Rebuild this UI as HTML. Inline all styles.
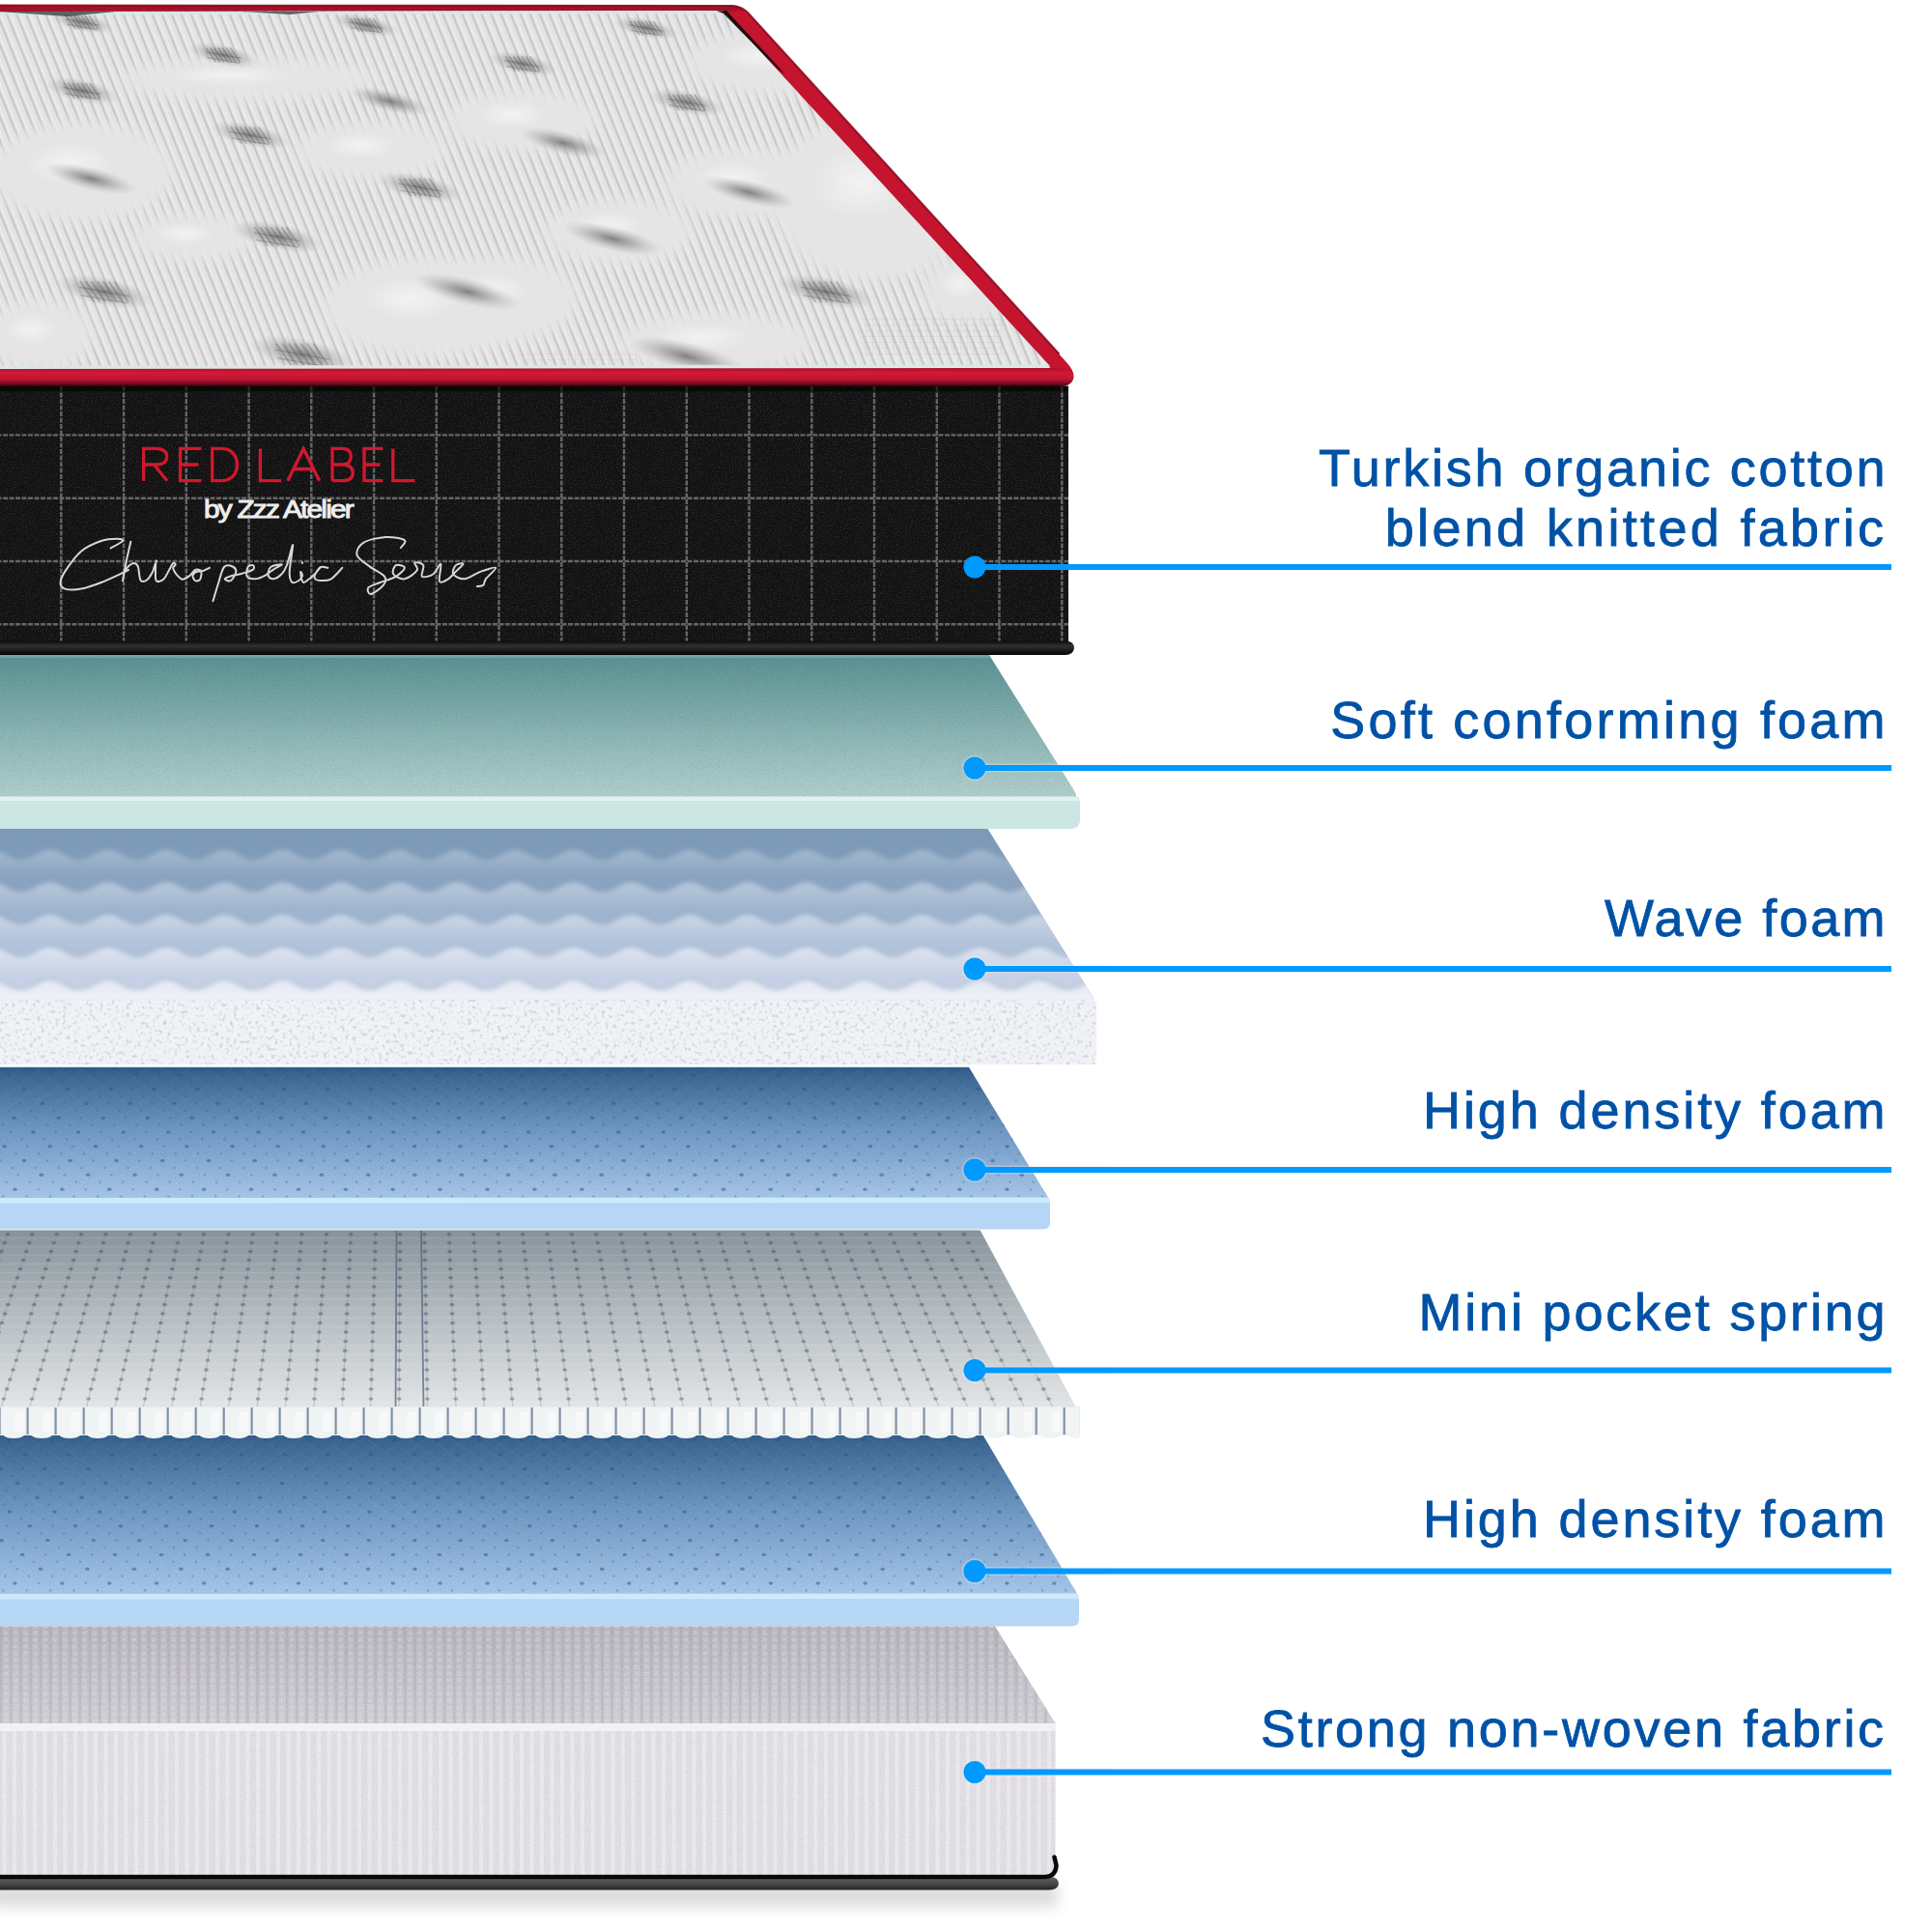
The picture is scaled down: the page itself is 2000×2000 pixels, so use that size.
<!DOCTYPE html>
<html>
<head>
<meta charset="utf-8">
<style>
html,body{margin:0;padding:0;background:#fff;}
body{width:2000px;height:2000px;position:relative;overflow:hidden;font-family:"Liberation Sans",sans-serif;}
svg{position:absolute;left:0;top:0;}
.lbl{position:absolute;right:46px;color:#0152a6;font-size:54px;line-height:1;letter-spacing:2.9px;white-space:nowrap;text-align:right;-webkit-text-stroke:0.8px #0152a6;}
</style>
</head>
<body>
<svg width="2000" height="2000" viewBox="0 0 2000 2000">
<defs>
  <linearGradient id="gRedBand" x1="0" y1="0" x2="0" y2="1">
    <stop offset="0" stop-color="#a80e28"/>
    <stop offset="0.25" stop-color="#d41a36"/>
    <stop offset="0.6" stop-color="#c01632"/>
    <stop offset="0.85" stop-color="#7a0a20"/>
    <stop offset="1" stop-color="#2a0508"/>
  </linearGradient>
  <linearGradient id="gTeal" x1="0" y1="0" x2="0" y2="1">
    <stop offset="0" stop-color="#5a9192"/>
    <stop offset="0.55" stop-color="#8db6b6"/>
    <stop offset="1" stop-color="#b2d2d1"/>
  </linearGradient>
  <linearGradient id="gWave" x1="0" y1="0" x2="0" y2="1">
    <stop offset="0" stop-color="#7b99b7"/>
    <stop offset="1" stop-color="#90aac5"/>
  </linearGradient>
  <linearGradient id="gHD" x1="0" y1="0" x2="0" y2="1">
    <stop offset="0" stop-color="#2f5a87"/>
    <stop offset="0.06" stop-color="#3c6793"/>
    <stop offset="0.45" stop-color="#6c96c2"/>
    <stop offset="1" stop-color="#a9c9ec"/>
  </linearGradient>
  <linearGradient id="gSpring" x1="0" y1="0" x2="0" y2="1">
    <stop offset="0" stop-color="#87929a"/>
    <stop offset="0.5" stop-color="#b7bec3"/>
    <stop offset="1" stop-color="#e4e6e8"/>
  </linearGradient>
  <linearGradient id="gNW" x1="0" y1="0" x2="0" y2="1">
    <stop offset="0" stop-color="#b5b2ba"/>
    <stop offset="1" stop-color="#cdcad2"/>
  </linearGradient>
  <pattern id="pHatch" width="21.75" height="15.5" patternUnits="userSpaceOnUse" x="18.6" y="8">
    <path d="M 0 0 L 21.75 15.5 M 21.75 0 L 0 15.5" stroke="#d6e8fa" stroke-width="1" opacity="0.35" fill="none"/>
  </pattern>
  <pattern id="pKnit" width="10.2" height="7" patternUnits="userSpaceOnUse">
    <rect x="0" y="0" width="2.5" height="7" fill="#9d99a3" opacity="0.8"/>
    <ellipse cx="6" cy="3.5" rx="2.6" ry="2.4" fill="#e2e0e6" opacity="0.8"/>
  </pattern>
  <pattern id="pGrid" width="7" height="6" patternUnits="userSpaceOnUse">
    <path d="M 0 0 H 7 M 0 0 V 6" stroke="#7a7a7a" stroke-width="1.2" fill="none"/>
  </pattern>
  <linearGradient id="gPipe3" x1="0" y1="0" x2="0" y2="1">
    <stop offset="0" stop-color="#606060"/>
    <stop offset="0.5" stop-color="#4a4a4a"/>
    <stop offset="1" stop-color="#252525"/>
  </linearGradient>
  <linearGradient id="gShadow" x1="0" y1="0" x2="0" y2="1">
    <stop offset="0" stop-color="#c4c4c4"/>
    <stop offset="0.4" stop-color="#e6e6e6"/>
    <stop offset="1" stop-color="#ffffff"/>
  </linearGradient>
  <linearGradient id="gPipe" x1="0" y1="0" x2="0" y2="1">
    <stop offset="0" stop-color="#0c0c0c"/>
    <stop offset="0.35" stop-color="#303030"/>
    <stop offset="0.7" stop-color="#1a1a1a"/>
    <stop offset="1" stop-color="#050505"/>
  </linearGradient>
  <linearGradient id="gPipe2" x1="0" y1="0" x2="0" y2="1">
    <stop offset="0" stop-color="#101010"/>
    <stop offset="0.3" stop-color="#2a2a2a"/>
    <stop offset="0.7" stop-color="#4a4a4a"/>
    <stop offset="1" stop-color="#3a3a3a"/>
  </linearGradient>
  <radialGradient id="gTuft">
    <stop offset="0" stop-color="#707070" stop-opacity="0.9"/>
    <stop offset="0.4" stop-color="#8c8c8c" stop-opacity="0.6"/>
    <stop offset="1" stop-color="#b0b0b0" stop-opacity="0"/>
  </radialGradient>
  <radialGradient id="gHi">
    <stop offset="0" stop-color="#ffffff" stop-opacity="0.75"/>
    <stop offset="1" stop-color="#ffffff" stop-opacity="0"/>
  </radialGradient>
  <pattern id="pStripe" width="9.3" height="9" patternUnits="userSpaceOnUse" patternTransform="rotate(-22)">
    <rect x="0" y="0" width="2.4" height="9" fill="#8a8a8a" opacity="0.6"/>
    <rect x="2.6" y="0" width="3" height="9" fill="#f6f6f6" opacity="0.75"/>
  </pattern>
  <filter id="fNoise" x="0" y="0" width="100%" height="100%">
    <feTurbulence type="fractalNoise" baseFrequency="0.9" numOctaves="2" seed="3"/>
    <feColorMatrix type="matrix" values="0 0 0 0 0  0 0 0 0 0  0 0 0 0 0  0 0 0 -2.2 1.25"/>
  </filter>
  <filter id="fNoise2" x="0" y="0" width="100%" height="100%">
    <feTurbulence type="fractalNoise" baseFrequency="0.26" numOctaves="2" seed="11"/>
    <feColorMatrix type="matrix" values="0 0 0 0 0.35  0 0 0 0 0.42  0 0 0 0 0.5  0 0 0 -4 1.85"/>
  </filter>
  <filter id="fNoiseW" x="0" y="0" width="100%" height="100%">
    <feTurbulence type="fractalNoise" baseFrequency="0.7" numOctaves="2" seed="7"/>
    <feColorMatrix type="matrix" values="0 0 0 0 1  0 0 0 0 1  0 0 0 0 1  0 0 0 -2.5 1.3"/>
  </filter>
  <filter id="fBlurW" x="-5%" y="-5%" width="110%" height="110%"><feGaussianBlur stdDeviation="2.6"/></filter>
  <filter id="fBlurS" x="0" y="0" width="100%" height="100%"><feGaussianBlur stdDeviation="0.7"/></filter>
  <filter id="fBlur05"><feGaussianBlur stdDeviation="0.6"/></filter>
  <filter id="fBlurSh" x="-10%" y="-100%" width="120%" height="300%"><feGaussianBlur stdDeviation="7"/></filter>
  <filter id="fBlurG" x="-1%" y="-1%" width="102%" height="102%"><feGaussianBlur stdDeviation="0.5"/></filter>
  <filter id="fBlur1"><feGaussianBlur stdDeviation="1"/></filter>
  <filter id="fBlur2"><feGaussianBlur stdDeviation="2.5"/></filter>
  <filter id="fBlur6" x="-30%" y="-50%" width="160%" height="200%"><feGaussianBlur stdDeviation="7"/></filter>
  <filter id="fBlur4"><feGaussianBlur stdDeviation="5"/></filter>
  <clipPath id="cFabric"><path d="M -10 12 L 748 11 L 1087 379 L -10 381 Z"/></clipPath>
  <clipPath id="cBlack"><rect x="-10" y="400" width="1116" height="264"/></clipPath>
  <clipPath id="cTeal"><path d="M -10 678 L 1024 678 L 1110 815 Q 1117 826 1112 828 L -10 828 Z"/></clipPath>
  <clipPath id="cWave"><path d="M -10 858 L 1022.5 858 L 1130 1030 Q 1134 1036 1130 1036 L -10 1036 Z"/></clipPath>
  <clipPath id="cHD1"><path d="M -10 1105 L 1003 1105 L 1080 1230 Q 1087 1241 1084 1243 L -10 1243 Z"/></clipPath>
  <clipPath id="cSpring"><path d="M -10 1273.5 L 1014.6 1273.5 L 1114 1457 L -10 1460 Z"/></clipPath>
  <clipPath id="cHD2"><path d="M -10 1483 L 1013.8 1483 L 1110 1640 Q 1117 1651 1114 1653 L -10 1653 Z"/></clipPath>
  <clipPath id="cCyl"><rect x="-10" y="1440" width="1127" height="60"/></clipPath>
  <clipPath id="cNW"><path d="M -10 1683.5 L 1030 1683.5 L 1092.5 1784 L -10 1784 Z"/></clipPath>
</defs>

<path d="M -10 5.5 L 758 6 Q 768 6.5 774 13 L 1104 375 Q 1115 387 1110 395 Q 1106 400 1098 400 L -10 400 Z" fill="#c4142e"/>
<path d="M -10 5.5 L 758 6 Q 768 6.5 774 13 L 1096 366" fill="none" stroke="#8c0a20" stroke-width="2" stroke-linecap="round" opacity="0.9"/>
<path d="M -10 5.5 L 758 6 Q 766 6.5 770 11 L 748 11.5 L -10 12.5 Z" fill="#6a0818" opacity="0.35"/>
<path d="M -10 12 L 748 11 L 1087 379 L -10 381 Z" fill="#e3e3e3"/>
<g clip-path="url(#cFabric)">
<rect x="-10" y="0" width="1120" height="400" fill="url(#pStripe)" opacity="0.5" filter="url(#fBlurS)"/>
<ellipse cx="540" cy="125" rx="77" ry="32" fill="#e5e5e5" opacity="1" filter="url(#fBlur6)"/>
<ellipse cx="770" cy="190" rx="82" ry="37" fill="#e5e5e5" opacity="1" filter="url(#fBlur6)"/>
<ellipse cx="640" cy="240" rx="77" ry="34" fill="#e5e5e5" opacity="1" filter="url(#fBlur6)"/>
<ellipse cx="520" cy="310" rx="77" ry="44" fill="#e5e5e5" opacity="1" filter="url(#fBlur6)"/>
<ellipse cx="740" cy="355" rx="99" ry="32" fill="#e5e5e5" opacity="1" filter="url(#fBlur6)"/>
<ellipse cx="800" cy="64" rx="88" ry="34" fill="#e5e5e5" opacity="1" filter="url(#fBlur6)"/>
<ellipse cx="905" cy="205" rx="105" ry="86" fill="#e5e5e5" opacity="1" filter="url(#fBlur6)"/>
<ellipse cx="256" cy="82" rx="132" ry="23" fill="#e5e5e5" opacity="1" filter="url(#fBlur6)"/>
<ellipse cx="85" cy="178" rx="94" ry="52" fill="#e5e5e5" opacity="1" filter="url(#fBlur6)"/>
<ellipse cx="384" cy="156" rx="77" ry="30" fill="#e5e5e5" opacity="1" filter="url(#fBlur6)"/>
<ellipse cx="200" cy="246" rx="63" ry="25" fill="#e5e5e5" opacity="1" filter="url(#fBlur6)"/>
<ellipse cx="440" cy="318" rx="105" ry="52" fill="#e5e5e5" opacity="1" filter="url(#fBlur6)"/>
<ellipse cx="40" cy="347" rx="55" ry="37" fill="#e5e5e5" opacity="1" filter="url(#fBlur6)"/>
<ellipse cx="960" cy="110" rx="44" ry="46" fill="#e5e5e5" opacity="1" filter="url(#fBlur6)"/>
<ellipse cx="1000" cy="300" rx="44" ry="34" fill="#e5e5e5" opacity="1" filter="url(#fBlur6)"/>
<ellipse cx="530" cy="119" rx="38" ry="14" fill="url(#gHi)" opacity="0.7"/>
<ellipse cx="759" cy="184" rx="41" ry="16" fill="url(#gHi)" opacity="0.7"/>
<ellipse cx="630" cy="234" rx="38" ry="15" fill="url(#gHi)" opacity="0.7"/>
<ellipse cx="510" cy="302" rx="38" ry="19" fill="url(#gHi)" opacity="0.7"/>
<ellipse cx="726" cy="349" rx="50" ry="14" fill="url(#gHi)" opacity="0.7"/>
<ellipse cx="788" cy="58" rx="44" ry="15" fill="url(#gHi)" opacity="0.7"/>
<ellipse cx="891" cy="190" rx="52" ry="38" fill="url(#gHi)" opacity="0.7"/>
<ellipse cx="238" cy="78" rx="66" ry="10" fill="url(#gHi)" opacity="0.7"/>
<ellipse cx="72" cy="169" rx="47" ry="22" fill="url(#gHi)" opacity="0.7"/>
<ellipse cx="374" cy="151" rx="38" ry="13" fill="url(#gHi)" opacity="0.7"/>
<ellipse cx="191" cy="242" rx="31" ry="11" fill="url(#gHi)" opacity="0.7"/>
<ellipse cx="426" cy="309" rx="52" ry="22" fill="url(#gHi)" opacity="0.7"/>
<ellipse cx="32" cy="341" rx="28" ry="16" fill="url(#gHi)" opacity="0.7"/>
<ellipse cx="954" cy="102" rx="22" ry="20" fill="url(#gHi)" opacity="0.7"/>
<ellipse cx="994" cy="294" rx="22" ry="15" fill="url(#gHi)" opacity="0.7"/>
<rect x="540.0" y="363.0" width="120" height="18" fill="url(#pGrid)" opacity="0.14" filter="url(#fBlur05)"/>
<rect x="890.0" y="328.0" width="150" height="40" fill="url(#pGrid)" opacity="0.14" filter="url(#fBlur05)"/>
<ellipse cx="404" cy="105" rx="43" ry="11" fill="url(#gTuft)" transform="rotate(14 404 105)" opacity="0.95"/>
<ellipse cx="583" cy="148" rx="46" ry="12" fill="url(#gTuft)" transform="rotate(14 583 148)" opacity="0.95"/>
<ellipse cx="94" cy="185" rx="49" ry="12" fill="url(#gTuft)" transform="rotate(14 94 185)" opacity="0.95"/>
<ellipse cx="775" cy="199" rx="50" ry="12" fill="url(#gTuft)" transform="rotate(14 775 199)" opacity="0.95"/>
<ellipse cx="634" cy="247" rx="53" ry="13" fill="url(#gTuft)" transform="rotate(14 634 247)" opacity="0.95"/>
<ellipse cx="484" cy="302" rx="57" ry="14" fill="url(#gTuft)" transform="rotate(14 484 302)" opacity="0.95"/>
<ellipse cx="711" cy="369" rx="62" ry="15" fill="url(#gTuft)" transform="rotate(14 711 369)" opacity="0.95"/>
<ellipse cx="85" cy="23" rx="34" ry="10" fill="url(#gTuft)" transform="rotate(12 85 23)" opacity="0.95"/>
<path d="M 68.6 16.0 L 78.0 30.0 M 72.5 16.0 L 81.9 30.0 M 76.4 16.0 L 85.8 30.0 M 80.3 16.0 L 89.7 30.0 M 84.2 16.0 L 93.6 30.0 M 88.1 16.0 L 97.5 30.0 M 92.0 16.0 L 101.4 30.0" stroke="#555" stroke-width="1.6" opacity="0.35" fill="none" filter="url(#fBlur05)"/>
<path d="M 67.8 19.9 L 102.2 26.1 M 69.3 25.3 L 100.7 30.8" stroke="#555" stroke-width="1.4" opacity="0.3" fill="none" filter="url(#fBlur05)"/>
<ellipse cx="379" cy="26" rx="35" ry="10" fill="url(#gTuft)" transform="rotate(12 379 26)" opacity="0.95"/>
<path d="M 362.5 18.9 L 371.9 33.1 M 366.4 18.9 L 375.8 33.1 M 370.3 18.9 L 379.8 33.1 M 374.3 18.9 L 383.7 33.1 M 378.2 18.9 L 387.7 33.1 M 382.2 18.9 L 391.6 33.1 M 386.1 18.9 L 395.5 33.1" stroke="#555" stroke-width="1.6" opacity="0.35" fill="none" filter="url(#fBlur05)"/>
<path d="M 361.7 22.8 L 396.3 29.2 M 363.2 28.4 L 394.8 33.9" stroke="#555" stroke-width="1.4" opacity="0.3" fill="none" filter="url(#fBlur05)"/>
<ellipse cx="669" cy="29" rx="35" ry="10" fill="url(#gTuft)" transform="rotate(12 669 29)" opacity="0.95"/>
<path d="M 652.4 21.9 L 661.9 36.1 M 656.3 21.9 L 665.8 36.1 M 660.3 21.9 L 669.8 36.1 M 664.2 21.9 L 673.8 36.1 M 668.2 21.9 L 677.7 36.1 M 672.2 21.9 L 681.7 36.1 M 676.1 21.9 L 685.6 36.1" stroke="#555" stroke-width="1.6" opacity="0.35" fill="none" filter="url(#fBlur05)"/>
<path d="M 651.6 25.8 L 686.4 32.2 M 653.2 31.4 L 684.8 36.9" stroke="#555" stroke-width="1.4" opacity="0.3" fill="none" filter="url(#fBlur05)"/>
<ellipse cx="231" cy="57" rx="37" ry="11" fill="url(#gTuft)" transform="rotate(12 231 57)" opacity="0.95"/>
<path d="M 213.5 49.5 L 223.5 64.5 M 217.7 49.5 L 227.7 64.5 M 221.8 49.5 L 231.8 64.5 M 226.0 49.5 L 236.0 64.5 M 230.2 49.5 L 240.2 64.5 M 234.3 49.5 L 244.3 64.5 M 238.5 49.5 L 248.5 64.5" stroke="#555" stroke-width="1.6" opacity="0.35" fill="none" filter="url(#fBlur05)"/>
<path d="M 212.7 53.7 L 249.3 60.3 M 214.3 59.5 L 247.7 65.3" stroke="#555" stroke-width="1.4" opacity="0.3" fill="none" filter="url(#fBlur05)"/>
<ellipse cx="541" cy="66" rx="37" ry="11" fill="url(#gTuft)" transform="rotate(12 541 66)" opacity="0.95"/>
<path d="M 523.2 58.4 L 533.4 73.6 M 527.5 58.4 L 537.6 73.6 M 531.7 58.4 L 541.8 73.6 M 535.9 58.4 L 546.1 73.6 M 540.2 58.4 L 550.3 73.6 M 544.4 58.4 L 554.5 73.6 M 548.6 58.4 L 558.8 73.6" stroke="#555" stroke-width="1.6" opacity="0.35" fill="none" filter="url(#fBlur05)"/>
<path d="M 522.4 62.6 L 559.6 69.4 M 524.1 68.5 L 557.9 74.5" stroke="#555" stroke-width="1.4" opacity="0.3" fill="none" filter="url(#fBlur05)"/>
<ellipse cx="85" cy="94" rx="39" ry="12" fill="url(#gTuft)" transform="rotate(12 85 94)" opacity="0.95"/>
<path d="M 66.4 86.0 L 77.0 102.0 M 70.8 86.0 L 81.5 102.0 M 75.3 86.0 L 85.9 102.0 M 79.7 86.0 L 90.3 102.0 M 84.1 86.0 L 94.7 102.0 M 88.5 86.0 L 99.2 102.0 M 93.0 86.0 L 103.6 102.0" stroke="#555" stroke-width="1.6" opacity="0.35" fill="none" filter="url(#fBlur05)"/>
<path d="M 65.5 90.5 L 104.5 97.5 M 67.3 96.7 L 102.7 102.9" stroke="#555" stroke-width="1.4" opacity="0.3" fill="none" filter="url(#fBlur05)"/>
<ellipse cx="711" cy="106" rx="40" ry="12" fill="url(#gTuft)" transform="rotate(12 711 106)" opacity="0.95"/>
<path d="M 692.0 97.9 L 702.9 114.1 M 696.5 97.9 L 707.4 114.1 M 701.1 97.9 L 711.9 114.1 M 705.6 97.9 L 716.4 114.1 M 710.1 97.9 L 720.9 114.1 M 714.6 97.9 L 725.5 114.1 M 719.1 97.9 L 730.0 114.1" stroke="#555" stroke-width="1.6" opacity="0.35" fill="none" filter="url(#fBlur05)"/>
<path d="M 691.1 102.4 L 730.9 109.6 M 692.9 108.7 L 729.1 115.0" stroke="#555" stroke-width="1.4" opacity="0.3" fill="none" filter="url(#fBlur05)"/>
<ellipse cx="259" cy="140" rx="42" ry="12" fill="url(#gTuft)" transform="rotate(12 259 140)" opacity="0.95"/>
<path d="M 239.0 131.4 L 250.4 148.6 M 243.8 131.4 L 255.2 148.6 M 248.5 131.4 L 260.0 148.6 M 253.3 131.4 L 264.7 148.6 M 258.0 131.4 L 269.5 148.6 M 262.8 131.4 L 274.2 148.6 M 267.6 131.4 L 279.0 148.6" stroke="#555" stroke-width="1.6" opacity="0.35" fill="none" filter="url(#fBlur05)"/>
<path d="M 238.0 136.2 L 280.0 143.8 M 239.9 142.9 L 278.1 149.5" stroke="#555" stroke-width="1.4" opacity="0.3" fill="none" filter="url(#fBlur05)"/>
<ellipse cx="435" cy="194" rx="45" ry="13" fill="url(#gTuft)" transform="rotate(12 435 194)" opacity="0.95"/>
<path d="M 413.4 184.7 L 425.7 203.3 M 418.5 184.7 L 430.9 203.3 M 423.7 184.7 L 436.0 203.3 M 428.8 184.7 L 441.2 203.3 M 434.0 184.7 L 446.3 203.3 M 439.1 184.7 L 451.5 203.3 M 444.3 184.7 L 456.6 203.3" stroke="#555" stroke-width="1.6" opacity="0.35" fill="none" filter="url(#fBlur05)"/>
<path d="M 412.3 189.9 L 457.7 198.1 M 414.4 197.1 L 455.6 204.3" stroke="#555" stroke-width="1.4" opacity="0.3" fill="none" filter="url(#fBlur05)"/>
<ellipse cx="287" cy="245" rx="49" ry="14" fill="url(#gTuft)" transform="rotate(12 287 245)" opacity="0.95"/>
<path d="M 263.8 235.1 L 277.1 254.9 M 269.3 235.1 L 282.6 254.9 M 274.8 235.1 L 288.1 254.9 M 280.4 235.1 L 293.6 254.9 M 285.9 235.1 L 299.2 254.9 M 291.4 235.1 L 304.7 254.9 M 296.9 235.1 L 310.2 254.9" stroke="#555" stroke-width="1.6" opacity="0.35" fill="none" filter="url(#fBlur05)"/>
<path d="M 262.7 240.6 L 311.3 249.4 M 264.9 248.3 L 309.1 256.0" stroke="#555" stroke-width="1.4" opacity="0.3" fill="none" filter="url(#fBlur05)"/>
<ellipse cx="108" cy="302" rx="52" ry="15" fill="url(#gTuft)" transform="rotate(12 108 302)" opacity="0.95"/>
<path d="M 83.1 291.3 L 97.3 312.7 M 89.0 291.3 L 103.3 312.7 M 94.9 291.3 L 109.2 312.7 M 100.9 291.3 L 115.1 312.7 M 106.8 291.3 L 121.1 312.7 M 112.7 291.3 L 127.0 312.7 M 118.7 291.3 L 132.9 312.7" stroke="#555" stroke-width="1.6" opacity="0.35" fill="none" filter="url(#fBlur05)"/>
<path d="M 81.9 297.3 L 134.1 306.7 M 84.3 305.6 L 131.7 313.9" stroke="#555" stroke-width="1.4" opacity="0.3" fill="none" filter="url(#fBlur05)"/>
<ellipse cx="855" cy="302" rx="52" ry="15" fill="url(#gTuft)" transform="rotate(12 855 302)" opacity="0.95"/>
<path d="M 830.1 291.3 L 844.3 312.7 M 836.0 291.3 L 850.3 312.7 M 841.9 291.3 L 856.2 312.7 M 847.9 291.3 L 862.1 312.7 M 853.8 291.3 L 868.1 312.7 M 859.7 291.3 L 874.0 312.7 M 865.7 291.3 L 879.9 312.7" stroke="#555" stroke-width="1.6" opacity="0.35" fill="none" filter="url(#fBlur05)"/>
<path d="M 828.9 297.3 L 881.1 306.7 M 831.3 305.6 L 878.7 313.9" stroke="#555" stroke-width="1.4" opacity="0.3" fill="none" filter="url(#fBlur05)"/>
<ellipse cx="313" cy="367" rx="56" ry="17" fill="url(#gTuft)" transform="rotate(12 313 367)" opacity="0.95"/>
<path d="M 286.1 355.5 L 301.5 378.5 M 292.5 355.5 L 307.9 378.5 M 298.9 355.5 L 314.3 378.5 M 305.3 355.5 L 320.7 378.5 M 311.7 355.5 L 327.1 378.5 M 318.1 355.5 L 333.5 378.5 M 324.5 355.5 L 339.9 378.5" stroke="#555" stroke-width="1.6" opacity="0.35" fill="none" filter="url(#fBlur05)"/>
<path d="M 284.8 361.9 L 341.2 372.1 M 287.4 370.8 L 338.6 379.8" stroke="#555" stroke-width="1.4" opacity="0.3" fill="none" filter="url(#fBlur05)"/>
<path d="M -10 12 L 748 11 L 751 14.5 L -10 15.5 Z" fill="#d9e6e6" opacity="0.9"/>
<path d="M -10 11.5 L 120 12 L 70 17 Z M 250 12 L 330 12 L 300 15 Z" fill="#111" opacity="0.6" filter="url(#fBlur05)"/>
</g>
<path d="M 742 11.5 L 752 11 L 812 76 L 806 72 L 749 14 Z" fill="#0a0a0a" opacity="0.9" filter="url(#fBlur05)"/>
<path d="M -10 378.5 L 1085 377.5 L 1088 382 L -10 382.5 Z" fill="#dbe7e7"/>
<path d="M -10 382 L 1092 381 Q 1112 383 1111 392 Q 1108 400 1096 400 L -10 400 Z" fill="url(#gRedBand)"/>
<rect x="-10" y="399.5" width="1116" height="265" fill="#121212"/>
<g clip-path="url(#cBlack)">
<rect x="-10" y="399" width="1120" height="266" fill="#000" filter="url(#fNoiseW)" opacity="0.12"/>
<g stroke="#7a7a7a" stroke-width="2.4" stroke-dasharray="5 1.5" opacity="0.8" filter="url(#fBlurG)">
<line x1="63.3" y1="400" x2="63.3" y2="664"/>
<line x1="128.1" y1="400" x2="128.1" y2="664"/>
<line x1="192.8" y1="400" x2="192.8" y2="664"/>
<line x1="257.6" y1="400" x2="257.6" y2="664"/>
<line x1="322.3" y1="400" x2="322.3" y2="664"/>
<line x1="387.1" y1="400" x2="387.1" y2="664"/>
<line x1="451.8" y1="400" x2="451.8" y2="664"/>
<line x1="516.5" y1="400" x2="516.5" y2="664"/>
<line x1="581.3" y1="400" x2="581.3" y2="664"/>
<line x1="646.0" y1="400" x2="646.0" y2="664"/>
<line x1="710.8" y1="400" x2="710.8" y2="664"/>
<line x1="775.5" y1="400" x2="775.5" y2="664"/>
<line x1="840.3" y1="400" x2="840.3" y2="664"/>
<line x1="905.0" y1="400" x2="905.0" y2="664"/>
<line x1="969.8" y1="400" x2="969.8" y2="664"/>
<line x1="1034.5" y1="400" x2="1034.5" y2="664"/>
<line x1="1099.3" y1="400" x2="1099.3" y2="664"/>
<line x1="-10" y1="450.4" x2="1106" y2="450.4"/>
<line x1="-10" y1="515.7" x2="1106" y2="515.7"/>
<line x1="-10" y1="581.0" x2="1106" y2="581.0"/>
<line x1="-10" y1="646.3" x2="1106" y2="646.3"/>
</g>
<rect x="-10" y="399" width="1120" height="6" fill="#000" opacity="0.6"/>
</g>
<path d="M148.6 497.7 V464.4 H161 C169.5 464.4 172.7 468 172.7 472.7 C172.7 477.5 169.5 481 161 481 H148.6 M159.5 481 L173 497.7 M208.5 464.4 H186.6 V497.7 H208.5 M186.6 481 H205.5 M219.7 464.4 V497.7 H229 C240 497.7 245.5 490 245.5 481 C245.5 472 240 464.4 229 464.4 Z M269.4 464.4 V497.7 H291 M297.8 497.7 L314.2 464.4 L330.6 497.7 M303.8 485.5 H324.6 M344 497.7 V464.4 H354.5 C361 464.4 363.3 468 363.3 472.6 C363.3 477 361 481 354.5 481 H344 M354.5 481 C362.3 481 365.3 485 365.3 489.3 C365.3 494 362.3 497.7 354.5 497.7 H344 M396.4 464.4 H377 V497.7 H396.4 M377 481 H393.5 M406.8 464.4 V497.7 H429.5" fill="none" stroke="#d3172e" stroke-width="3.3" stroke-linejoin="miter"/>
<text x="211" y="535.5" font-family="Liberation Sans" font-size="25" fill="#eeeeee" stroke="#eeeeee" stroke-width="0.9" textLength="154" lengthAdjust="spacingAndGlyphs" letter-spacing="-1.5">by Zzz Atelier</text>
<path d="M 114.6 567.4 C 116.7 566.2 125.9 561.6 127.0 560.0 C 128.1 558.4 125.0 557.8 121.3 557.8 C 117.6 557.8 110.9 557.9 104.7 560.0 C 98.5 562.1 90.2 565.5 84.0 570.7 C 77.8 575.9 71.0 585.9 67.4 591.4 C 63.8 596.9 62.5 600.8 62.5 603.8 C 62.5 606.8 63.8 608.6 67.4 609.6 C 71.0 610.6 77.8 610.7 84.0 609.6 C 90.2 608.5 97.5 605.8 104.7 603.0 C 111.9 600.2 122.3 595.2 127.0 593.0 C 131.7 590.8 132.0 590.5 133.0 590.0  M 135.3 560.8 C 134.6 564.0 132.4 573.2 131.0 580.0 C 129.6 586.8 127.7 597.8 127.0 601.3  M 127.9 593.0 C 128.9 591.8 131.9 587.2 133.7 585.6 C 135.5 584.0 137.1 583.0 138.6 583.1 C 140.1 583.2 141.8 584.2 142.8 586.4 C 143.8 588.6 143.9 593.9 144.4 596.4 C 144.9 598.9 144.8 600.6 146.1 601.3 C 147.3 602.0 149.9 602.0 151.9 600.5 C 153.9 599.0 156.5 594.9 158.0 592.0 C 159.5 589.1 160.5 583.1 161.0 583.0 C 161.5 582.9 160.9 588.4 161.0 591.4 C 161.1 594.4 160.4 599.9 161.8 601.3 C 163.2 602.7 167.2 601.4 169.3 599.7 C 171.4 598.1 172.7 594.2 174.3 591.4 C 176.0 588.6 178.0 584.2 179.2 583.1 C 180.4 582.0 181.7 584.0 181.7 584.8 C 181.7 585.6 178.8 586.2 179.2 588.1 C 179.6 590.0 182.5 594.5 184.2 596.4 C 185.9 598.3 187.3 599.7 189.2 599.7 C 191.1 599.7 193.6 598.0 195.8 596.4 C 198.0 594.8 200.3 590.6 202.4 589.8 C 204.5 589.0 207.4 589.7 208.2 591.4 C 209.0 593.1 208.0 598.4 207.0 600.0 C 206.0 601.6 203.2 601.7 202.0 601.0 C 200.8 600.3 199.3 597.5 199.5 596.0 C 199.7 594.5 201.2 592.8 203.0 592.0 C 204.8 591.2 207.7 591.7 210.0 591.0 C 212.3 590.3 215.8 588.3 217.0 587.8  M 220.5 622.2 C 221.4 619.2 224.1 609.9 226.0 604.0 C 227.9 598.1 229.5 589.9 232.0 587.0 C 234.5 584.1 238.8 585.6 240.8 586.5 C 242.9 587.4 244.6 589.8 244.3 592.2 C 244.0 594.6 240.9 599.8 239.0 601.0 C 237.1 602.2 232.5 600.2 232.8 599.3 C 233.1 598.4 238.0 596.7 240.8 595.8 C 243.6 594.9 246.1 595.0 249.6 594.0 C 253.1 593.0 259.8 591.1 261.9 589.6 C 263.9 588.1 262.8 585.6 261.9 585.2 C 261.0 584.8 257.6 585.1 256.6 587.0 C 255.6 588.9 254.5 594.6 255.7 596.6 C 256.9 598.6 260.5 599.4 263.6 599.3 C 266.7 599.2 271.0 597.4 274.2 595.8 C 277.4 594.2 280.1 591.5 283.0 589.6 C 285.9 587.7 292.2 584.7 291.8 584.3 C 291.4 583.9 282.7 585.1 280.3 587.0 C 277.9 588.9 277.2 593.8 277.7 595.8 C 278.1 597.8 280.6 599.6 283.0 599.3 C 285.4 599.0 289.5 596.4 291.8 594.0 C 294.1 591.6 295.1 590.0 297.0 585.0 C 298.9 580.0 302.8 562.8 303.2 564.0 C 303.6 565.2 299.8 585.7 299.7 592.2 C 299.6 598.7 300.7 601.3 302.3 602.8 C 303.9 604.3 307.6 602.1 309.4 601.0 C 311.2 599.9 312.7 597.5 313.0 596.0 C 313.3 594.5 311.0 591.1 311.1 592.2 C 311.2 593.3 312.3 601.6 313.8 602.8 C 315.3 604.0 317.8 600.9 320.0 599.3 C 322.2 597.7 324.9 595.1 327.0 593.1 C 329.1 591.1 330.2 587.9 332.3 587.0 C 334.4 586.1 338.1 587.7 339.3 587.8  M 339.3 587.8 C 338.1 587.7 334.4 586.1 332.3 587.0 C 330.2 587.9 328.1 591.1 327.0 593.1 C 325.9 595.1 325.1 597.7 326.0 599.0 C 326.9 600.3 329.5 601.0 332.3 601.0 C 335.1 601.0 339.1 601.5 342.8 599.3 C 346.5 597.1 352.4 589.7 354.3 587.8  M 414.9 567.0 C 415.5 565.7 421.4 561.0 418.8 559.2 C 416.2 557.4 406.5 555.6 399.4 556.0 C 392.3 556.4 381.1 558.7 376.1 561.8 C 371.1 564.9 368.5 570.7 369.6 574.8 C 370.7 578.9 377.9 582.7 382.6 586.4 C 387.4 590.1 395.7 593.6 398.1 596.8 C 400.5 600.0 399.2 602.8 396.8 605.8 C 394.4 608.8 386.5 614.5 383.9 614.9 C 381.3 615.3 379.8 610.3 381.3 608.4 C 382.8 606.5 388.1 605.1 392.9 603.2 C 397.6 601.3 405.5 599.4 409.8 596.8 C 414.1 594.2 418.8 589.7 418.8 587.7 C 418.8 585.8 411.7 584.0 409.8 585.1 C 407.9 586.2 405.7 591.8 407.2 594.2 C 408.7 596.6 414.7 599.9 418.8 599.3 C 422.9 598.6 430.1 593.1 431.8 590.3 C 433.5 587.5 428.1 583.4 429.2 582.5 C 430.3 581.6 436.9 582.7 438.2 585.1 C 439.5 587.5 435.2 595.3 436.9 596.8 C 438.6 598.3 445.4 596.4 448.6 594.2 C 451.8 592.0 455.2 582.5 456.3 583.8 C 457.4 585.1 453.7 599.3 455.0 601.9 C 456.3 604.5 461.3 601.0 464.1 599.3 C 466.9 597.6 469.3 594.2 471.9 591.6 C 474.5 589.0 479.6 584.9 479.6 583.8 C 479.6 582.7 473.6 583.4 471.9 585.1 C 470.2 586.8 467.8 591.8 469.3 594.2 C 470.8 596.6 476.1 599.7 480.9 599.3 C 485.6 598.9 492.4 593.5 497.8 591.6 C 503.2 589.7 512.4 586.4 513.3 587.7 C 514.1 589.0 505.1 596.3 502.9 599.3 C 500.7 602.3 501.8 604.5 500.3 605.8 C 498.8 607.1 495.0 606.9 493.9 607.1  M 161.8 580.5 L 162 581.5 M 312.9 582.2 L 313 583" fill="none" stroke="#d6d6d6" stroke-width="2" stroke-linecap="round" stroke-linejoin="round"/>
<path d="M -10 663.5 L 1104 663.5 Q 1112 664 1112 671 Q 1111 678 1103 678 L -10 678 Z" fill="url(#gPipe)"/>
<path d="M -10 678 L 1024 678 L 1110 815 Q 1117 826 1112 828 L -10 828 Z" fill="url(#gTeal)"/>
<g clip-path="url(#cTeal)"><rect x="-10" y="678" width="1130" height="152" fill="#000" filter="url(#fNoise)" opacity="0.10"/>
<rect x="-10" y="678" width="1130" height="3" fill="#72aaa9" opacity="0.8"/></g>
<path d="M -10 825 L 1116 825 Q 1118 827 1118 832 L 1118 850 Q 1117 858 1109 858 L -10 858 Z" fill="#cce6e4"/>
<path d="M -10 824.5 L 1112 824.5 Q 1117 826 1117 829 L -10 829 Z" fill="#e2f2f0"/>
<path d="M -10 858 L 1022.5 858 L 1130 1030 Q 1134 1036 1130 1036 L -10 1036 Z" fill="url(#gWave)"/>
<g clip-path="url(#cWave)"><g filter="url(#fBlurW)">
<linearGradient id="gW0" x1="0" y1="0" x2="0" y2="1" gradientUnits="objectBoundingBox"><stop offset="0" stop-color="#a3b9cf"/><stop offset="0.6" stop-color="#8aa4c0"/><stop offset="1" stop-color="#8aa4c0"/></linearGradient>
<path d="M -68.6 878.8 C -57.8 878.8 -49.3 888.8 -38.5 888.8 C -27.7 888.8 -19.2 878.8 -8.4 878.8 C 2.4 878.8 10.9 888.8 21.7 888.8 C 32.5 888.8 41.0 878.8 51.8 878.8 C 62.6 878.8 71.1 888.8 81.9 888.8 C 92.7 888.8 101.2 878.8 112.0 878.8 C 122.8 878.8 131.3 888.8 142.1 888.8 C 152.9 888.8 161.4 878.8 172.2 878.8 C 183.0 878.8 191.5 888.8 202.3 888.8 C 213.1 888.8 221.6 878.8 232.4 878.8 C 243.2 878.8 251.7 888.8 262.5 888.8 C 273.3 888.8 281.8 878.8 292.6 878.8 C 303.4 878.8 311.9 888.8 322.7 888.8 C 333.5 888.8 342.0 878.8 352.8 878.8 C 363.6 878.8 372.1 888.8 382.9 888.8 C 393.7 888.8 402.2 878.8 413.0 878.8 C 423.8 878.8 432.3 888.8 443.1 888.8 C 453.9 888.8 462.4 878.8 473.2 878.8 C 484.0 878.8 492.5 888.8 503.3 888.8 C 514.1 888.8 522.6 878.8 533.4 878.8 C 544.2 878.8 552.7 888.8 563.5 888.8 C 574.3 888.8 582.8 878.8 593.6 878.8 C 604.4 878.8 612.9 888.8 623.7 888.8 C 634.5 888.8 643.0 878.8 653.8 878.8 C 664.6 878.8 673.1 888.8 683.9 888.8 C 694.7 888.8 703.2 878.8 714.0 878.8 C 724.8 878.8 733.3 888.8 744.1 888.8 C 754.9 888.8 763.4 878.8 774.2 878.8 C 785.0 878.8 793.5 888.8 804.3 888.8 C 815.1 888.8 823.6 878.8 834.4 878.8 C 845.2 878.8 853.7 888.8 864.5 888.8 C 875.3 888.8 883.8 878.8 894.6 878.8 C 905.4 878.8 913.9 888.8 924.7 888.8 C 935.5 888.8 944.0 878.8 954.8 878.8 C 965.6 878.8 974.1 888.8 984.9 888.8 C 995.7 888.8 1004.2 878.8 1015.0 878.8 C 1025.8 878.8 1034.3 888.8 1045.1 888.8 C 1055.9 888.8 1064.4 878.8 1075.2 878.8 C 1086.0 878.8 1094.5 888.8 1105.3 888.8 C 1116.1 888.8 1124.6 878.8 1135.4 878.8 C 1146.2 878.8 1154.7 888.8 1165.5 888.8 C 1176.3 888.8 1184.8 878.8 1195.6 878.8 C 1206.4 878.8 1214.9 888.8 1225.7 888.8 C 1236.5 888.8 1245.0 878.8 1255.8 878.8 L 1255.8 925.4 L -68.6 925.4 Z" fill="#6f87a8" opacity="0.35" filter="url(#fBlur2)"/>
<path d="M -68.6 879.8 C -57.8 879.8 -49.3 889.8 -38.5 889.8 C -27.7 889.8 -19.2 879.8 -8.4 879.8 C 2.4 879.8 10.9 889.8 21.7 889.8 C 32.5 889.8 41.0 879.8 51.8 879.8 C 62.6 879.8 71.1 889.8 81.9 889.8 C 92.7 889.8 101.2 879.8 112.0 879.8 C 122.8 879.8 131.3 889.8 142.1 889.8 C 152.9 889.8 161.4 879.8 172.2 879.8 C 183.0 879.8 191.5 889.8 202.3 889.8 C 213.1 889.8 221.6 879.8 232.4 879.8 C 243.2 879.8 251.7 889.8 262.5 889.8 C 273.3 889.8 281.8 879.8 292.6 879.8 C 303.4 879.8 311.9 889.8 322.7 889.8 C 333.5 889.8 342.0 879.8 352.8 879.8 C 363.6 879.8 372.1 889.8 382.9 889.8 C 393.7 889.8 402.2 879.8 413.0 879.8 C 423.8 879.8 432.3 889.8 443.1 889.8 C 453.9 889.8 462.4 879.8 473.2 879.8 C 484.0 879.8 492.5 889.8 503.3 889.8 C 514.1 889.8 522.6 879.8 533.4 879.8 C 544.2 879.8 552.7 889.8 563.5 889.8 C 574.3 889.8 582.8 879.8 593.6 879.8 C 604.4 879.8 612.9 889.8 623.7 889.8 C 634.5 889.8 643.0 879.8 653.8 879.8 C 664.6 879.8 673.1 889.8 683.9 889.8 C 694.7 889.8 703.2 879.8 714.0 879.8 C 724.8 879.8 733.3 889.8 744.1 889.8 C 754.9 889.8 763.4 879.8 774.2 879.8 C 785.0 879.8 793.5 889.8 804.3 889.8 C 815.1 889.8 823.6 879.8 834.4 879.8 C 845.2 879.8 853.7 889.8 864.5 889.8 C 875.3 889.8 883.8 879.8 894.6 879.8 C 905.4 879.8 913.9 889.8 924.7 889.8 C 935.5 889.8 944.0 879.8 954.8 879.8 C 965.6 879.8 974.1 889.8 984.9 889.8 C 995.7 889.8 1004.2 879.8 1015.0 879.8 C 1025.8 879.8 1034.3 889.8 1045.1 889.8 C 1055.9 889.8 1064.4 879.8 1075.2 879.8 C 1086.0 879.8 1094.5 889.8 1105.3 889.8 C 1116.1 889.8 1124.6 879.8 1135.4 879.8 C 1146.2 879.8 1154.7 889.8 1165.5 889.8 C 1176.3 889.8 1184.8 879.8 1195.6 879.8 C 1206.4 879.8 1214.9 889.8 1225.7 889.8 C 1236.5 889.8 1245.0 879.8 1255.8 879.8 L 1255.8 925.4 L -68.6 925.4 Z" fill="url(#gW0)"/>
<linearGradient id="gW1" x1="0" y1="0" x2="0" y2="1" gradientUnits="objectBoundingBox"><stop offset="0" stop-color="#b8c9dc"/><stop offset="0.6" stop-color="#9fb4cd"/><stop offset="1" stop-color="#9fb4cd"/></linearGradient>
<path d="M -68.6 912.4 C -57.8 912.4 -49.3 922.4 -38.5 922.4 C -27.7 922.4 -19.2 912.4 -8.4 912.4 C 2.4 912.4 10.9 922.4 21.7 922.4 C 32.5 922.4 41.0 912.4 51.8 912.4 C 62.6 912.4 71.1 922.4 81.9 922.4 C 92.7 922.4 101.2 912.4 112.0 912.4 C 122.8 912.4 131.3 922.4 142.1 922.4 C 152.9 922.4 161.4 912.4 172.2 912.4 C 183.0 912.4 191.5 922.4 202.3 922.4 C 213.1 922.4 221.6 912.4 232.4 912.4 C 243.2 912.4 251.7 922.4 262.5 922.4 C 273.3 922.4 281.8 912.4 292.6 912.4 C 303.4 912.4 311.9 922.4 322.7 922.4 C 333.5 922.4 342.0 912.4 352.8 912.4 C 363.6 912.4 372.1 922.4 382.9 922.4 C 393.7 922.4 402.2 912.4 413.0 912.4 C 423.8 912.4 432.3 922.4 443.1 922.4 C 453.9 922.4 462.4 912.4 473.2 912.4 C 484.0 912.4 492.5 922.4 503.3 922.4 C 514.1 922.4 522.6 912.4 533.4 912.4 C 544.2 912.4 552.7 922.4 563.5 922.4 C 574.3 922.4 582.8 912.4 593.6 912.4 C 604.4 912.4 612.9 922.4 623.7 922.4 C 634.5 922.4 643.0 912.4 653.8 912.4 C 664.6 912.4 673.1 922.4 683.9 922.4 C 694.7 922.4 703.2 912.4 714.0 912.4 C 724.8 912.4 733.3 922.4 744.1 922.4 C 754.9 922.4 763.4 912.4 774.2 912.4 C 785.0 912.4 793.5 922.4 804.3 922.4 C 815.1 922.4 823.6 912.4 834.4 912.4 C 845.2 912.4 853.7 922.4 864.5 922.4 C 875.3 922.4 883.8 912.4 894.6 912.4 C 905.4 912.4 913.9 922.4 924.7 922.4 C 935.5 922.4 944.0 912.4 954.8 912.4 C 965.6 912.4 974.1 922.4 984.9 922.4 C 995.7 922.4 1004.2 912.4 1015.0 912.4 C 1025.8 912.4 1034.3 922.4 1045.1 922.4 C 1055.9 922.4 1064.4 912.4 1075.2 912.4 C 1086.0 912.4 1094.5 922.4 1105.3 922.4 C 1116.1 922.4 1124.6 912.4 1135.4 912.4 C 1146.2 912.4 1154.7 922.4 1165.5 922.4 C 1176.3 922.4 1184.8 912.4 1195.6 912.4 C 1206.4 912.4 1214.9 922.4 1225.7 922.4 C 1236.5 922.4 1245.0 912.4 1255.8 912.4 L 1255.8 959.0 L -68.6 959.0 Z" fill="#6f87a8" opacity="0.35" filter="url(#fBlur2)"/>
<path d="M -68.6 913.4 C -57.8 913.4 -49.3 923.4 -38.5 923.4 C -27.7 923.4 -19.2 913.4 -8.4 913.4 C 2.4 913.4 10.9 923.4 21.7 923.4 C 32.5 923.4 41.0 913.4 51.8 913.4 C 62.6 913.4 71.1 923.4 81.9 923.4 C 92.7 923.4 101.2 913.4 112.0 913.4 C 122.8 913.4 131.3 923.4 142.1 923.4 C 152.9 923.4 161.4 913.4 172.2 913.4 C 183.0 913.4 191.5 923.4 202.3 923.4 C 213.1 923.4 221.6 913.4 232.4 913.4 C 243.2 913.4 251.7 923.4 262.5 923.4 C 273.3 923.4 281.8 913.4 292.6 913.4 C 303.4 913.4 311.9 923.4 322.7 923.4 C 333.5 923.4 342.0 913.4 352.8 913.4 C 363.6 913.4 372.1 923.4 382.9 923.4 C 393.7 923.4 402.2 913.4 413.0 913.4 C 423.8 913.4 432.3 923.4 443.1 923.4 C 453.9 923.4 462.4 913.4 473.2 913.4 C 484.0 913.4 492.5 923.4 503.3 923.4 C 514.1 923.4 522.6 913.4 533.4 913.4 C 544.2 913.4 552.7 923.4 563.5 923.4 C 574.3 923.4 582.8 913.4 593.6 913.4 C 604.4 913.4 612.9 923.4 623.7 923.4 C 634.5 923.4 643.0 913.4 653.8 913.4 C 664.6 913.4 673.1 923.4 683.9 923.4 C 694.7 923.4 703.2 913.4 714.0 913.4 C 724.8 913.4 733.3 923.4 744.1 923.4 C 754.9 923.4 763.4 913.4 774.2 913.4 C 785.0 913.4 793.5 923.4 804.3 923.4 C 815.1 923.4 823.6 913.4 834.4 913.4 C 845.2 913.4 853.7 923.4 864.5 923.4 C 875.3 923.4 883.8 913.4 894.6 913.4 C 905.4 913.4 913.9 923.4 924.7 923.4 C 935.5 923.4 944.0 913.4 954.8 913.4 C 965.6 913.4 974.1 923.4 984.9 923.4 C 995.7 923.4 1004.2 913.4 1015.0 913.4 C 1025.8 913.4 1034.3 923.4 1045.1 923.4 C 1055.9 923.4 1064.4 913.4 1075.2 913.4 C 1086.0 913.4 1094.5 923.4 1105.3 923.4 C 1116.1 923.4 1124.6 913.4 1135.4 913.4 C 1146.2 913.4 1154.7 923.4 1165.5 923.4 C 1176.3 923.4 1184.8 913.4 1195.6 913.4 C 1206.4 913.4 1214.9 923.4 1225.7 923.4 C 1236.5 923.4 1245.0 913.4 1255.8 913.4 L 1255.8 959.0 L -68.6 959.0 Z" fill="url(#gW1)"/>
<linearGradient id="gW2" x1="0" y1="0" x2="0" y2="1" gradientUnits="objectBoundingBox"><stop offset="0" stop-color="#cbd7e6"/><stop offset="0.6" stop-color="#b2c3da"/><stop offset="1" stop-color="#b2c3da"/></linearGradient>
<path d="M -68.6 946.0 C -57.8 946.0 -49.3 956.0 -38.5 956.0 C -27.7 956.0 -19.2 946.0 -8.4 946.0 C 2.4 946.0 10.9 956.0 21.7 956.0 C 32.5 956.0 41.0 946.0 51.8 946.0 C 62.6 946.0 71.1 956.0 81.9 956.0 C 92.7 956.0 101.2 946.0 112.0 946.0 C 122.8 946.0 131.3 956.0 142.1 956.0 C 152.9 956.0 161.4 946.0 172.2 946.0 C 183.0 946.0 191.5 956.0 202.3 956.0 C 213.1 956.0 221.6 946.0 232.4 946.0 C 243.2 946.0 251.7 956.0 262.5 956.0 C 273.3 956.0 281.8 946.0 292.6 946.0 C 303.4 946.0 311.9 956.0 322.7 956.0 C 333.5 956.0 342.0 946.0 352.8 946.0 C 363.6 946.0 372.1 956.0 382.9 956.0 C 393.7 956.0 402.2 946.0 413.0 946.0 C 423.8 946.0 432.3 956.0 443.1 956.0 C 453.9 956.0 462.4 946.0 473.2 946.0 C 484.0 946.0 492.5 956.0 503.3 956.0 C 514.1 956.0 522.6 946.0 533.4 946.0 C 544.2 946.0 552.7 956.0 563.5 956.0 C 574.3 956.0 582.8 946.0 593.6 946.0 C 604.4 946.0 612.9 956.0 623.7 956.0 C 634.5 956.0 643.0 946.0 653.8 946.0 C 664.6 946.0 673.1 956.0 683.9 956.0 C 694.7 956.0 703.2 946.0 714.0 946.0 C 724.8 946.0 733.3 956.0 744.1 956.0 C 754.9 956.0 763.4 946.0 774.2 946.0 C 785.0 946.0 793.5 956.0 804.3 956.0 C 815.1 956.0 823.6 946.0 834.4 946.0 C 845.2 946.0 853.7 956.0 864.5 956.0 C 875.3 956.0 883.8 946.0 894.6 946.0 C 905.4 946.0 913.9 956.0 924.7 956.0 C 935.5 956.0 944.0 946.0 954.8 946.0 C 965.6 946.0 974.1 956.0 984.9 956.0 C 995.7 956.0 1004.2 946.0 1015.0 946.0 C 1025.8 946.0 1034.3 956.0 1045.1 956.0 C 1055.9 956.0 1064.4 946.0 1075.2 946.0 C 1086.0 946.0 1094.5 956.0 1105.3 956.0 C 1116.1 956.0 1124.6 946.0 1135.4 946.0 C 1146.2 946.0 1154.7 956.0 1165.5 956.0 C 1176.3 956.0 1184.8 946.0 1195.6 946.0 C 1206.4 946.0 1214.9 956.0 1225.7 956.0 C 1236.5 956.0 1245.0 946.0 1255.8 946.0 L 1255.8 992.7 L -68.6 992.7 Z" fill="#6f87a8" opacity="0.35" filter="url(#fBlur2)"/>
<path d="M -68.6 947.0 C -57.8 947.0 -49.3 957.0 -38.5 957.0 C -27.7 957.0 -19.2 947.0 -8.4 947.0 C 2.4 947.0 10.9 957.0 21.7 957.0 C 32.5 957.0 41.0 947.0 51.8 947.0 C 62.6 947.0 71.1 957.0 81.9 957.0 C 92.7 957.0 101.2 947.0 112.0 947.0 C 122.8 947.0 131.3 957.0 142.1 957.0 C 152.9 957.0 161.4 947.0 172.2 947.0 C 183.0 947.0 191.5 957.0 202.3 957.0 C 213.1 957.0 221.6 947.0 232.4 947.0 C 243.2 947.0 251.7 957.0 262.5 957.0 C 273.3 957.0 281.8 947.0 292.6 947.0 C 303.4 947.0 311.9 957.0 322.7 957.0 C 333.5 957.0 342.0 947.0 352.8 947.0 C 363.6 947.0 372.1 957.0 382.9 957.0 C 393.7 957.0 402.2 947.0 413.0 947.0 C 423.8 947.0 432.3 957.0 443.1 957.0 C 453.9 957.0 462.4 947.0 473.2 947.0 C 484.0 947.0 492.5 957.0 503.3 957.0 C 514.1 957.0 522.6 947.0 533.4 947.0 C 544.2 947.0 552.7 957.0 563.5 957.0 C 574.3 957.0 582.8 947.0 593.6 947.0 C 604.4 947.0 612.9 957.0 623.7 957.0 C 634.5 957.0 643.0 947.0 653.8 947.0 C 664.6 947.0 673.1 957.0 683.9 957.0 C 694.7 957.0 703.2 947.0 714.0 947.0 C 724.8 947.0 733.3 957.0 744.1 957.0 C 754.9 957.0 763.4 947.0 774.2 947.0 C 785.0 947.0 793.5 957.0 804.3 957.0 C 815.1 957.0 823.6 947.0 834.4 947.0 C 845.2 947.0 853.7 957.0 864.5 957.0 C 875.3 957.0 883.8 947.0 894.6 947.0 C 905.4 947.0 913.9 957.0 924.7 957.0 C 935.5 957.0 944.0 947.0 954.8 947.0 C 965.6 947.0 974.1 957.0 984.9 957.0 C 995.7 957.0 1004.2 947.0 1015.0 947.0 C 1025.8 947.0 1034.3 957.0 1045.1 957.0 C 1055.9 957.0 1064.4 947.0 1075.2 947.0 C 1086.0 947.0 1094.5 957.0 1105.3 957.0 C 1116.1 957.0 1124.6 947.0 1135.4 947.0 C 1146.2 947.0 1154.7 957.0 1165.5 957.0 C 1176.3 957.0 1184.8 947.0 1195.6 947.0 C 1206.4 947.0 1214.9 957.0 1225.7 957.0 C 1236.5 957.0 1245.0 947.0 1255.8 947.0 L 1255.8 992.7 L -68.6 992.7 Z" fill="url(#gW2)"/>
<linearGradient id="gW3" x1="0" y1="0" x2="0" y2="1" gradientUnits="objectBoundingBox"><stop offset="0" stop-color="#dde5f0"/><stop offset="0.6" stop-color="#c6d1e5"/><stop offset="1" stop-color="#c6d1e5"/></linearGradient>
<path d="M -68.6 979.7 C -57.8 979.7 -49.3 989.7 -38.5 989.7 C -27.7 989.7 -19.2 979.7 -8.4 979.7 C 2.4 979.7 10.9 989.7 21.7 989.7 C 32.5 989.7 41.0 979.7 51.8 979.7 C 62.6 979.7 71.1 989.7 81.9 989.7 C 92.7 989.7 101.2 979.7 112.0 979.7 C 122.8 979.7 131.3 989.7 142.1 989.7 C 152.9 989.7 161.4 979.7 172.2 979.7 C 183.0 979.7 191.5 989.7 202.3 989.7 C 213.1 989.7 221.6 979.7 232.4 979.7 C 243.2 979.7 251.7 989.7 262.5 989.7 C 273.3 989.7 281.8 979.7 292.6 979.7 C 303.4 979.7 311.9 989.7 322.7 989.7 C 333.5 989.7 342.0 979.7 352.8 979.7 C 363.6 979.7 372.1 989.7 382.9 989.7 C 393.7 989.7 402.2 979.7 413.0 979.7 C 423.8 979.7 432.3 989.7 443.1 989.7 C 453.9 989.7 462.4 979.7 473.2 979.7 C 484.0 979.7 492.5 989.7 503.3 989.7 C 514.1 989.7 522.6 979.7 533.4 979.7 C 544.2 979.7 552.7 989.7 563.5 989.7 C 574.3 989.7 582.8 979.7 593.6 979.7 C 604.4 979.7 612.9 989.7 623.7 989.7 C 634.5 989.7 643.0 979.7 653.8 979.7 C 664.6 979.7 673.1 989.7 683.9 989.7 C 694.7 989.7 703.2 979.7 714.0 979.7 C 724.8 979.7 733.3 989.7 744.1 989.7 C 754.9 989.7 763.4 979.7 774.2 979.7 C 785.0 979.7 793.5 989.7 804.3 989.7 C 815.1 989.7 823.6 979.7 834.4 979.7 C 845.2 979.7 853.7 989.7 864.5 989.7 C 875.3 989.7 883.8 979.7 894.6 979.7 C 905.4 979.7 913.9 989.7 924.7 989.7 C 935.5 989.7 944.0 979.7 954.8 979.7 C 965.6 979.7 974.1 989.7 984.9 989.7 C 995.7 989.7 1004.2 979.7 1015.0 979.7 C 1025.8 979.7 1034.3 989.7 1045.1 989.7 C 1055.9 989.7 1064.4 979.7 1075.2 979.7 C 1086.0 979.7 1094.5 989.7 1105.3 989.7 C 1116.1 989.7 1124.6 979.7 1135.4 979.7 C 1146.2 979.7 1154.7 989.7 1165.5 989.7 C 1176.3 989.7 1184.8 979.7 1195.6 979.7 C 1206.4 979.7 1214.9 989.7 1225.7 989.7 C 1236.5 989.7 1245.0 979.7 1255.8 979.7 L 1255.8 1027.6 L -68.6 1027.6 Z" fill="#6f87a8" opacity="0.35" filter="url(#fBlur2)"/>
<path d="M -68.6 980.7 C -57.8 980.7 -49.3 990.7 -38.5 990.7 C -27.7 990.7 -19.2 980.7 -8.4 980.7 C 2.4 980.7 10.9 990.7 21.7 990.7 C 32.5 990.7 41.0 980.7 51.8 980.7 C 62.6 980.7 71.1 990.7 81.9 990.7 C 92.7 990.7 101.2 980.7 112.0 980.7 C 122.8 980.7 131.3 990.7 142.1 990.7 C 152.9 990.7 161.4 980.7 172.2 980.7 C 183.0 980.7 191.5 990.7 202.3 990.7 C 213.1 990.7 221.6 980.7 232.4 980.7 C 243.2 980.7 251.7 990.7 262.5 990.7 C 273.3 990.7 281.8 980.7 292.6 980.7 C 303.4 980.7 311.9 990.7 322.7 990.7 C 333.5 990.7 342.0 980.7 352.8 980.7 C 363.6 980.7 372.1 990.7 382.9 990.7 C 393.7 990.7 402.2 980.7 413.0 980.7 C 423.8 980.7 432.3 990.7 443.1 990.7 C 453.9 990.7 462.4 980.7 473.2 980.7 C 484.0 980.7 492.5 990.7 503.3 990.7 C 514.1 990.7 522.6 980.7 533.4 980.7 C 544.2 980.7 552.7 990.7 563.5 990.7 C 574.3 990.7 582.8 980.7 593.6 980.7 C 604.4 980.7 612.9 990.7 623.7 990.7 C 634.5 990.7 643.0 980.7 653.8 980.7 C 664.6 980.7 673.1 990.7 683.9 990.7 C 694.7 990.7 703.2 980.7 714.0 980.7 C 724.8 980.7 733.3 990.7 744.1 990.7 C 754.9 990.7 763.4 980.7 774.2 980.7 C 785.0 980.7 793.5 990.7 804.3 990.7 C 815.1 990.7 823.6 980.7 834.4 980.7 C 845.2 980.7 853.7 990.7 864.5 990.7 C 875.3 990.7 883.8 980.7 894.6 980.7 C 905.4 980.7 913.9 990.7 924.7 990.7 C 935.5 990.7 944.0 980.7 954.8 980.7 C 965.6 980.7 974.1 990.7 984.9 990.7 C 995.7 990.7 1004.2 980.7 1015.0 980.7 C 1025.8 980.7 1034.3 990.7 1045.1 990.7 C 1055.9 990.7 1064.4 980.7 1075.2 980.7 C 1086.0 980.7 1094.5 990.7 1105.3 990.7 C 1116.1 990.7 1124.6 980.7 1135.4 980.7 C 1146.2 980.7 1154.7 990.7 1165.5 990.7 C 1176.3 990.7 1184.8 980.7 1195.6 980.7 C 1206.4 980.7 1214.9 990.7 1225.7 990.7 C 1236.5 990.7 1245.0 980.7 1255.8 980.7 L 1255.8 1027.6 L -68.6 1027.6 Z" fill="url(#gW3)"/>
<linearGradient id="gW4" x1="0" y1="0" x2="0" y2="1" gradientUnits="objectBoundingBox"><stop offset="0" stop-color="#eef2f7"/><stop offset="0.6" stop-color="#dce3ee"/><stop offset="1" stop-color="#dce3ee"/></linearGradient>
<path d="M -68.6 1014.6 C -57.8 1014.6 -49.3 1024.6 -38.5 1024.6 C -27.7 1024.6 -19.2 1014.6 -8.4 1014.6 C 2.4 1014.6 10.9 1024.6 21.7 1024.6 C 32.5 1024.6 41.0 1014.6 51.8 1014.6 C 62.6 1014.6 71.1 1024.6 81.9 1024.6 C 92.7 1024.6 101.2 1014.6 112.0 1014.6 C 122.8 1014.6 131.3 1024.6 142.1 1024.6 C 152.9 1024.6 161.4 1014.6 172.2 1014.6 C 183.0 1014.6 191.5 1024.6 202.3 1024.6 C 213.1 1024.6 221.6 1014.6 232.4 1014.6 C 243.2 1014.6 251.7 1024.6 262.5 1024.6 C 273.3 1024.6 281.8 1014.6 292.6 1014.6 C 303.4 1014.6 311.9 1024.6 322.7 1024.6 C 333.5 1024.6 342.0 1014.6 352.8 1014.6 C 363.6 1014.6 372.1 1024.6 382.9 1024.6 C 393.7 1024.6 402.2 1014.6 413.0 1014.6 C 423.8 1014.6 432.3 1024.6 443.1 1024.6 C 453.9 1024.6 462.4 1014.6 473.2 1014.6 C 484.0 1014.6 492.5 1024.6 503.3 1024.6 C 514.1 1024.6 522.6 1014.6 533.4 1014.6 C 544.2 1014.6 552.7 1024.6 563.5 1024.6 C 574.3 1024.6 582.8 1014.6 593.6 1014.6 C 604.4 1014.6 612.9 1024.6 623.7 1024.6 C 634.5 1024.6 643.0 1014.6 653.8 1014.6 C 664.6 1014.6 673.1 1024.6 683.9 1024.6 C 694.7 1024.6 703.2 1014.6 714.0 1014.6 C 724.8 1014.6 733.3 1024.6 744.1 1024.6 C 754.9 1024.6 763.4 1014.6 774.2 1014.6 C 785.0 1014.6 793.5 1024.6 804.3 1024.6 C 815.1 1024.6 823.6 1014.6 834.4 1014.6 C 845.2 1014.6 853.7 1024.6 864.5 1024.6 C 875.3 1024.6 883.8 1014.6 894.6 1014.6 C 905.4 1014.6 913.9 1024.6 924.7 1024.6 C 935.5 1024.6 944.0 1014.6 954.8 1014.6 C 965.6 1014.6 974.1 1024.6 984.9 1024.6 C 995.7 1024.6 1004.2 1014.6 1015.0 1014.6 C 1025.8 1014.6 1034.3 1024.6 1045.1 1024.6 C 1055.9 1024.6 1064.4 1014.6 1075.2 1014.6 C 1086.0 1014.6 1094.5 1024.6 1105.3 1024.6 C 1116.1 1024.6 1124.6 1014.6 1135.4 1014.6 C 1146.2 1014.6 1154.7 1024.6 1165.5 1024.6 C 1176.3 1024.6 1184.8 1014.6 1195.6 1014.6 C 1206.4 1014.6 1214.9 1024.6 1225.7 1024.6 C 1236.5 1024.6 1245.0 1014.6 1255.8 1014.6 L 1255.8 1040 L -68.6 1040 Z" fill="#6f87a8" opacity="0.35" filter="url(#fBlur2)"/>
<path d="M -68.6 1015.6 C -57.8 1015.6 -49.3 1025.6 -38.5 1025.6 C -27.7 1025.6 -19.2 1015.6 -8.4 1015.6 C 2.4 1015.6 10.9 1025.6 21.7 1025.6 C 32.5 1025.6 41.0 1015.6 51.8 1015.6 C 62.6 1015.6 71.1 1025.6 81.9 1025.6 C 92.7 1025.6 101.2 1015.6 112.0 1015.6 C 122.8 1015.6 131.3 1025.6 142.1 1025.6 C 152.9 1025.6 161.4 1015.6 172.2 1015.6 C 183.0 1015.6 191.5 1025.6 202.3 1025.6 C 213.1 1025.6 221.6 1015.6 232.4 1015.6 C 243.2 1015.6 251.7 1025.6 262.5 1025.6 C 273.3 1025.6 281.8 1015.6 292.6 1015.6 C 303.4 1015.6 311.9 1025.6 322.7 1025.6 C 333.5 1025.6 342.0 1015.6 352.8 1015.6 C 363.6 1015.6 372.1 1025.6 382.9 1025.6 C 393.7 1025.6 402.2 1015.6 413.0 1015.6 C 423.8 1015.6 432.3 1025.6 443.1 1025.6 C 453.9 1025.6 462.4 1015.6 473.2 1015.6 C 484.0 1015.6 492.5 1025.6 503.3 1025.6 C 514.1 1025.6 522.6 1015.6 533.4 1015.6 C 544.2 1015.6 552.7 1025.6 563.5 1025.6 C 574.3 1025.6 582.8 1015.6 593.6 1015.6 C 604.4 1015.6 612.9 1025.6 623.7 1025.6 C 634.5 1025.6 643.0 1015.6 653.8 1015.6 C 664.6 1015.6 673.1 1025.6 683.9 1025.6 C 694.7 1025.6 703.2 1015.6 714.0 1015.6 C 724.8 1015.6 733.3 1025.6 744.1 1025.6 C 754.9 1025.6 763.4 1015.6 774.2 1015.6 C 785.0 1015.6 793.5 1025.6 804.3 1025.6 C 815.1 1025.6 823.6 1015.6 834.4 1015.6 C 845.2 1015.6 853.7 1025.6 864.5 1025.6 C 875.3 1025.6 883.8 1015.6 894.6 1015.6 C 905.4 1015.6 913.9 1025.6 924.7 1025.6 C 935.5 1025.6 944.0 1015.6 954.8 1015.6 C 965.6 1015.6 974.1 1025.6 984.9 1025.6 C 995.7 1025.6 1004.2 1015.6 1015.0 1015.6 C 1025.8 1015.6 1034.3 1025.6 1045.1 1025.6 C 1055.9 1025.6 1064.4 1015.6 1075.2 1015.6 C 1086.0 1015.6 1094.5 1025.6 1105.3 1025.6 C 1116.1 1025.6 1124.6 1015.6 1135.4 1015.6 C 1146.2 1015.6 1154.7 1025.6 1165.5 1025.6 C 1176.3 1025.6 1184.8 1015.6 1195.6 1015.6 C 1206.4 1015.6 1214.9 1025.6 1225.7 1025.6 C 1236.5 1025.6 1245.0 1015.6 1255.8 1015.6 L 1255.8 1040 L -68.6 1040 Z" fill="url(#gW4)"/>
<rect x="-10" y="1026" width="1150" height="12" fill="#f3f5f9" opacity="0.8" filter="url(#fBlur2)"/>
</g></g>
<path d="M -10 1035.5 L 1133 1035.5 Q 1135 1037 1135 1041 L 1135 1095 Q 1134 1102 1127 1102 L -10 1102 Z" fill="#f0f2f5"/>
<path d="M -10 1035.5 L 1133 1035.5 Q 1135 1037 1135 1041 L 1135 1095 Q 1134 1102 1127 1102 L -10 1102 Z" fill="#000" filter="url(#fNoise2)" opacity="0.42"/>
<path d="M -10 1104.75 L 1003 1104.75 L 1081 1233 Q 1087 1241 1084 1243 L -10 1243 Z" fill="url(#gHD)"/>
<g clip-path="url(#cHD1)">
<g fill="#2e5680" opacity="0.28"><circle cx="-2.0" cy="1120.2" r="1.3"/><circle cx="31.3" cy="1112.8" r="1.3"/><circle cx="20.2" cy="1120.2" r="1.3"/><circle cx="42.4" cy="1120.2" r="1.3"/><circle cx="75.6" cy="1112.8" r="1.3"/><circle cx="64.5" cy="1120.2" r="1.3"/><circle cx="86.7" cy="1120.2" r="1.3"/><circle cx="119.9" cy="1112.8" r="1.3"/><circle cx="108.8" cy="1120.2" r="1.3"/><circle cx="131.0" cy="1120.2" r="1.3"/><circle cx="164.2" cy="1112.8" r="1.3"/><circle cx="153.1" cy="1120.2" r="1.3"/><circle cx="175.3" cy="1120.2" r="1.3"/><circle cx="208.5" cy="1112.8" r="1.3"/><circle cx="197.4" cy="1120.2" r="1.3"/><circle cx="219.6" cy="1120.2" r="1.3"/><circle cx="252.8" cy="1112.8" r="1.3"/><circle cx="241.8" cy="1120.2" r="1.3"/><circle cx="263.9" cy="1120.2" r="1.3"/><circle cx="297.1" cy="1112.8" r="1.3"/><circle cx="286.1" cy="1120.2" r="1.3"/><circle cx="308.2" cy="1120.2" r="1.3"/><circle cx="341.5" cy="1112.8" r="1.3"/><circle cx="330.4" cy="1120.2" r="1.3"/><circle cx="352.5" cy="1120.2" r="1.3"/><circle cx="385.8" cy="1112.8" r="1.3"/><circle cx="374.7" cy="1120.2" r="1.3"/><circle cx="396.8" cy="1120.2" r="1.3"/><circle cx="430.1" cy="1112.8" r="1.3"/><circle cx="419.0" cy="1120.2" r="1.3"/><circle cx="441.1" cy="1120.2" r="1.3"/><circle cx="474.4" cy="1112.8" r="1.3"/><circle cx="463.3" cy="1120.2" r="1.3"/><circle cx="485.5" cy="1120.2" r="1.3"/><circle cx="518.7" cy="1112.8" r="1.3"/><circle cx="507.6" cy="1120.2" r="1.3"/><circle cx="529.8" cy="1120.2" r="1.3"/><circle cx="563.0" cy="1112.8" r="1.3"/><circle cx="551.9" cy="1120.2" r="1.3"/><circle cx="574.1" cy="1120.2" r="1.3"/><circle cx="607.3" cy="1112.8" r="1.3"/><circle cx="596.2" cy="1120.2" r="1.3"/><circle cx="618.4" cy="1120.2" r="1.3"/><circle cx="651.6" cy="1112.8" r="1.3"/><circle cx="640.5" cy="1120.2" r="1.3"/><circle cx="662.7" cy="1120.2" r="1.3"/><circle cx="695.9" cy="1112.8" r="1.3"/><circle cx="684.9" cy="1120.2" r="1.3"/><circle cx="707.0" cy="1120.2" r="1.3"/><circle cx="740.2" cy="1112.8" r="1.3"/><circle cx="729.2" cy="1120.2" r="1.3"/><circle cx="751.3" cy="1120.2" r="1.3"/><circle cx="784.6" cy="1112.8" r="1.3"/><circle cx="773.5" cy="1120.2" r="1.3"/><circle cx="795.6" cy="1120.2" r="1.3"/><circle cx="828.9" cy="1112.8" r="1.3"/><circle cx="817.8" cy="1120.2" r="1.3"/><circle cx="839.9" cy="1120.2" r="1.3"/><circle cx="873.2" cy="1112.8" r="1.3"/><circle cx="862.1" cy="1120.2" r="1.3"/><circle cx="884.2" cy="1120.2" r="1.3"/><circle cx="917.5" cy="1112.8" r="1.3"/><circle cx="906.4" cy="1120.2" r="1.3"/><circle cx="928.6" cy="1120.2" r="1.3"/><circle cx="961.8" cy="1112.8" r="1.3"/><circle cx="950.7" cy="1120.2" r="1.3"/><circle cx="972.9" cy="1120.2" r="1.3"/><circle cx="1006.1" cy="1112.8" r="1.3"/><circle cx="995.0" cy="1120.2" r="1.3"/><circle cx="1017.2" cy="1120.2" r="1.3"/><circle cx="1050.4" cy="1112.8" r="1.3"/><circle cx="1039.3" cy="1120.2" r="1.3"/><circle cx="1061.5" cy="1120.2" r="1.3"/><circle cx="1094.7" cy="1112.8" r="1.3"/><circle cx="1083.6" cy="1120.2" r="1.3"/><circle cx="1105.8" cy="1120.2" r="1.3"/><circle cx="1128.0" cy="1120.2" r="1.3"/><circle cx="2.4" cy="1127.5" r="1.3"/><circle cx="-8.8" cy="1135.0" r="1.3"/><circle cx="13.6" cy="1135.0" r="1.3"/><circle cx="47.3" cy="1127.5" r="1.3"/><circle cx="36.0" cy="1135.0" r="1.3"/><circle cx="58.5" cy="1135.0" r="1.3"/><circle cx="92.1" cy="1127.5" r="1.3"/><circle cx="80.9" cy="1135.0" r="1.3"/><circle cx="103.4" cy="1135.0" r="1.3"/><circle cx="137.0" cy="1127.5" r="1.3"/><circle cx="125.8" cy="1135.0" r="1.3"/><circle cx="148.3" cy="1135.0" r="1.3"/><circle cx="181.9" cy="1127.5" r="1.3"/><circle cx="170.7" cy="1135.0" r="1.3"/><circle cx="193.1" cy="1135.0" r="1.3"/><circle cx="226.8" cy="1127.5" r="1.3"/><circle cx="215.6" cy="1135.0" r="1.3"/><circle cx="238.0" cy="1135.0" r="1.3"/><circle cx="271.7" cy="1127.5" r="1.3"/><circle cx="260.5" cy="1135.0" r="1.3"/><circle cx="282.9" cy="1135.0" r="1.3"/><circle cx="316.6" cy="1127.5" r="1.3"/><circle cx="305.3" cy="1135.0" r="1.3"/><circle cx="327.8" cy="1135.0" r="1.3"/><circle cx="361.4" cy="1127.5" r="1.3"/><circle cx="350.2" cy="1135.0" r="1.3"/><circle cx="372.7" cy="1135.0" r="1.3"/><circle cx="406.3" cy="1127.5" r="1.3"/><circle cx="395.1" cy="1135.0" r="1.3"/><circle cx="417.6" cy="1135.0" r="1.3"/><circle cx="451.2" cy="1127.5" r="1.3"/><circle cx="440.0" cy="1135.0" r="1.3"/><circle cx="462.4" cy="1135.0" r="1.3"/><circle cx="496.1" cy="1127.5" r="1.3"/><circle cx="484.9" cy="1135.0" r="1.3"/><circle cx="507.3" cy="1135.0" r="1.3"/><circle cx="541.0" cy="1127.5" r="1.3"/><circle cx="529.8" cy="1135.0" r="1.3"/><circle cx="552.2" cy="1135.0" r="1.3"/><circle cx="585.9" cy="1127.5" r="1.3"/><circle cx="574.6" cy="1135.0" r="1.3"/><circle cx="597.1" cy="1135.0" r="1.3"/><circle cx="630.7" cy="1127.5" r="1.3"/><circle cx="619.5" cy="1135.0" r="1.3"/><circle cx="642.0" cy="1135.0" r="1.3"/><circle cx="675.6" cy="1127.5" r="1.3"/><circle cx="664.4" cy="1135.0" r="1.3"/><circle cx="686.9" cy="1135.0" r="1.3"/><circle cx="720.5" cy="1127.5" r="1.3"/><circle cx="709.3" cy="1135.0" r="1.3"/><circle cx="731.7" cy="1135.0" r="1.3"/><circle cx="765.4" cy="1127.5" r="1.3"/><circle cx="754.2" cy="1135.0" r="1.3"/><circle cx="776.6" cy="1135.0" r="1.3"/><circle cx="810.3" cy="1127.5" r="1.3"/><circle cx="799.1" cy="1135.0" r="1.3"/><circle cx="821.5" cy="1135.0" r="1.3"/><circle cx="855.2" cy="1127.5" r="1.3"/><circle cx="843.9" cy="1135.0" r="1.3"/><circle cx="866.4" cy="1135.0" r="1.3"/><circle cx="900.0" cy="1127.5" r="1.3"/><circle cx="888.8" cy="1135.0" r="1.3"/><circle cx="911.3" cy="1135.0" r="1.3"/><circle cx="944.9" cy="1127.5" r="1.3"/><circle cx="933.7" cy="1135.0" r="1.3"/><circle cx="956.2" cy="1135.0" r="1.3"/><circle cx="989.8" cy="1127.5" r="1.3"/><circle cx="978.6" cy="1135.0" r="1.3"/><circle cx="1001.0" cy="1135.0" r="1.3"/><circle cx="1034.7" cy="1127.5" r="1.3"/><circle cx="1023.5" cy="1135.0" r="1.3"/><circle cx="1045.9" cy="1135.0" r="1.3"/><circle cx="1079.6" cy="1127.5" r="1.3"/><circle cx="1068.4" cy="1135.0" r="1.3"/><circle cx="1090.8" cy="1135.0" r="1.3"/><circle cx="1124.5" cy="1127.5" r="1.3"/><circle cx="1113.2" cy="1135.0" r="1.3"/><circle cx="21.2" cy="1142.3" r="1.3"/><circle cx="9.9" cy="1149.8" r="1.3"/><circle cx="32.6" cy="1149.8" r="1.3"/><circle cx="66.7" cy="1142.3" r="1.3"/><circle cx="55.3" cy="1149.8" r="1.3"/><circle cx="78.0" cy="1149.8" r="1.3"/><circle cx="112.1" cy="1142.3" r="1.3"/><circle cx="100.8" cy="1149.8" r="1.3"/><circle cx="123.5" cy="1149.8" r="1.3"/><circle cx="157.6" cy="1142.3" r="1.3"/><circle cx="146.2" cy="1149.8" r="1.3"/><circle cx="169.0" cy="1149.8" r="1.3"/><circle cx="203.0" cy="1142.3" r="1.3"/><circle cx="191.7" cy="1149.8" r="1.3"/><circle cx="214.4" cy="1149.8" r="1.3"/><circle cx="248.5" cy="1142.3" r="1.3"/><circle cx="237.1" cy="1149.8" r="1.3"/><circle cx="259.9" cy="1149.8" r="1.3"/><circle cx="294.0" cy="1142.3" r="1.3"/><circle cx="282.6" cy="1149.8" r="1.3"/><circle cx="305.3" cy="1149.8" r="1.3"/><circle cx="339.4" cy="1142.3" r="1.3"/><circle cx="328.1" cy="1149.8" r="1.3"/><circle cx="350.8" cy="1149.8" r="1.3"/><circle cx="384.9" cy="1142.3" r="1.3"/><circle cx="373.5" cy="1149.8" r="1.3"/><circle cx="396.2" cy="1149.8" r="1.3"/><circle cx="430.3" cy="1142.3" r="1.3"/><circle cx="419.0" cy="1149.8" r="1.3"/><circle cx="441.7" cy="1149.8" r="1.3"/><circle cx="475.8" cy="1142.3" r="1.3"/><circle cx="464.4" cy="1149.8" r="1.3"/><circle cx="487.2" cy="1149.8" r="1.3"/><circle cx="521.2" cy="1142.3" r="1.3"/><circle cx="509.9" cy="1149.8" r="1.3"/><circle cx="532.6" cy="1149.8" r="1.3"/><circle cx="566.7" cy="1142.3" r="1.3"/><circle cx="555.3" cy="1149.8" r="1.3"/><circle cx="578.1" cy="1149.8" r="1.3"/><circle cx="612.2" cy="1142.3" r="1.3"/><circle cx="600.8" cy="1149.8" r="1.3"/><circle cx="623.5" cy="1149.8" r="1.3"/><circle cx="657.6" cy="1142.3" r="1.3"/><circle cx="646.3" cy="1149.8" r="1.3"/><circle cx="669.0" cy="1149.8" r="1.3"/><circle cx="703.1" cy="1142.3" r="1.3"/><circle cx="691.7" cy="1149.8" r="1.3"/><circle cx="714.4" cy="1149.8" r="1.3"/><circle cx="748.5" cy="1142.3" r="1.3"/><circle cx="737.2" cy="1149.8" r="1.3"/><circle cx="759.9" cy="1149.8" r="1.3"/><circle cx="794.0" cy="1142.3" r="1.3"/><circle cx="782.6" cy="1149.8" r="1.3"/><circle cx="805.4" cy="1149.8" r="1.3"/><circle cx="839.4" cy="1142.3" r="1.3"/><circle cx="828.1" cy="1149.8" r="1.3"/><circle cx="850.8" cy="1149.8" r="1.3"/><circle cx="884.9" cy="1142.3" r="1.3"/><circle cx="873.5" cy="1149.8" r="1.3"/><circle cx="896.3" cy="1149.8" r="1.3"/><circle cx="930.4" cy="1142.3" r="1.3"/><circle cx="919.0" cy="1149.8" r="1.3"/><circle cx="941.7" cy="1149.8" r="1.3"/><circle cx="975.8" cy="1142.3" r="1.3"/><circle cx="964.5" cy="1149.8" r="1.3"/><circle cx="987.2" cy="1149.8" r="1.3"/><circle cx="1021.3" cy="1142.3" r="1.3"/><circle cx="1009.9" cy="1149.8" r="1.3"/><circle cx="1032.6" cy="1149.8" r="1.3"/><circle cx="1066.7" cy="1142.3" r="1.3"/><circle cx="1055.4" cy="1149.8" r="1.3"/><circle cx="1078.1" cy="1149.8" r="1.3"/><circle cx="1112.2" cy="1142.3" r="1.3"/><circle cx="1100.8" cy="1149.8" r="1.3"/><circle cx="1123.6" cy="1149.8" r="1.3"/><circle cx="-8.3" cy="1157.2" r="1.3"/><circle cx="3.2" cy="1164.6" r="1.3"/><circle cx="37.7" cy="1157.2" r="1.3"/><circle cx="26.2" cy="1164.6" r="1.3"/><circle cx="49.2" cy="1164.6" r="1.3"/><circle cx="83.8" cy="1157.2" r="1.3"/><circle cx="72.3" cy="1164.6" r="1.3"/><circle cx="95.3" cy="1164.6" r="1.3"/><circle cx="129.8" cy="1157.2" r="1.3"/><circle cx="118.3" cy="1164.6" r="1.3"/><circle cx="141.3" cy="1164.6" r="1.3"/><circle cx="175.8" cy="1157.2" r="1.3"/><circle cx="164.3" cy="1164.6" r="1.3"/><circle cx="187.3" cy="1164.6" r="1.3"/><circle cx="221.9" cy="1157.2" r="1.3"/><circle cx="210.4" cy="1164.6" r="1.3"/><circle cx="233.4" cy="1164.6" r="1.3"/><circle cx="267.9" cy="1157.2" r="1.3"/><circle cx="256.4" cy="1164.6" r="1.3"/><circle cx="279.4" cy="1164.6" r="1.3"/><circle cx="313.9" cy="1157.2" r="1.3"/><circle cx="302.4" cy="1164.6" r="1.3"/><circle cx="325.4" cy="1164.6" r="1.3"/><circle cx="360.0" cy="1157.2" r="1.3"/><circle cx="348.4" cy="1164.6" r="1.3"/><circle cx="371.5" cy="1164.6" r="1.3"/><circle cx="406.0" cy="1157.2" r="1.3"/><circle cx="394.5" cy="1164.6" r="1.3"/><circle cx="417.5" cy="1164.6" r="1.3"/><circle cx="452.0" cy="1157.2" r="1.3"/><circle cx="440.5" cy="1164.6" r="1.3"/><circle cx="463.5" cy="1164.6" r="1.3"/><circle cx="498.0" cy="1157.2" r="1.3"/><circle cx="486.5" cy="1164.6" r="1.3"/><circle cx="509.6" cy="1164.6" r="1.3"/><circle cx="544.1" cy="1157.2" r="1.3"/><circle cx="532.6" cy="1164.6" r="1.3"/><circle cx="555.6" cy="1164.6" r="1.3"/><circle cx="590.1" cy="1157.2" r="1.3"/><circle cx="578.6" cy="1164.6" r="1.3"/><circle cx="601.6" cy="1164.6" r="1.3"/><circle cx="636.1" cy="1157.2" r="1.3"/><circle cx="624.6" cy="1164.6" r="1.3"/><circle cx="647.6" cy="1164.6" r="1.3"/><circle cx="682.2" cy="1157.2" r="1.3"/><circle cx="670.7" cy="1164.6" r="1.3"/><circle cx="693.7" cy="1164.6" r="1.3"/><circle cx="728.2" cy="1157.2" r="1.3"/><circle cx="716.7" cy="1164.6" r="1.3"/><circle cx="739.7" cy="1164.6" r="1.3"/><circle cx="774.2" cy="1157.2" r="1.3"/><circle cx="762.7" cy="1164.6" r="1.3"/><circle cx="785.7" cy="1164.6" r="1.3"/><circle cx="820.3" cy="1157.2" r="1.3"/><circle cx="808.7" cy="1164.6" r="1.3"/><circle cx="831.8" cy="1164.6" r="1.3"/><circle cx="866.3" cy="1157.2" r="1.3"/><circle cx="854.8" cy="1164.6" r="1.3"/><circle cx="877.8" cy="1164.6" r="1.3"/><circle cx="912.3" cy="1157.2" r="1.3"/><circle cx="900.8" cy="1164.6" r="1.3"/><circle cx="923.8" cy="1164.6" r="1.3"/><circle cx="958.3" cy="1157.2" r="1.3"/><circle cx="946.8" cy="1164.6" r="1.3"/><circle cx="969.9" cy="1164.6" r="1.3"/><circle cx="1004.4" cy="1157.2" r="1.3"/><circle cx="992.9" cy="1164.6" r="1.3"/><circle cx="1015.9" cy="1164.6" r="1.3"/><circle cx="1050.4" cy="1157.2" r="1.3"/><circle cx="1038.9" cy="1164.6" r="1.3"/><circle cx="1061.9" cy="1164.6" r="1.3"/><circle cx="1096.4" cy="1157.2" r="1.3"/><circle cx="1084.9" cy="1164.6" r="1.3"/><circle cx="1107.9" cy="1164.6" r="1.3"/><circle cx="11.2" cy="1172.0" r="1.3"/><circle cx="-0.5" cy="1179.4" r="1.3"/><circle cx="22.8" cy="1179.4" r="1.3"/><circle cx="57.8" cy="1172.0" r="1.3"/><circle cx="46.1" cy="1179.4" r="1.3"/><circle cx="69.4" cy="1179.4" r="1.3"/><circle cx="104.4" cy="1172.0" r="1.3"/><circle cx="92.7" cy="1179.4" r="1.3"/><circle cx="116.0" cy="1179.4" r="1.3"/><circle cx="151.0" cy="1172.0" r="1.3"/><circle cx="139.3" cy="1179.4" r="1.3"/><circle cx="162.6" cy="1179.4" r="1.3"/><circle cx="197.6" cy="1172.0" r="1.3"/><circle cx="185.9" cy="1179.4" r="1.3"/><circle cx="209.2" cy="1179.4" r="1.3"/><circle cx="244.2" cy="1172.0" r="1.3"/><circle cx="232.5" cy="1179.4" r="1.3"/><circle cx="255.8" cy="1179.4" r="1.3"/><circle cx="290.8" cy="1172.0" r="1.3"/><circle cx="279.1" cy="1179.4" r="1.3"/><circle cx="302.4" cy="1179.4" r="1.3"/><circle cx="337.4" cy="1172.0" r="1.3"/><circle cx="325.7" cy="1179.4" r="1.3"/><circle cx="349.0" cy="1179.4" r="1.3"/><circle cx="384.0" cy="1172.0" r="1.3"/><circle cx="372.3" cy="1179.4" r="1.3"/><circle cx="395.6" cy="1179.4" r="1.3"/><circle cx="430.6" cy="1172.0" r="1.3"/><circle cx="418.9" cy="1179.4" r="1.3"/><circle cx="442.2" cy="1179.4" r="1.3"/><circle cx="477.2" cy="1172.0" r="1.3"/><circle cx="465.5" cy="1179.4" r="1.3"/><circle cx="488.8" cy="1179.4" r="1.3"/><circle cx="523.8" cy="1172.0" r="1.3"/><circle cx="512.1" cy="1179.4" r="1.3"/><circle cx="535.5" cy="1179.4" r="1.3"/><circle cx="570.4" cy="1172.0" r="1.3"/><circle cx="558.8" cy="1179.4" r="1.3"/><circle cx="582.1" cy="1179.4" r="1.3"/><circle cx="617.0" cy="1172.0" r="1.3"/><circle cx="605.4" cy="1179.4" r="1.3"/><circle cx="628.7" cy="1179.4" r="1.3"/><circle cx="663.6" cy="1172.0" r="1.3"/><circle cx="652.0" cy="1179.4" r="1.3"/><circle cx="675.3" cy="1179.4" r="1.3"/><circle cx="710.2" cy="1172.0" r="1.3"/><circle cx="698.6" cy="1179.4" r="1.3"/><circle cx="721.9" cy="1179.4" r="1.3"/><circle cx="756.8" cy="1172.0" r="1.3"/><circle cx="745.2" cy="1179.4" r="1.3"/><circle cx="768.5" cy="1179.4" r="1.3"/><circle cx="803.4" cy="1172.0" r="1.3"/><circle cx="791.8" cy="1179.4" r="1.3"/><circle cx="815.1" cy="1179.4" r="1.3"/><circle cx="850.0" cy="1172.0" r="1.3"/><circle cx="838.4" cy="1179.4" r="1.3"/><circle cx="861.7" cy="1179.4" r="1.3"/><circle cx="896.6" cy="1172.0" r="1.3"/><circle cx="885.0" cy="1179.4" r="1.3"/><circle cx="908.3" cy="1179.4" r="1.3"/><circle cx="943.2" cy="1172.0" r="1.3"/><circle cx="931.6" cy="1179.4" r="1.3"/><circle cx="954.9" cy="1179.4" r="1.3"/><circle cx="989.8" cy="1172.0" r="1.3"/><circle cx="978.2" cy="1179.4" r="1.3"/><circle cx="1001.5" cy="1179.4" r="1.3"/><circle cx="1036.4" cy="1172.0" r="1.3"/><circle cx="1024.8" cy="1179.4" r="1.3"/><circle cx="1048.1" cy="1179.4" r="1.3"/><circle cx="1083.1" cy="1172.0" r="1.3"/><circle cx="1071.4" cy="1179.4" r="1.3"/><circle cx="1094.7" cy="1179.4" r="1.3"/><circle cx="1129.7" cy="1172.0" r="1.3"/><circle cx="1118.0" cy="1179.4" r="1.3"/><circle cx="-7.2" cy="1194.2" r="1.3"/><circle cx="28.2" cy="1186.8" r="1.3"/><circle cx="16.4" cy="1194.2" r="1.3"/><circle cx="40.0" cy="1194.2" r="1.3"/><circle cx="75.4" cy="1186.8" r="1.3"/><circle cx="63.6" cy="1194.2" r="1.3"/><circle cx="87.2" cy="1194.2" r="1.3"/><circle cx="122.6" cy="1186.8" r="1.3"/><circle cx="110.8" cy="1194.2" r="1.3"/><circle cx="134.4" cy="1194.2" r="1.3"/><circle cx="169.7" cy="1186.8" r="1.3"/><circle cx="157.9" cy="1194.2" r="1.3"/><circle cx="181.5" cy="1194.2" r="1.3"/><circle cx="216.9" cy="1186.8" r="1.3"/><circle cx="205.1" cy="1194.2" r="1.3"/><circle cx="228.7" cy="1194.2" r="1.3"/><circle cx="264.1" cy="1186.8" r="1.3"/><circle cx="252.3" cy="1194.2" r="1.3"/><circle cx="275.9" cy="1194.2" r="1.3"/><circle cx="311.3" cy="1186.8" r="1.3"/><circle cx="299.5" cy="1194.2" r="1.3"/><circle cx="323.1" cy="1194.2" r="1.3"/><circle cx="358.5" cy="1186.8" r="1.3"/><circle cx="346.7" cy="1194.2" r="1.3"/><circle cx="370.2" cy="1194.2" r="1.3"/><circle cx="405.6" cy="1186.8" r="1.3"/><circle cx="393.8" cy="1194.2" r="1.3"/><circle cx="417.4" cy="1194.2" r="1.3"/><circle cx="452.8" cy="1186.8" r="1.3"/><circle cx="441.0" cy="1194.2" r="1.3"/><circle cx="464.6" cy="1194.2" r="1.3"/><circle cx="500.0" cy="1186.8" r="1.3"/><circle cx="488.2" cy="1194.2" r="1.3"/><circle cx="511.8" cy="1194.2" r="1.3"/><circle cx="547.2" cy="1186.8" r="1.3"/><circle cx="535.4" cy="1194.2" r="1.3"/><circle cx="559.0" cy="1194.2" r="1.3"/><circle cx="594.3" cy="1186.8" r="1.3"/><circle cx="582.5" cy="1194.2" r="1.3"/><circle cx="606.1" cy="1194.2" r="1.3"/><circle cx="641.5" cy="1186.8" r="1.3"/><circle cx="629.7" cy="1194.2" r="1.3"/><circle cx="653.3" cy="1194.2" r="1.3"/><circle cx="688.7" cy="1186.8" r="1.3"/><circle cx="676.9" cy="1194.2" r="1.3"/><circle cx="700.5" cy="1194.2" r="1.3"/><circle cx="735.9" cy="1186.8" r="1.3"/><circle cx="724.1" cy="1194.2" r="1.3"/><circle cx="747.7" cy="1194.2" r="1.3"/><circle cx="783.1" cy="1186.8" r="1.3"/><circle cx="771.3" cy="1194.2" r="1.3"/><circle cx="794.8" cy="1194.2" r="1.3"/><circle cx="830.2" cy="1186.8" r="1.3"/><circle cx="818.4" cy="1194.2" r="1.3"/><circle cx="842.0" cy="1194.2" r="1.3"/><circle cx="877.4" cy="1186.8" r="1.3"/><circle cx="865.6" cy="1194.2" r="1.3"/><circle cx="889.2" cy="1194.2" r="1.3"/><circle cx="924.6" cy="1186.8" r="1.3"/><circle cx="912.8" cy="1194.2" r="1.3"/><circle cx="936.4" cy="1194.2" r="1.3"/><circle cx="971.8" cy="1186.8" r="1.3"/><circle cx="960.0" cy="1194.2" r="1.3"/><circle cx="983.6" cy="1194.2" r="1.3"/><circle cx="1018.9" cy="1186.8" r="1.3"/><circle cx="1007.1" cy="1194.2" r="1.3"/><circle cx="1030.7" cy="1194.2" r="1.3"/><circle cx="1066.1" cy="1186.8" r="1.3"/><circle cx="1054.3" cy="1194.2" r="1.3"/><circle cx="1077.9" cy="1194.2" r="1.3"/><circle cx="1113.3" cy="1186.8" r="1.3"/><circle cx="1101.5" cy="1194.2" r="1.3"/><circle cx="1125.1" cy="1194.2" r="1.3"/><circle cx="1.1" cy="1201.5" r="1.3"/><circle cx="13.0" cy="1209.0" r="1.3"/><circle cx="48.8" cy="1201.5" r="1.3"/><circle cx="36.9" cy="1209.0" r="1.3"/><circle cx="60.8" cy="1209.0" r="1.3"/><circle cx="96.6" cy="1201.5" r="1.3"/><circle cx="84.7" cy="1209.0" r="1.3"/><circle cx="108.5" cy="1209.0" r="1.3"/><circle cx="144.3" cy="1201.5" r="1.3"/><circle cx="132.4" cy="1209.0" r="1.3"/><circle cx="156.3" cy="1209.0" r="1.3"/><circle cx="192.1" cy="1201.5" r="1.3"/><circle cx="180.2" cy="1209.0" r="1.3"/><circle cx="204.0" cy="1209.0" r="1.3"/><circle cx="239.8" cy="1201.5" r="1.3"/><circle cx="227.9" cy="1209.0" r="1.3"/><circle cx="251.8" cy="1209.0" r="1.3"/><circle cx="287.6" cy="1201.5" r="1.3"/><circle cx="275.7" cy="1209.0" r="1.3"/><circle cx="299.5" cy="1209.0" r="1.3"/><circle cx="335.4" cy="1201.5" r="1.3"/><circle cx="323.4" cy="1209.0" r="1.3"/><circle cx="347.3" cy="1209.0" r="1.3"/><circle cx="383.1" cy="1201.5" r="1.3"/><circle cx="371.2" cy="1209.0" r="1.3"/><circle cx="395.0" cy="1209.0" r="1.3"/><circle cx="430.9" cy="1201.5" r="1.3"/><circle cx="418.9" cy="1209.0" r="1.3"/><circle cx="442.8" cy="1209.0" r="1.3"/><circle cx="478.6" cy="1201.5" r="1.3"/><circle cx="466.7" cy="1209.0" r="1.3"/><circle cx="490.5" cy="1209.0" r="1.3"/><circle cx="526.4" cy="1201.5" r="1.3"/><circle cx="514.4" cy="1209.0" r="1.3"/><circle cx="538.3" cy="1209.0" r="1.3"/><circle cx="574.1" cy="1201.5" r="1.3"/><circle cx="562.2" cy="1209.0" r="1.3"/><circle cx="586.0" cy="1209.0" r="1.3"/><circle cx="621.9" cy="1201.5" r="1.3"/><circle cx="609.9" cy="1209.0" r="1.3"/><circle cx="633.8" cy="1209.0" r="1.3"/><circle cx="669.6" cy="1201.5" r="1.3"/><circle cx="657.7" cy="1209.0" r="1.3"/><circle cx="681.5" cy="1209.0" r="1.3"/><circle cx="717.4" cy="1201.5" r="1.3"/><circle cx="705.4" cy="1209.0" r="1.3"/><circle cx="729.3" cy="1209.0" r="1.3"/><circle cx="765.1" cy="1201.5" r="1.3"/><circle cx="753.2" cy="1209.0" r="1.3"/><circle cx="777.0" cy="1209.0" r="1.3"/><circle cx="812.9" cy="1201.5" r="1.3"/><circle cx="800.9" cy="1209.0" r="1.3"/><circle cx="824.8" cy="1209.0" r="1.3"/><circle cx="860.6" cy="1201.5" r="1.3"/><circle cx="848.7" cy="1209.0" r="1.3"/><circle cx="872.6" cy="1209.0" r="1.3"/><circle cx="908.4" cy="1201.5" r="1.3"/><circle cx="896.4" cy="1209.0" r="1.3"/><circle cx="920.3" cy="1209.0" r="1.3"/><circle cx="956.1" cy="1201.5" r="1.3"/><circle cx="944.2" cy="1209.0" r="1.3"/><circle cx="968.1" cy="1209.0" r="1.3"/><circle cx="1003.9" cy="1201.5" r="1.3"/><circle cx="991.9" cy="1209.0" r="1.3"/><circle cx="1015.8" cy="1209.0" r="1.3"/><circle cx="1051.6" cy="1201.5" r="1.3"/><circle cx="1039.7" cy="1209.0" r="1.3"/><circle cx="1063.6" cy="1209.0" r="1.3"/><circle cx="1099.4" cy="1201.5" r="1.3"/><circle cx="1087.4" cy="1209.0" r="1.3"/><circle cx="1111.3" cy="1209.0" r="1.3"/><circle cx="18.7" cy="1216.3" r="1.3"/><circle cx="6.6" cy="1223.8" r="1.3"/><circle cx="30.8" cy="1223.8" r="1.3"/><circle cx="67.0" cy="1216.3" r="1.3"/><circle cx="54.9" cy="1223.8" r="1.3"/><circle cx="79.1" cy="1223.8" r="1.3"/><circle cx="115.3" cy="1216.3" r="1.3"/><circle cx="103.3" cy="1223.8" r="1.3"/><circle cx="127.4" cy="1223.8" r="1.3"/><circle cx="163.7" cy="1216.3" r="1.3"/><circle cx="151.6" cy="1223.8" r="1.3"/><circle cx="175.7" cy="1223.8" r="1.3"/><circle cx="212.0" cy="1216.3" r="1.3"/><circle cx="199.9" cy="1223.8" r="1.3"/><circle cx="224.1" cy="1223.8" r="1.3"/><circle cx="260.3" cy="1216.3" r="1.3"/><circle cx="248.2" cy="1223.8" r="1.3"/><circle cx="272.4" cy="1223.8" r="1.3"/><circle cx="308.6" cy="1216.3" r="1.3"/><circle cx="296.6" cy="1223.8" r="1.3"/><circle cx="320.7" cy="1223.8" r="1.3"/><circle cx="357.0" cy="1216.3" r="1.3"/><circle cx="344.9" cy="1223.8" r="1.3"/><circle cx="369.0" cy="1223.8" r="1.3"/><circle cx="405.3" cy="1216.3" r="1.3"/><circle cx="393.2" cy="1223.8" r="1.3"/><circle cx="417.4" cy="1223.8" r="1.3"/><circle cx="453.6" cy="1216.3" r="1.3"/><circle cx="441.5" cy="1223.8" r="1.3"/><circle cx="465.7" cy="1223.8" r="1.3"/><circle cx="501.9" cy="1216.3" r="1.3"/><circle cx="489.9" cy="1223.8" r="1.3"/><circle cx="514.0" cy="1223.8" r="1.3"/><circle cx="550.3" cy="1216.3" r="1.3"/><circle cx="538.2" cy="1223.8" r="1.3"/><circle cx="562.3" cy="1223.8" r="1.3"/><circle cx="598.6" cy="1216.3" r="1.3"/><circle cx="586.5" cy="1223.8" r="1.3"/><circle cx="610.7" cy="1223.8" r="1.3"/><circle cx="646.9" cy="1216.3" r="1.3"/><circle cx="634.8" cy="1223.8" r="1.3"/><circle cx="659.0" cy="1223.8" r="1.3"/><circle cx="695.2" cy="1216.3" r="1.3"/><circle cx="683.2" cy="1223.8" r="1.3"/><circle cx="707.3" cy="1223.8" r="1.3"/><circle cx="743.6" cy="1216.3" r="1.3"/><circle cx="731.5" cy="1223.8" r="1.3"/><circle cx="755.6" cy="1223.8" r="1.3"/><circle cx="791.9" cy="1216.3" r="1.3"/><circle cx="779.8" cy="1223.8" r="1.3"/><circle cx="804.0" cy="1223.8" r="1.3"/><circle cx="840.2" cy="1216.3" r="1.3"/><circle cx="828.1" cy="1223.8" r="1.3"/><circle cx="852.3" cy="1223.8" r="1.3"/><circle cx="888.5" cy="1216.3" r="1.3"/><circle cx="876.4" cy="1223.8" r="1.3"/><circle cx="900.6" cy="1223.8" r="1.3"/><circle cx="936.9" cy="1216.3" r="1.3"/><circle cx="924.8" cy="1223.8" r="1.3"/><circle cx="948.9" cy="1223.8" r="1.3"/><circle cx="985.2" cy="1216.3" r="1.3"/><circle cx="973.1" cy="1223.8" r="1.3"/><circle cx="997.3" cy="1223.8" r="1.3"/><circle cx="1033.5" cy="1216.3" r="1.3"/><circle cx="1021.4" cy="1223.8" r="1.3"/><circle cx="1045.6" cy="1223.8" r="1.3"/><circle cx="1081.8" cy="1216.3" r="1.3"/><circle cx="1069.7" cy="1223.8" r="1.3"/><circle cx="1093.9" cy="1223.8" r="1.3"/><circle cx="1118.1" cy="1223.8" r="1.3"/><circle cx="-9.0" cy="1231.2" r="1.3"/><circle cx="3.3" cy="1238.6" r="1.3"/><circle cx="39.9" cy="1231.2" r="1.3"/><circle cx="27.7" cy="1238.6" r="1.3"/><circle cx="52.2" cy="1238.6" r="1.3"/><circle cx="88.8" cy="1231.2" r="1.3"/><circle cx="76.6" cy="1238.6" r="1.3"/><circle cx="101.0" cy="1238.6" r="1.3"/><circle cx="137.7" cy="1231.2" r="1.3"/><circle cx="125.5" cy="1238.6" r="1.3"/><circle cx="149.9" cy="1238.6" r="1.3"/><circle cx="186.6" cy="1231.2" r="1.3"/><circle cx="174.4" cy="1238.6" r="1.3"/><circle cx="198.8" cy="1238.6" r="1.3"/><circle cx="235.5" cy="1231.2" r="1.3"/><circle cx="223.3" cy="1238.6" r="1.3"/><circle cx="247.7" cy="1238.6" r="1.3"/><circle cx="284.4" cy="1231.2" r="1.3"/><circle cx="272.2" cy="1238.6" r="1.3"/><circle cx="296.6" cy="1238.6" r="1.3"/><circle cx="333.3" cy="1231.2" r="1.3"/><circle cx="321.1" cy="1238.6" r="1.3"/><circle cx="345.5" cy="1238.6" r="1.3"/><circle cx="382.2" cy="1231.2" r="1.3"/><circle cx="370.0" cy="1238.6" r="1.3"/><circle cx="394.4" cy="1238.6" r="1.3"/><circle cx="431.1" cy="1231.2" r="1.3"/><circle cx="418.9" cy="1238.6" r="1.3"/><circle cx="443.3" cy="1238.6" r="1.3"/><circle cx="480.0" cy="1231.2" r="1.3"/><circle cx="467.8" cy="1238.6" r="1.3"/><circle cx="492.2" cy="1238.6" r="1.3"/><circle cx="528.9" cy="1231.2" r="1.3"/><circle cx="516.7" cy="1238.6" r="1.3"/><circle cx="541.1" cy="1238.6" r="1.3"/><circle cx="577.8" cy="1231.2" r="1.3"/><circle cx="565.6" cy="1238.6" r="1.3"/><circle cx="590.0" cy="1238.6" r="1.3"/><circle cx="626.7" cy="1231.2" r="1.3"/><circle cx="614.5" cy="1238.6" r="1.3"/><circle cx="638.9" cy="1238.6" r="1.3"/><circle cx="675.6" cy="1231.2" r="1.3"/><circle cx="663.4" cy="1238.6" r="1.3"/><circle cx="687.8" cy="1238.6" r="1.3"/><circle cx="724.5" cy="1231.2" r="1.3"/><circle cx="712.3" cy="1238.6" r="1.3"/><circle cx="736.7" cy="1238.6" r="1.3"/><circle cx="773.4" cy="1231.2" r="1.3"/><circle cx="761.2" cy="1238.6" r="1.3"/><circle cx="785.6" cy="1238.6" r="1.3"/><circle cx="822.3" cy="1231.2" r="1.3"/><circle cx="810.1" cy="1238.6" r="1.3"/><circle cx="834.5" cy="1238.6" r="1.3"/><circle cx="871.2" cy="1231.2" r="1.3"/><circle cx="859.0" cy="1238.6" r="1.3"/><circle cx="883.4" cy="1238.6" r="1.3"/><circle cx="920.1" cy="1231.2" r="1.3"/><circle cx="907.9" cy="1238.6" r="1.3"/><circle cx="932.3" cy="1238.6" r="1.3"/><circle cx="969.0" cy="1231.2" r="1.3"/><circle cx="956.8" cy="1238.6" r="1.3"/><circle cx="981.2" cy="1238.6" r="1.3"/><circle cx="1017.9" cy="1231.2" r="1.3"/><circle cx="1005.7" cy="1238.6" r="1.3"/><circle cx="1030.1" cy="1238.6" r="1.3"/><circle cx="1066.8" cy="1231.2" r="1.3"/><circle cx="1054.6" cy="1238.6" r="1.3"/><circle cx="1079.0" cy="1238.6" r="1.3"/><circle cx="1115.7" cy="1231.2" r="1.3"/><circle cx="1103.5" cy="1238.6" r="1.3"/><circle cx="1127.9" cy="1238.6" r="1.3"/><circle cx="9.2" cy="1246.0" r="1.3"/><circle cx="-3.2" cy="1253.4" r="1.3"/><circle cx="21.5" cy="1253.4" r="1.3"/><circle cx="58.6" cy="1246.0" r="1.3"/><circle cx="46.3" cy="1253.4" r="1.3"/><circle cx="71.0" cy="1253.4" r="1.3"/><circle cx="108.1" cy="1246.0" r="1.3"/><circle cx="95.7" cy="1253.4" r="1.3"/><circle cx="120.5" cy="1253.4" r="1.3"/><circle cx="157.6" cy="1246.0" r="1.3"/><circle cx="145.2" cy="1253.4" r="1.3"/><circle cx="169.9" cy="1253.4" r="1.3"/><circle cx="207.0" cy="1246.0" r="1.3"/><circle cx="194.7" cy="1253.4" r="1.3"/><circle cx="219.4" cy="1253.4" r="1.3"/><circle cx="256.5" cy="1246.0" r="1.3"/><circle cx="244.2" cy="1253.4" r="1.3"/><circle cx="268.9" cy="1253.4" r="1.3"/><circle cx="306.0" cy="1246.0" r="1.3"/><circle cx="293.6" cy="1253.4" r="1.3"/><circle cx="318.4" cy="1253.4" r="1.3"/><circle cx="355.5" cy="1246.0" r="1.3"/><circle cx="343.1" cy="1253.4" r="1.3"/><circle cx="367.8" cy="1253.4" r="1.3"/><circle cx="404.9" cy="1246.0" r="1.3"/><circle cx="392.6" cy="1253.4" r="1.3"/><circle cx="417.3" cy="1253.4" r="1.3"/><circle cx="454.4" cy="1246.0" r="1.3"/><circle cx="442.0" cy="1253.4" r="1.3"/><circle cx="466.8" cy="1253.4" r="1.3"/><circle cx="503.9" cy="1246.0" r="1.3"/><circle cx="491.5" cy="1253.4" r="1.3"/><circle cx="516.2" cy="1253.4" r="1.3"/><circle cx="553.3" cy="1246.0" r="1.3"/><circle cx="541.0" cy="1253.4" r="1.3"/><circle cx="565.7" cy="1253.4" r="1.3"/><circle cx="602.8" cy="1246.0" r="1.3"/><circle cx="590.5" cy="1253.4" r="1.3"/><circle cx="615.2" cy="1253.4" r="1.3"/><circle cx="652.3" cy="1246.0" r="1.3"/><circle cx="639.9" cy="1253.4" r="1.3"/><circle cx="664.7" cy="1253.4" r="1.3"/><circle cx="701.8" cy="1246.0" r="1.3"/><circle cx="689.4" cy="1253.4" r="1.3"/><circle cx="714.1" cy="1253.4" r="1.3"/><circle cx="751.2" cy="1246.0" r="1.3"/><circle cx="738.9" cy="1253.4" r="1.3"/><circle cx="763.6" cy="1253.4" r="1.3"/><circle cx="800.7" cy="1246.0" r="1.3"/><circle cx="788.3" cy="1253.4" r="1.3"/><circle cx="813.1" cy="1253.4" r="1.3"/><circle cx="850.2" cy="1246.0" r="1.3"/><circle cx="837.8" cy="1253.4" r="1.3"/><circle cx="862.5" cy="1253.4" r="1.3"/><circle cx="899.7" cy="1246.0" r="1.3"/><circle cx="887.3" cy="1253.4" r="1.3"/><circle cx="912.0" cy="1253.4" r="1.3"/><circle cx="949.1" cy="1246.0" r="1.3"/><circle cx="936.8" cy="1253.4" r="1.3"/><circle cx="961.5" cy="1253.4" r="1.3"/><circle cx="998.6" cy="1246.0" r="1.3"/><circle cx="986.2" cy="1253.4" r="1.3"/><circle cx="1011.0" cy="1253.4" r="1.3"/><circle cx="1048.1" cy="1246.0" r="1.3"/><circle cx="1035.7" cy="1253.4" r="1.3"/><circle cx="1060.4" cy="1253.4" r="1.3"/><circle cx="1097.5" cy="1246.0" r="1.3"/><circle cx="1085.2" cy="1253.4" r="1.3"/><circle cx="1109.9" cy="1253.4" r="1.3"/></g>
<rect x="-10" y="1104.75" width="1130" height="140.25" fill="url(#pHatch)" opacity="0.12"/>
<g fill="#2e5680" opacity="0.5"><ellipse cx="9.1" cy="1112.8" rx="2.3" ry="1.7"/><ellipse cx="53.4" cy="1112.8" rx="2.3" ry="1.7"/><ellipse cx="97.7" cy="1112.8" rx="2.3" ry="1.7"/><ellipse cx="142.1" cy="1112.8" rx="2.3" ry="1.7"/><ellipse cx="186.4" cy="1112.8" rx="2.3" ry="1.7"/><ellipse cx="230.7" cy="1112.8" rx="2.3" ry="1.7"/><ellipse cx="275.0" cy="1112.8" rx="2.3" ry="1.7"/><ellipse cx="319.3" cy="1112.8" rx="2.3" ry="1.7"/><ellipse cx="363.6" cy="1112.8" rx="2.3" ry="1.7"/><ellipse cx="407.9" cy="1112.8" rx="2.3" ry="1.7"/><ellipse cx="452.2" cy="1112.8" rx="2.3" ry="1.7"/><ellipse cx="496.5" cy="1112.8" rx="2.3" ry="1.7"/><ellipse cx="540.8" cy="1112.8" rx="2.3" ry="1.7"/><ellipse cx="585.2" cy="1112.8" rx="2.3" ry="1.7"/><ellipse cx="629.5" cy="1112.8" rx="2.3" ry="1.7"/><ellipse cx="673.8" cy="1112.8" rx="2.3" ry="1.7"/><ellipse cx="718.1" cy="1112.8" rx="2.3" ry="1.7"/><ellipse cx="762.4" cy="1112.8" rx="2.3" ry="1.7"/><ellipse cx="806.7" cy="1112.8" rx="2.3" ry="1.7"/><ellipse cx="851.0" cy="1112.8" rx="2.3" ry="1.7"/><ellipse cx="895.3" cy="1112.8" rx="2.3" ry="1.7"/><ellipse cx="939.6" cy="1112.8" rx="2.3" ry="1.7"/><ellipse cx="983.9" cy="1112.8" rx="2.3" ry="1.7"/><ellipse cx="1028.3" cy="1112.8" rx="2.3" ry="1.7"/><ellipse cx="1072.6" cy="1112.8" rx="2.3" ry="1.7"/><ellipse cx="1116.9" cy="1112.8" rx="2.3" ry="1.7"/><ellipse cx="24.8" cy="1127.5" rx="2.3" ry="1.7"/><ellipse cx="69.7" cy="1127.5" rx="2.3" ry="1.7"/><ellipse cx="114.6" cy="1127.5" rx="2.3" ry="1.7"/><ellipse cx="159.5" cy="1127.5" rx="2.3" ry="1.7"/><ellipse cx="204.4" cy="1127.5" rx="2.3" ry="1.7"/><ellipse cx="249.2" cy="1127.5" rx="2.3" ry="1.7"/><ellipse cx="294.1" cy="1127.5" rx="2.3" ry="1.7"/><ellipse cx="339.0" cy="1127.5" rx="2.3" ry="1.7"/><ellipse cx="383.9" cy="1127.5" rx="2.3" ry="1.7"/><ellipse cx="428.8" cy="1127.5" rx="2.3" ry="1.7"/><ellipse cx="473.7" cy="1127.5" rx="2.3" ry="1.7"/><ellipse cx="518.5" cy="1127.5" rx="2.3" ry="1.7"/><ellipse cx="563.4" cy="1127.5" rx="2.3" ry="1.7"/><ellipse cx="608.3" cy="1127.5" rx="2.3" ry="1.7"/><ellipse cx="653.2" cy="1127.5" rx="2.3" ry="1.7"/><ellipse cx="698.1" cy="1127.5" rx="2.3" ry="1.7"/><ellipse cx="743.0" cy="1127.5" rx="2.3" ry="1.7"/><ellipse cx="787.8" cy="1127.5" rx="2.3" ry="1.7"/><ellipse cx="832.7" cy="1127.5" rx="2.3" ry="1.7"/><ellipse cx="877.6" cy="1127.5" rx="2.3" ry="1.7"/><ellipse cx="922.5" cy="1127.5" rx="2.3" ry="1.7"/><ellipse cx="967.4" cy="1127.5" rx="2.3" ry="1.7"/><ellipse cx="1012.3" cy="1127.5" rx="2.3" ry="1.7"/><ellipse cx="1057.1" cy="1127.5" rx="2.3" ry="1.7"/><ellipse cx="1102.0" cy="1127.5" rx="2.3" ry="1.7"/><ellipse cx="-1.5" cy="1142.3" rx="2.3" ry="1.7"/><ellipse cx="43.9" cy="1142.3" rx="2.3" ry="1.7"/><ellipse cx="89.4" cy="1142.3" rx="2.3" ry="1.7"/><ellipse cx="134.9" cy="1142.3" rx="2.3" ry="1.7"/><ellipse cx="180.3" cy="1142.3" rx="2.3" ry="1.7"/><ellipse cx="225.8" cy="1142.3" rx="2.3" ry="1.7"/><ellipse cx="271.2" cy="1142.3" rx="2.3" ry="1.7"/><ellipse cx="316.7" cy="1142.3" rx="2.3" ry="1.7"/><ellipse cx="362.1" cy="1142.3" rx="2.3" ry="1.7"/><ellipse cx="407.6" cy="1142.3" rx="2.3" ry="1.7"/><ellipse cx="453.1" cy="1142.3" rx="2.3" ry="1.7"/><ellipse cx="498.5" cy="1142.3" rx="2.3" ry="1.7"/><ellipse cx="544.0" cy="1142.3" rx="2.3" ry="1.7"/><ellipse cx="589.4" cy="1142.3" rx="2.3" ry="1.7"/><ellipse cx="634.9" cy="1142.3" rx="2.3" ry="1.7"/><ellipse cx="680.3" cy="1142.3" rx="2.3" ry="1.7"/><ellipse cx="725.8" cy="1142.3" rx="2.3" ry="1.7"/><ellipse cx="771.3" cy="1142.3" rx="2.3" ry="1.7"/><ellipse cx="816.7" cy="1142.3" rx="2.3" ry="1.7"/><ellipse cx="862.2" cy="1142.3" rx="2.3" ry="1.7"/><ellipse cx="907.6" cy="1142.3" rx="2.3" ry="1.7"/><ellipse cx="953.1" cy="1142.3" rx="2.3" ry="1.7"/><ellipse cx="998.5" cy="1142.3" rx="2.3" ry="1.7"/><ellipse cx="1044.0" cy="1142.3" rx="2.3" ry="1.7"/><ellipse cx="1089.5" cy="1142.3" rx="2.3" ry="1.7"/><ellipse cx="14.7" cy="1157.2" rx="2.3" ry="1.7"/><ellipse cx="60.8" cy="1157.2" rx="2.3" ry="1.7"/><ellipse cx="106.8" cy="1157.2" rx="2.3" ry="1.7"/><ellipse cx="152.8" cy="1157.2" rx="2.3" ry="1.7"/><ellipse cx="198.8" cy="1157.2" rx="2.3" ry="1.7"/><ellipse cx="244.9" cy="1157.2" rx="2.3" ry="1.7"/><ellipse cx="290.9" cy="1157.2" rx="2.3" ry="1.7"/><ellipse cx="336.9" cy="1157.2" rx="2.3" ry="1.7"/><ellipse cx="383.0" cy="1157.2" rx="2.3" ry="1.7"/><ellipse cx="429.0" cy="1157.2" rx="2.3" ry="1.7"/><ellipse cx="475.0" cy="1157.2" rx="2.3" ry="1.7"/><ellipse cx="521.1" cy="1157.2" rx="2.3" ry="1.7"/><ellipse cx="567.1" cy="1157.2" rx="2.3" ry="1.7"/><ellipse cx="613.1" cy="1157.2" rx="2.3" ry="1.7"/><ellipse cx="659.1" cy="1157.2" rx="2.3" ry="1.7"/><ellipse cx="705.2" cy="1157.2" rx="2.3" ry="1.7"/><ellipse cx="751.2" cy="1157.2" rx="2.3" ry="1.7"/><ellipse cx="797.2" cy="1157.2" rx="2.3" ry="1.7"/><ellipse cx="843.3" cy="1157.2" rx="2.3" ry="1.7"/><ellipse cx="889.3" cy="1157.2" rx="2.3" ry="1.7"/><ellipse cx="935.3" cy="1157.2" rx="2.3" ry="1.7"/><ellipse cx="981.4" cy="1157.2" rx="2.3" ry="1.7"/><ellipse cx="1027.4" cy="1157.2" rx="2.3" ry="1.7"/><ellipse cx="1073.4" cy="1157.2" rx="2.3" ry="1.7"/><ellipse cx="1119.5" cy="1157.2" rx="2.3" ry="1.7"/><ellipse cx="34.5" cy="1172.0" rx="2.3" ry="1.7"/><ellipse cx="81.1" cy="1172.0" rx="2.3" ry="1.7"/><ellipse cx="127.7" cy="1172.0" rx="2.3" ry="1.7"/><ellipse cx="174.3" cy="1172.0" rx="2.3" ry="1.7"/><ellipse cx="220.9" cy="1172.0" rx="2.3" ry="1.7"/><ellipse cx="267.5" cy="1172.0" rx="2.3" ry="1.7"/><ellipse cx="314.1" cy="1172.0" rx="2.3" ry="1.7"/><ellipse cx="360.7" cy="1172.0" rx="2.3" ry="1.7"/><ellipse cx="407.3" cy="1172.0" rx="2.3" ry="1.7"/><ellipse cx="453.9" cy="1172.0" rx="2.3" ry="1.7"/><ellipse cx="500.5" cy="1172.0" rx="2.3" ry="1.7"/><ellipse cx="547.1" cy="1172.0" rx="2.3" ry="1.7"/><ellipse cx="593.7" cy="1172.0" rx="2.3" ry="1.7"/><ellipse cx="640.3" cy="1172.0" rx="2.3" ry="1.7"/><ellipse cx="686.9" cy="1172.0" rx="2.3" ry="1.7"/><ellipse cx="733.5" cy="1172.0" rx="2.3" ry="1.7"/><ellipse cx="780.1" cy="1172.0" rx="2.3" ry="1.7"/><ellipse cx="826.7" cy="1172.0" rx="2.3" ry="1.7"/><ellipse cx="873.3" cy="1172.0" rx="2.3" ry="1.7"/><ellipse cx="919.9" cy="1172.0" rx="2.3" ry="1.7"/><ellipse cx="966.5" cy="1172.0" rx="2.3" ry="1.7"/><ellipse cx="1013.1" cy="1172.0" rx="2.3" ry="1.7"/><ellipse cx="1059.7" cy="1172.0" rx="2.3" ry="1.7"/><ellipse cx="1106.4" cy="1172.0" rx="2.3" ry="1.7"/><ellipse cx="4.6" cy="1186.8" rx="2.3" ry="1.7"/><ellipse cx="51.8" cy="1186.8" rx="2.3" ry="1.7"/><ellipse cx="99.0" cy="1186.8" rx="2.3" ry="1.7"/><ellipse cx="146.2" cy="1186.8" rx="2.3" ry="1.7"/><ellipse cx="193.3" cy="1186.8" rx="2.3" ry="1.7"/><ellipse cx="240.5" cy="1186.8" rx="2.3" ry="1.7"/><ellipse cx="287.7" cy="1186.8" rx="2.3" ry="1.7"/><ellipse cx="334.9" cy="1186.8" rx="2.3" ry="1.7"/><ellipse cx="382.0" cy="1186.8" rx="2.3" ry="1.7"/><ellipse cx="429.2" cy="1186.8" rx="2.3" ry="1.7"/><ellipse cx="476.4" cy="1186.8" rx="2.3" ry="1.7"/><ellipse cx="523.6" cy="1186.8" rx="2.3" ry="1.7"/><ellipse cx="570.8" cy="1186.8" rx="2.3" ry="1.7"/><ellipse cx="617.9" cy="1186.8" rx="2.3" ry="1.7"/><ellipse cx="665.1" cy="1186.8" rx="2.3" ry="1.7"/><ellipse cx="712.3" cy="1186.8" rx="2.3" ry="1.7"/><ellipse cx="759.5" cy="1186.8" rx="2.3" ry="1.7"/><ellipse cx="806.6" cy="1186.8" rx="2.3" ry="1.7"/><ellipse cx="853.8" cy="1186.8" rx="2.3" ry="1.7"/><ellipse cx="901.0" cy="1186.8" rx="2.3" ry="1.7"/><ellipse cx="948.2" cy="1186.8" rx="2.3" ry="1.7"/><ellipse cx="995.4" cy="1186.8" rx="2.3" ry="1.7"/><ellipse cx="1042.5" cy="1186.8" rx="2.3" ry="1.7"/><ellipse cx="1089.7" cy="1186.8" rx="2.3" ry="1.7"/><ellipse cx="25.0" cy="1201.5" rx="2.3" ry="1.7"/><ellipse cx="72.7" cy="1201.5" rx="2.3" ry="1.7"/><ellipse cx="120.5" cy="1201.5" rx="2.3" ry="1.7"/><ellipse cx="168.2" cy="1201.5" rx="2.3" ry="1.7"/><ellipse cx="216.0" cy="1201.5" rx="2.3" ry="1.7"/><ellipse cx="263.7" cy="1201.5" rx="2.3" ry="1.7"/><ellipse cx="311.5" cy="1201.5" rx="2.3" ry="1.7"/><ellipse cx="359.2" cy="1201.5" rx="2.3" ry="1.7"/><ellipse cx="407.0" cy="1201.5" rx="2.3" ry="1.7"/><ellipse cx="454.7" cy="1201.5" rx="2.3" ry="1.7"/><ellipse cx="502.5" cy="1201.5" rx="2.3" ry="1.7"/><ellipse cx="550.2" cy="1201.5" rx="2.3" ry="1.7"/><ellipse cx="598.0" cy="1201.5" rx="2.3" ry="1.7"/><ellipse cx="645.7" cy="1201.5" rx="2.3" ry="1.7"/><ellipse cx="693.5" cy="1201.5" rx="2.3" ry="1.7"/><ellipse cx="741.2" cy="1201.5" rx="2.3" ry="1.7"/><ellipse cx="789.0" cy="1201.5" rx="2.3" ry="1.7"/><ellipse cx="836.7" cy="1201.5" rx="2.3" ry="1.7"/><ellipse cx="884.5" cy="1201.5" rx="2.3" ry="1.7"/><ellipse cx="932.2" cy="1201.5" rx="2.3" ry="1.7"/><ellipse cx="980.0" cy="1201.5" rx="2.3" ry="1.7"/><ellipse cx="1027.7" cy="1201.5" rx="2.3" ry="1.7"/><ellipse cx="1075.5" cy="1201.5" rx="2.3" ry="1.7"/><ellipse cx="1123.2" cy="1201.5" rx="2.3" ry="1.7"/><ellipse cx="-5.5" cy="1216.3" rx="2.3" ry="1.7"/><ellipse cx="42.8" cy="1216.3" rx="2.3" ry="1.7"/><ellipse cx="91.2" cy="1216.3" rx="2.3" ry="1.7"/><ellipse cx="139.5" cy="1216.3" rx="2.3" ry="1.7"/><ellipse cx="187.8" cy="1216.3" rx="2.3" ry="1.7"/><ellipse cx="236.1" cy="1216.3" rx="2.3" ry="1.7"/><ellipse cx="284.5" cy="1216.3" rx="2.3" ry="1.7"/><ellipse cx="332.8" cy="1216.3" rx="2.3" ry="1.7"/><ellipse cx="381.1" cy="1216.3" rx="2.3" ry="1.7"/><ellipse cx="429.4" cy="1216.3" rx="2.3" ry="1.7"/><ellipse cx="477.8" cy="1216.3" rx="2.3" ry="1.7"/><ellipse cx="526.1" cy="1216.3" rx="2.3" ry="1.7"/><ellipse cx="574.4" cy="1216.3" rx="2.3" ry="1.7"/><ellipse cx="622.7" cy="1216.3" rx="2.3" ry="1.7"/><ellipse cx="671.1" cy="1216.3" rx="2.3" ry="1.7"/><ellipse cx="719.4" cy="1216.3" rx="2.3" ry="1.7"/><ellipse cx="767.7" cy="1216.3" rx="2.3" ry="1.7"/><ellipse cx="816.0" cy="1216.3" rx="2.3" ry="1.7"/><ellipse cx="864.4" cy="1216.3" rx="2.3" ry="1.7"/><ellipse cx="912.7" cy="1216.3" rx="2.3" ry="1.7"/><ellipse cx="961.0" cy="1216.3" rx="2.3" ry="1.7"/><ellipse cx="1009.3" cy="1216.3" rx="2.3" ry="1.7"/><ellipse cx="1057.7" cy="1216.3" rx="2.3" ry="1.7"/><ellipse cx="1106.0" cy="1216.3" rx="2.3" ry="1.7"/><ellipse cx="15.5" cy="1231.2" rx="2.3" ry="1.7"/><ellipse cx="64.4" cy="1231.2" rx="2.3" ry="1.7"/><ellipse cx="113.3" cy="1231.2" rx="2.3" ry="1.7"/><ellipse cx="162.2" cy="1231.2" rx="2.3" ry="1.7"/><ellipse cx="211.1" cy="1231.2" rx="2.3" ry="1.7"/><ellipse cx="260.0" cy="1231.2" rx="2.3" ry="1.7"/><ellipse cx="308.9" cy="1231.2" rx="2.3" ry="1.7"/><ellipse cx="357.8" cy="1231.2" rx="2.3" ry="1.7"/><ellipse cx="406.7" cy="1231.2" rx="2.3" ry="1.7"/><ellipse cx="455.6" cy="1231.2" rx="2.3" ry="1.7"/><ellipse cx="504.5" cy="1231.2" rx="2.3" ry="1.7"/><ellipse cx="553.4" cy="1231.2" rx="2.3" ry="1.7"/><ellipse cx="602.3" cy="1231.2" rx="2.3" ry="1.7"/><ellipse cx="651.2" cy="1231.2" rx="2.3" ry="1.7"/><ellipse cx="700.1" cy="1231.2" rx="2.3" ry="1.7"/><ellipse cx="749.0" cy="1231.2" rx="2.3" ry="1.7"/><ellipse cx="797.9" cy="1231.2" rx="2.3" ry="1.7"/><ellipse cx="846.7" cy="1231.2" rx="2.3" ry="1.7"/><ellipse cx="895.6" cy="1231.2" rx="2.3" ry="1.7"/><ellipse cx="944.5" cy="1231.2" rx="2.3" ry="1.7"/><ellipse cx="993.4" cy="1231.2" rx="2.3" ry="1.7"/><ellipse cx="1042.3" cy="1231.2" rx="2.3" ry="1.7"/><ellipse cx="1091.2" cy="1231.2" rx="2.3" ry="1.7"/><ellipse cx="33.9" cy="1246.0" rx="2.3" ry="1.7"/><ellipse cx="83.4" cy="1246.0" rx="2.3" ry="1.7"/><ellipse cx="132.8" cy="1246.0" rx="2.3" ry="1.7"/><ellipse cx="182.3" cy="1246.0" rx="2.3" ry="1.7"/><ellipse cx="231.8" cy="1246.0" rx="2.3" ry="1.7"/><ellipse cx="281.3" cy="1246.0" rx="2.3" ry="1.7"/><ellipse cx="330.7" cy="1246.0" rx="2.3" ry="1.7"/><ellipse cx="380.2" cy="1246.0" rx="2.3" ry="1.7"/><ellipse cx="429.7" cy="1246.0" rx="2.3" ry="1.7"/><ellipse cx="479.1" cy="1246.0" rx="2.3" ry="1.7"/><ellipse cx="528.6" cy="1246.0" rx="2.3" ry="1.7"/><ellipse cx="578.1" cy="1246.0" rx="2.3" ry="1.7"/><ellipse cx="627.6" cy="1246.0" rx="2.3" ry="1.7"/><ellipse cx="677.0" cy="1246.0" rx="2.3" ry="1.7"/><ellipse cx="726.5" cy="1246.0" rx="2.3" ry="1.7"/><ellipse cx="776.0" cy="1246.0" rx="2.3" ry="1.7"/><ellipse cx="825.4" cy="1246.0" rx="2.3" ry="1.7"/><ellipse cx="874.9" cy="1246.0" rx="2.3" ry="1.7"/><ellipse cx="924.4" cy="1246.0" rx="2.3" ry="1.7"/><ellipse cx="973.9" cy="1246.0" rx="2.3" ry="1.7"/><ellipse cx="1023.3" cy="1246.0" rx="2.3" ry="1.7"/><ellipse cx="1072.8" cy="1246.0" rx="2.3" ry="1.7"/><ellipse cx="1122.3" cy="1246.0" rx="2.3" ry="1.7"/></g>
<rect x="-10" y="1104.75" width="1130" height="140.25" fill="#000" filter="url(#fNoise)" opacity="0.07"/>
</g>
<path d="M -10 1240 L 1085 1240 Q 1087 1241 1087 1245 L 1087 1265.5 Q 1087 1272.5 1079 1272.5 L -10 1272.5 Z" fill="#b6d6f6"/>
<path d="M -10 1240 L 1083 1239.5 Q 1087 1241 1087 1243 L 1087 1245 L -10 1245.5 Z" fill="#cdeafd"/>
<path d="M -10 1273.5 L 1014.6 1273.5 L 1114 1457 L -10 1460 Z" fill="url(#gSpring)"/>
<g clip-path="url(#cSpring)">
<g stroke="#7a848c" stroke-width="1.2" opacity="0.35">
<line x1="-91.9" y1="1274.0" x2="-176.9" y2="1460.0"/>
<line x1="-66.6" y1="1274.0" x2="-147.4" y2="1460.0"/>
<line x1="-41.3" y1="1274.0" x2="-117.9" y2="1460.0"/>
<line x1="-16.0" y1="1274.0" x2="-88.4" y2="1460.0"/>
<line x1="9.3" y1="1274.0" x2="-58.9" y2="1460.0"/>
<line x1="34.6" y1="1274.0" x2="-29.4" y2="1460.0"/>
<line x1="59.9" y1="1274.0" x2="0.1" y2="1460.0"/>
<line x1="85.2" y1="1274.0" x2="29.6" y2="1460.0"/>
<line x1="110.5" y1="1274.0" x2="59.1" y2="1460.0"/>
<line x1="135.8" y1="1274.0" x2="88.6" y2="1460.0"/>
<line x1="161.1" y1="1274.0" x2="118.1" y2="1460.0"/>
<line x1="186.4" y1="1274.0" x2="147.6" y2="1460.0"/>
<line x1="211.7" y1="1274.0" x2="177.1" y2="1460.0"/>
<line x1="237.0" y1="1274.0" x2="206.6" y2="1460.0"/>
<line x1="262.3" y1="1274.0" x2="236.1" y2="1460.0"/>
<line x1="287.6" y1="1274.0" x2="265.6" y2="1460.0"/>
<line x1="312.9" y1="1274.0" x2="295.1" y2="1460.0"/>
<line x1="338.2" y1="1274.0" x2="324.6" y2="1460.0"/>
<line x1="363.5" y1="1274.0" x2="354.1" y2="1460.0"/>
<line x1="388.8" y1="1274.0" x2="383.6" y2="1460.0"/>
<line x1="414.1" y1="1274.0" x2="413.1" y2="1460.0"/>
<line x1="439.4" y1="1274.0" x2="442.6" y2="1460.0"/>
<line x1="464.7" y1="1274.0" x2="472.1" y2="1460.0"/>
<line x1="490.0" y1="1274.0" x2="501.6" y2="1460.0"/>
<line x1="515.3" y1="1274.0" x2="531.1" y2="1460.0"/>
<line x1="540.6" y1="1274.0" x2="560.6" y2="1460.0"/>
<line x1="565.9" y1="1274.0" x2="590.1" y2="1460.0"/>
<line x1="591.2" y1="1274.0" x2="619.6" y2="1460.0"/>
<line x1="616.5" y1="1274.0" x2="649.1" y2="1460.0"/>
<line x1="641.8" y1="1274.0" x2="678.6" y2="1460.0"/>
<line x1="667.1" y1="1274.0" x2="708.1" y2="1460.0"/>
<line x1="692.4" y1="1274.0" x2="737.6" y2="1460.0"/>
<line x1="717.7" y1="1274.0" x2="767.1" y2="1460.0"/>
<line x1="743.0" y1="1274.0" x2="796.6" y2="1460.0"/>
<line x1="768.3" y1="1274.0" x2="826.1" y2="1460.0"/>
<line x1="793.6" y1="1274.0" x2="855.6" y2="1460.0"/>
<line x1="818.9" y1="1274.0" x2="885.1" y2="1460.0"/>
<line x1="844.2" y1="1274.0" x2="914.6" y2="1460.0"/>
<line x1="869.5" y1="1274.0" x2="944.1" y2="1460.0"/>
<line x1="894.8" y1="1274.0" x2="973.6" y2="1460.0"/>
<line x1="920.1" y1="1274.0" x2="1003.1" y2="1460.0"/>
<line x1="945.4" y1="1274.0" x2="1032.6" y2="1460.0"/>
<line x1="970.7" y1="1274.0" x2="1062.1" y2="1460.0"/>
<line x1="996.0" y1="1274.0" x2="1091.6" y2="1460.0"/>
<line x1="1021.3" y1="1274.0" x2="1121.1" y2="1460.0"/>
<line x1="1046.6" y1="1274.0" x2="1150.6" y2="1460.0"/>
<line x1="1071.9" y1="1274.0" x2="1180.1" y2="1460.0"/>
<line x1="1097.2" y1="1274.0" x2="1209.6" y2="1460.0"/>
<line x1="1122.5" y1="1274.0" x2="1239.1" y2="1460.0"/>
<line x1="1147.8" y1="1274.0" x2="1268.6" y2="1460.0"/>
</g>
<g fill="#5f6a73">
<ellipse cx="7.9" cy="1277.8" rx="2.4" ry="1.7" opacity="0.74"/>
<ellipse cx="33.3" cy="1277.8" rx="2.4" ry="1.7" opacity="0.74"/>
<ellipse cx="58.7" cy="1277.8" rx="2.4" ry="1.7" opacity="0.74"/>
<ellipse cx="84.1" cy="1277.8" rx="2.4" ry="1.7" opacity="0.74"/>
<ellipse cx="109.5" cy="1277.8" rx="2.4" ry="1.7" opacity="0.74"/>
<ellipse cx="134.8" cy="1277.8" rx="2.4" ry="1.7" opacity="0.74"/>
<ellipse cx="160.2" cy="1277.8" rx="2.4" ry="1.7" opacity="0.74"/>
<ellipse cx="185.6" cy="1277.8" rx="2.4" ry="1.7" opacity="0.74"/>
<ellipse cx="211.0" cy="1277.8" rx="2.4" ry="1.7" opacity="0.74"/>
<ellipse cx="236.4" cy="1277.8" rx="2.4" ry="1.7" opacity="0.74"/>
<ellipse cx="261.8" cy="1277.8" rx="2.4" ry="1.7" opacity="0.74"/>
<ellipse cx="287.2" cy="1277.8" rx="2.4" ry="1.7" opacity="0.74"/>
<ellipse cx="312.5" cy="1277.8" rx="2.4" ry="1.7" opacity="0.74"/>
<ellipse cx="337.9" cy="1277.8" rx="2.4" ry="1.7" opacity="0.74"/>
<ellipse cx="363.3" cy="1277.8" rx="2.4" ry="1.7" opacity="0.74"/>
<ellipse cx="388.7" cy="1277.8" rx="2.4" ry="1.7" opacity="0.74"/>
<ellipse cx="414.1" cy="1277.8" rx="2.4" ry="1.7" opacity="0.74"/>
<ellipse cx="439.5" cy="1277.8" rx="2.4" ry="1.7" opacity="0.74"/>
<ellipse cx="464.9" cy="1277.8" rx="2.4" ry="1.7" opacity="0.74"/>
<ellipse cx="490.2" cy="1277.8" rx="2.4" ry="1.7" opacity="0.74"/>
<ellipse cx="515.6" cy="1277.8" rx="2.4" ry="1.7" opacity="0.74"/>
<ellipse cx="541.0" cy="1277.8" rx="2.4" ry="1.7" opacity="0.74"/>
<ellipse cx="566.4" cy="1277.8" rx="2.4" ry="1.7" opacity="0.74"/>
<ellipse cx="591.8" cy="1277.8" rx="2.4" ry="1.7" opacity="0.74"/>
<ellipse cx="617.2" cy="1277.8" rx="2.4" ry="1.7" opacity="0.74"/>
<ellipse cx="642.6" cy="1277.8" rx="2.4" ry="1.7" opacity="0.74"/>
<ellipse cx="667.9" cy="1277.8" rx="2.4" ry="1.7" opacity="0.74"/>
<ellipse cx="693.3" cy="1277.8" rx="2.4" ry="1.7" opacity="0.74"/>
<ellipse cx="718.7" cy="1277.8" rx="2.4" ry="1.7" opacity="0.74"/>
<ellipse cx="744.1" cy="1277.8" rx="2.4" ry="1.7" opacity="0.74"/>
<ellipse cx="769.5" cy="1277.8" rx="2.4" ry="1.7" opacity="0.74"/>
<ellipse cx="794.9" cy="1277.8" rx="2.4" ry="1.7" opacity="0.74"/>
<ellipse cx="820.3" cy="1277.8" rx="2.4" ry="1.7" opacity="0.74"/>
<ellipse cx="845.6" cy="1277.8" rx="2.4" ry="1.7" opacity="0.74"/>
<ellipse cx="871.0" cy="1277.8" rx="2.4" ry="1.7" opacity="0.74"/>
<ellipse cx="896.4" cy="1277.8" rx="2.4" ry="1.7" opacity="0.74"/>
<ellipse cx="921.8" cy="1277.8" rx="2.4" ry="1.7" opacity="0.74"/>
<ellipse cx="947.2" cy="1277.8" rx="2.4" ry="1.7" opacity="0.74"/>
<ellipse cx="972.6" cy="1277.8" rx="2.4" ry="1.7" opacity="0.74"/>
<ellipse cx="998.0" cy="1277.8" rx="2.4" ry="1.7" opacity="0.74"/>
<ellipse cx="1023.3" cy="1277.8" rx="2.4" ry="1.7" opacity="0.74"/>
<ellipse cx="1048.7" cy="1277.8" rx="2.4" ry="1.7" opacity="0.74"/>
<ellipse cx="1074.1" cy="1277.8" rx="2.4" ry="1.7" opacity="0.74"/>
<ellipse cx="1099.5" cy="1277.8" rx="2.4" ry="1.7" opacity="0.74"/>
<rect x="-10" y="1281.0" width="1130" height="1.6" fill="#ffffff" opacity="0.10"/>
<ellipse cx="4.7" cy="1286.6" rx="2.4" ry="1.7" opacity="0.73"/>
<ellipse cx="30.3" cy="1286.6" rx="2.4" ry="1.7" opacity="0.73"/>
<ellipse cx="55.8" cy="1286.6" rx="2.4" ry="1.7" opacity="0.73"/>
<ellipse cx="81.4" cy="1286.6" rx="2.4" ry="1.7" opacity="0.73"/>
<ellipse cx="107.0" cy="1286.6" rx="2.4" ry="1.7" opacity="0.73"/>
<ellipse cx="132.6" cy="1286.6" rx="2.4" ry="1.7" opacity="0.73"/>
<ellipse cx="158.2" cy="1286.6" rx="2.4" ry="1.7" opacity="0.73"/>
<ellipse cx="183.8" cy="1286.6" rx="2.4" ry="1.7" opacity="0.73"/>
<ellipse cx="209.4" cy="1286.6" rx="2.4" ry="1.7" opacity="0.73"/>
<ellipse cx="234.9" cy="1286.6" rx="2.4" ry="1.7" opacity="0.73"/>
<ellipse cx="260.5" cy="1286.6" rx="2.4" ry="1.7" opacity="0.73"/>
<ellipse cx="286.1" cy="1286.6" rx="2.4" ry="1.7" opacity="0.73"/>
<ellipse cx="311.7" cy="1286.6" rx="2.4" ry="1.7" opacity="0.73"/>
<ellipse cx="337.3" cy="1286.6" rx="2.4" ry="1.7" opacity="0.73"/>
<ellipse cx="362.9" cy="1286.6" rx="2.4" ry="1.7" opacity="0.73"/>
<ellipse cx="388.5" cy="1286.6" rx="2.4" ry="1.7" opacity="0.73"/>
<ellipse cx="414.0" cy="1286.6" rx="2.4" ry="1.7" opacity="0.73"/>
<ellipse cx="439.6" cy="1286.6" rx="2.4" ry="1.7" opacity="0.73"/>
<ellipse cx="465.2" cy="1286.6" rx="2.4" ry="1.7" opacity="0.73"/>
<ellipse cx="490.8" cy="1286.6" rx="2.4" ry="1.7" opacity="0.73"/>
<ellipse cx="516.4" cy="1286.6" rx="2.4" ry="1.7" opacity="0.73"/>
<ellipse cx="542.0" cy="1286.6" rx="2.4" ry="1.7" opacity="0.73"/>
<ellipse cx="567.5" cy="1286.6" rx="2.4" ry="1.7" opacity="0.73"/>
<ellipse cx="593.1" cy="1286.6" rx="2.4" ry="1.7" opacity="0.73"/>
<ellipse cx="618.7" cy="1286.6" rx="2.4" ry="1.7" opacity="0.73"/>
<ellipse cx="644.3" cy="1286.6" rx="2.4" ry="1.7" opacity="0.73"/>
<ellipse cx="669.9" cy="1286.6" rx="2.4" ry="1.7" opacity="0.73"/>
<ellipse cx="695.5" cy="1286.6" rx="2.4" ry="1.7" opacity="0.73"/>
<ellipse cx="721.1" cy="1286.6" rx="2.4" ry="1.7" opacity="0.73"/>
<ellipse cx="746.6" cy="1286.6" rx="2.4" ry="1.7" opacity="0.73"/>
<ellipse cx="772.2" cy="1286.6" rx="2.4" ry="1.7" opacity="0.73"/>
<ellipse cx="797.8" cy="1286.6" rx="2.4" ry="1.7" opacity="0.73"/>
<ellipse cx="823.4" cy="1286.6" rx="2.4" ry="1.7" opacity="0.73"/>
<ellipse cx="849.0" cy="1286.6" rx="2.4" ry="1.7" opacity="0.73"/>
<ellipse cx="874.6" cy="1286.6" rx="2.4" ry="1.7" opacity="0.73"/>
<ellipse cx="900.2" cy="1286.6" rx="2.4" ry="1.7" opacity="0.73"/>
<ellipse cx="925.7" cy="1286.6" rx="2.4" ry="1.7" opacity="0.73"/>
<ellipse cx="951.3" cy="1286.6" rx="2.4" ry="1.7" opacity="0.73"/>
<ellipse cx="976.9" cy="1286.6" rx="2.4" ry="1.7" opacity="0.73"/>
<ellipse cx="1002.5" cy="1286.6" rx="2.4" ry="1.7" opacity="0.73"/>
<ellipse cx="1028.1" cy="1286.6" rx="2.4" ry="1.7" opacity="0.73"/>
<ellipse cx="1053.7" cy="1286.6" rx="2.4" ry="1.7" opacity="0.73"/>
<ellipse cx="1079.3" cy="1286.6" rx="2.4" ry="1.7" opacity="0.73"/>
<ellipse cx="1104.8" cy="1286.6" rx="2.4" ry="1.7" opacity="0.73"/>
<rect x="-10" y="1289.8" width="1130" height="1.6" fill="#ffffff" opacity="0.10"/>
<ellipse cx="1.4" cy="1295.5" rx="2.4" ry="1.7" opacity="0.72"/>
<ellipse cx="27.2" cy="1295.5" rx="2.4" ry="1.7" opacity="0.72"/>
<ellipse cx="53.0" cy="1295.5" rx="2.4" ry="1.7" opacity="0.72"/>
<ellipse cx="78.8" cy="1295.5" rx="2.4" ry="1.7" opacity="0.72"/>
<ellipse cx="104.6" cy="1295.5" rx="2.4" ry="1.7" opacity="0.72"/>
<ellipse cx="130.3" cy="1295.5" rx="2.4" ry="1.7" opacity="0.72"/>
<ellipse cx="156.1" cy="1295.5" rx="2.4" ry="1.7" opacity="0.72"/>
<ellipse cx="181.9" cy="1295.5" rx="2.4" ry="1.7" opacity="0.72"/>
<ellipse cx="207.7" cy="1295.5" rx="2.4" ry="1.7" opacity="0.72"/>
<ellipse cx="233.5" cy="1295.5" rx="2.4" ry="1.7" opacity="0.72"/>
<ellipse cx="259.3" cy="1295.5" rx="2.4" ry="1.7" opacity="0.72"/>
<ellipse cx="285.1" cy="1295.5" rx="2.4" ry="1.7" opacity="0.72"/>
<ellipse cx="310.8" cy="1295.5" rx="2.4" ry="1.7" opacity="0.72"/>
<ellipse cx="336.6" cy="1295.5" rx="2.4" ry="1.7" opacity="0.72"/>
<ellipse cx="362.4" cy="1295.5" rx="2.4" ry="1.7" opacity="0.72"/>
<ellipse cx="388.2" cy="1295.5" rx="2.4" ry="1.7" opacity="0.72"/>
<ellipse cx="414.0" cy="1295.5" rx="2.4" ry="1.7" opacity="0.72"/>
<ellipse cx="439.8" cy="1295.5" rx="2.4" ry="1.7" opacity="0.72"/>
<ellipse cx="465.6" cy="1295.5" rx="2.4" ry="1.7" opacity="0.72"/>
<ellipse cx="491.4" cy="1295.5" rx="2.4" ry="1.7" opacity="0.72"/>
<ellipse cx="517.1" cy="1295.5" rx="2.4" ry="1.7" opacity="0.72"/>
<ellipse cx="542.9" cy="1295.5" rx="2.4" ry="1.7" opacity="0.72"/>
<ellipse cx="568.7" cy="1295.5" rx="2.4" ry="1.7" opacity="0.72"/>
<ellipse cx="594.5" cy="1295.5" rx="2.4" ry="1.7" opacity="0.72"/>
<ellipse cx="620.3" cy="1295.5" rx="2.4" ry="1.7" opacity="0.72"/>
<ellipse cx="646.1" cy="1295.5" rx="2.4" ry="1.7" opacity="0.72"/>
<ellipse cx="671.9" cy="1295.5" rx="2.4" ry="1.7" opacity="0.72"/>
<ellipse cx="697.6" cy="1295.5" rx="2.4" ry="1.7" opacity="0.72"/>
<ellipse cx="723.4" cy="1295.5" rx="2.4" ry="1.7" opacity="0.72"/>
<ellipse cx="749.2" cy="1295.5" rx="2.4" ry="1.7" opacity="0.72"/>
<ellipse cx="775.0" cy="1295.5" rx="2.4" ry="1.7" opacity="0.72"/>
<ellipse cx="800.8" cy="1295.5" rx="2.4" ry="1.7" opacity="0.72"/>
<ellipse cx="826.6" cy="1295.5" rx="2.4" ry="1.7" opacity="0.72"/>
<ellipse cx="852.4" cy="1295.5" rx="2.4" ry="1.7" opacity="0.72"/>
<ellipse cx="878.1" cy="1295.5" rx="2.4" ry="1.7" opacity="0.72"/>
<ellipse cx="903.9" cy="1295.5" rx="2.4" ry="1.7" opacity="0.72"/>
<ellipse cx="929.7" cy="1295.5" rx="2.4" ry="1.7" opacity="0.72"/>
<ellipse cx="955.5" cy="1295.5" rx="2.4" ry="1.7" opacity="0.72"/>
<ellipse cx="981.3" cy="1295.5" rx="2.4" ry="1.7" opacity="0.72"/>
<ellipse cx="1007.1" cy="1295.5" rx="2.4" ry="1.7" opacity="0.72"/>
<ellipse cx="1032.9" cy="1295.5" rx="2.4" ry="1.7" opacity="0.72"/>
<ellipse cx="1058.6" cy="1295.5" rx="2.4" ry="1.7" opacity="0.72"/>
<ellipse cx="1084.4" cy="1295.5" rx="2.4" ry="1.7" opacity="0.72"/>
<ellipse cx="1110.2" cy="1295.5" rx="2.4" ry="1.7" opacity="0.72"/>
<rect x="-10" y="1298.7" width="1130" height="1.6" fill="#ffffff" opacity="0.10"/>
<ellipse cx="-1.9" cy="1304.5" rx="2.4" ry="1.7" opacity="0.71"/>
<ellipse cx="24.1" cy="1304.5" rx="2.4" ry="1.7" opacity="0.71"/>
<ellipse cx="50.1" cy="1304.5" rx="2.4" ry="1.7" opacity="0.71"/>
<ellipse cx="76.1" cy="1304.5" rx="2.4" ry="1.7" opacity="0.71"/>
<ellipse cx="102.1" cy="1304.5" rx="2.4" ry="1.7" opacity="0.71"/>
<ellipse cx="128.1" cy="1304.5" rx="2.4" ry="1.7" opacity="0.71"/>
<ellipse cx="154.1" cy="1304.5" rx="2.4" ry="1.7" opacity="0.71"/>
<ellipse cx="180.0" cy="1304.5" rx="2.4" ry="1.7" opacity="0.71"/>
<ellipse cx="206.0" cy="1304.5" rx="2.4" ry="1.7" opacity="0.71"/>
<ellipse cx="232.0" cy="1304.5" rx="2.4" ry="1.7" opacity="0.71"/>
<ellipse cx="258.0" cy="1304.5" rx="2.4" ry="1.7" opacity="0.71"/>
<ellipse cx="284.0" cy="1304.5" rx="2.4" ry="1.7" opacity="0.71"/>
<ellipse cx="310.0" cy="1304.5" rx="2.4" ry="1.7" opacity="0.71"/>
<ellipse cx="336.0" cy="1304.5" rx="2.4" ry="1.7" opacity="0.71"/>
<ellipse cx="362.0" cy="1304.5" rx="2.4" ry="1.7" opacity="0.71"/>
<ellipse cx="388.0" cy="1304.5" rx="2.4" ry="1.7" opacity="0.71"/>
<ellipse cx="413.9" cy="1304.5" rx="2.4" ry="1.7" opacity="0.71"/>
<ellipse cx="439.9" cy="1304.5" rx="2.4" ry="1.7" opacity="0.71"/>
<ellipse cx="465.9" cy="1304.5" rx="2.4" ry="1.7" opacity="0.71"/>
<ellipse cx="491.9" cy="1304.5" rx="2.4" ry="1.7" opacity="0.71"/>
<ellipse cx="517.9" cy="1304.5" rx="2.4" ry="1.7" opacity="0.71"/>
<ellipse cx="543.9" cy="1304.5" rx="2.4" ry="1.7" opacity="0.71"/>
<ellipse cx="569.9" cy="1304.5" rx="2.4" ry="1.7" opacity="0.71"/>
<ellipse cx="595.9" cy="1304.5" rx="2.4" ry="1.7" opacity="0.71"/>
<ellipse cx="621.9" cy="1304.5" rx="2.4" ry="1.7" opacity="0.71"/>
<ellipse cx="647.8" cy="1304.5" rx="2.4" ry="1.7" opacity="0.71"/>
<ellipse cx="673.8" cy="1304.5" rx="2.4" ry="1.7" opacity="0.71"/>
<ellipse cx="699.8" cy="1304.5" rx="2.4" ry="1.7" opacity="0.71"/>
<ellipse cx="725.8" cy="1304.5" rx="2.4" ry="1.7" opacity="0.71"/>
<ellipse cx="751.8" cy="1304.5" rx="2.4" ry="1.7" opacity="0.71"/>
<ellipse cx="777.8" cy="1304.5" rx="2.4" ry="1.7" opacity="0.71"/>
<ellipse cx="803.8" cy="1304.5" rx="2.4" ry="1.7" opacity="0.71"/>
<ellipse cx="829.8" cy="1304.5" rx="2.4" ry="1.7" opacity="0.71"/>
<ellipse cx="855.8" cy="1304.5" rx="2.4" ry="1.7" opacity="0.71"/>
<ellipse cx="881.7" cy="1304.5" rx="2.4" ry="1.7" opacity="0.71"/>
<ellipse cx="907.7" cy="1304.5" rx="2.4" ry="1.7" opacity="0.71"/>
<ellipse cx="933.7" cy="1304.5" rx="2.4" ry="1.7" opacity="0.71"/>
<ellipse cx="959.7" cy="1304.5" rx="2.4" ry="1.7" opacity="0.71"/>
<ellipse cx="985.7" cy="1304.5" rx="2.4" ry="1.7" opacity="0.71"/>
<ellipse cx="1011.7" cy="1304.5" rx="2.4" ry="1.7" opacity="0.71"/>
<ellipse cx="1037.7" cy="1304.5" rx="2.4" ry="1.7" opacity="0.71"/>
<ellipse cx="1063.7" cy="1304.5" rx="2.4" ry="1.7" opacity="0.71"/>
<ellipse cx="1089.7" cy="1304.5" rx="2.4" ry="1.7" opacity="0.71"/>
<ellipse cx="1115.6" cy="1304.5" rx="2.4" ry="1.7" opacity="0.71"/>
<rect x="-10" y="1307.7" width="1130" height="1.6" fill="#ffffff" opacity="0.10"/>
<ellipse cx="-5.2" cy="1313.6" rx="2.4" ry="1.7" opacity="0.70"/>
<ellipse cx="21.0" cy="1313.6" rx="2.4" ry="1.7" opacity="0.70"/>
<ellipse cx="47.2" cy="1313.6" rx="2.4" ry="1.7" opacity="0.70"/>
<ellipse cx="73.4" cy="1313.6" rx="2.4" ry="1.7" opacity="0.70"/>
<ellipse cx="99.6" cy="1313.6" rx="2.4" ry="1.7" opacity="0.70"/>
<ellipse cx="125.8" cy="1313.6" rx="2.4" ry="1.7" opacity="0.70"/>
<ellipse cx="152.0" cy="1313.6" rx="2.4" ry="1.7" opacity="0.70"/>
<ellipse cx="178.2" cy="1313.6" rx="2.4" ry="1.7" opacity="0.70"/>
<ellipse cx="204.4" cy="1313.6" rx="2.4" ry="1.7" opacity="0.70"/>
<ellipse cx="230.5" cy="1313.6" rx="2.4" ry="1.7" opacity="0.70"/>
<ellipse cx="256.7" cy="1313.6" rx="2.4" ry="1.7" opacity="0.70"/>
<ellipse cx="282.9" cy="1313.6" rx="2.4" ry="1.7" opacity="0.70"/>
<ellipse cx="309.1" cy="1313.6" rx="2.4" ry="1.7" opacity="0.70"/>
<ellipse cx="335.3" cy="1313.6" rx="2.4" ry="1.7" opacity="0.70"/>
<ellipse cx="361.5" cy="1313.6" rx="2.4" ry="1.7" opacity="0.70"/>
<ellipse cx="387.7" cy="1313.6" rx="2.4" ry="1.7" opacity="0.70"/>
<ellipse cx="413.9" cy="1313.6" rx="2.4" ry="1.7" opacity="0.70"/>
<ellipse cx="440.1" cy="1313.6" rx="2.4" ry="1.7" opacity="0.70"/>
<ellipse cx="466.3" cy="1313.6" rx="2.4" ry="1.7" opacity="0.70"/>
<ellipse cx="492.5" cy="1313.6" rx="2.4" ry="1.7" opacity="0.70"/>
<ellipse cx="518.7" cy="1313.6" rx="2.4" ry="1.7" opacity="0.70"/>
<ellipse cx="544.9" cy="1313.6" rx="2.4" ry="1.7" opacity="0.70"/>
<ellipse cx="571.1" cy="1313.6" rx="2.4" ry="1.7" opacity="0.70"/>
<ellipse cx="597.2" cy="1313.6" rx="2.4" ry="1.7" opacity="0.70"/>
<ellipse cx="623.4" cy="1313.6" rx="2.4" ry="1.7" opacity="0.70"/>
<ellipse cx="649.6" cy="1313.6" rx="2.4" ry="1.7" opacity="0.70"/>
<ellipse cx="675.8" cy="1313.6" rx="2.4" ry="1.7" opacity="0.70"/>
<ellipse cx="702.0" cy="1313.6" rx="2.4" ry="1.7" opacity="0.70"/>
<ellipse cx="728.2" cy="1313.6" rx="2.4" ry="1.7" opacity="0.70"/>
<ellipse cx="754.4" cy="1313.6" rx="2.4" ry="1.7" opacity="0.70"/>
<ellipse cx="780.6" cy="1313.6" rx="2.4" ry="1.7" opacity="0.70"/>
<ellipse cx="806.8" cy="1313.6" rx="2.4" ry="1.7" opacity="0.70"/>
<ellipse cx="833.0" cy="1313.6" rx="2.4" ry="1.7" opacity="0.70"/>
<ellipse cx="859.2" cy="1313.6" rx="2.4" ry="1.7" opacity="0.70"/>
<ellipse cx="885.4" cy="1313.6" rx="2.4" ry="1.7" opacity="0.70"/>
<ellipse cx="911.6" cy="1313.6" rx="2.4" ry="1.7" opacity="0.70"/>
<ellipse cx="937.8" cy="1313.6" rx="2.4" ry="1.7" opacity="0.70"/>
<ellipse cx="964.0" cy="1313.6" rx="2.4" ry="1.7" opacity="0.70"/>
<ellipse cx="990.1" cy="1313.6" rx="2.4" ry="1.7" opacity="0.70"/>
<ellipse cx="1016.3" cy="1313.6" rx="2.4" ry="1.7" opacity="0.70"/>
<ellipse cx="1042.5" cy="1313.6" rx="2.4" ry="1.7" opacity="0.70"/>
<ellipse cx="1068.7" cy="1313.6" rx="2.4" ry="1.7" opacity="0.70"/>
<ellipse cx="1094.9" cy="1313.6" rx="2.4" ry="1.7" opacity="0.70"/>
<rect x="-10" y="1316.8" width="1130" height="1.6" fill="#ffffff" opacity="0.10"/>
<ellipse cx="-8.5" cy="1322.7" rx="2.4" ry="1.7" opacity="0.68"/>
<ellipse cx="17.9" cy="1322.7" rx="2.4" ry="1.7" opacity="0.68"/>
<ellipse cx="44.3" cy="1322.7" rx="2.4" ry="1.7" opacity="0.68"/>
<ellipse cx="70.7" cy="1322.7" rx="2.4" ry="1.7" opacity="0.68"/>
<ellipse cx="97.1" cy="1322.7" rx="2.4" ry="1.7" opacity="0.68"/>
<ellipse cx="123.5" cy="1322.7" rx="2.4" ry="1.7" opacity="0.68"/>
<ellipse cx="149.9" cy="1322.7" rx="2.4" ry="1.7" opacity="0.68"/>
<ellipse cx="176.3" cy="1322.7" rx="2.4" ry="1.7" opacity="0.68"/>
<ellipse cx="202.7" cy="1322.7" rx="2.4" ry="1.7" opacity="0.68"/>
<ellipse cx="229.1" cy="1322.7" rx="2.4" ry="1.7" opacity="0.68"/>
<ellipse cx="255.5" cy="1322.7" rx="2.4" ry="1.7" opacity="0.68"/>
<ellipse cx="281.9" cy="1322.7" rx="2.4" ry="1.7" opacity="0.68"/>
<ellipse cx="308.3" cy="1322.7" rx="2.4" ry="1.7" opacity="0.68"/>
<ellipse cx="334.7" cy="1322.7" rx="2.4" ry="1.7" opacity="0.68"/>
<ellipse cx="361.1" cy="1322.7" rx="2.4" ry="1.7" opacity="0.68"/>
<ellipse cx="387.5" cy="1322.7" rx="2.4" ry="1.7" opacity="0.68"/>
<ellipse cx="413.8" cy="1322.7" rx="2.4" ry="1.7" opacity="0.68"/>
<ellipse cx="440.2" cy="1322.7" rx="2.4" ry="1.7" opacity="0.68"/>
<ellipse cx="466.6" cy="1322.7" rx="2.4" ry="1.7" opacity="0.68"/>
<ellipse cx="493.0" cy="1322.7" rx="2.4" ry="1.7" opacity="0.68"/>
<ellipse cx="519.4" cy="1322.7" rx="2.4" ry="1.7" opacity="0.68"/>
<ellipse cx="545.8" cy="1322.7" rx="2.4" ry="1.7" opacity="0.68"/>
<ellipse cx="572.2" cy="1322.7" rx="2.4" ry="1.7" opacity="0.68"/>
<ellipse cx="598.6" cy="1322.7" rx="2.4" ry="1.7" opacity="0.68"/>
<ellipse cx="625.0" cy="1322.7" rx="2.4" ry="1.7" opacity="0.68"/>
<ellipse cx="651.4" cy="1322.7" rx="2.4" ry="1.7" opacity="0.68"/>
<ellipse cx="677.8" cy="1322.7" rx="2.4" ry="1.7" opacity="0.68"/>
<ellipse cx="704.2" cy="1322.7" rx="2.4" ry="1.7" opacity="0.68"/>
<ellipse cx="730.6" cy="1322.7" rx="2.4" ry="1.7" opacity="0.68"/>
<ellipse cx="757.0" cy="1322.7" rx="2.4" ry="1.7" opacity="0.68"/>
<ellipse cx="783.4" cy="1322.7" rx="2.4" ry="1.7" opacity="0.68"/>
<ellipse cx="809.8" cy="1322.7" rx="2.4" ry="1.7" opacity="0.68"/>
<ellipse cx="836.2" cy="1322.7" rx="2.4" ry="1.7" opacity="0.68"/>
<ellipse cx="862.6" cy="1322.7" rx="2.4" ry="1.7" opacity="0.68"/>
<ellipse cx="889.0" cy="1322.7" rx="2.4" ry="1.7" opacity="0.68"/>
<ellipse cx="915.4" cy="1322.7" rx="2.4" ry="1.7" opacity="0.68"/>
<ellipse cx="941.8" cy="1322.7" rx="2.4" ry="1.7" opacity="0.68"/>
<ellipse cx="968.2" cy="1322.7" rx="2.4" ry="1.7" opacity="0.68"/>
<ellipse cx="994.6" cy="1322.7" rx="2.4" ry="1.7" opacity="0.68"/>
<ellipse cx="1021.0" cy="1322.7" rx="2.4" ry="1.7" opacity="0.68"/>
<ellipse cx="1047.4" cy="1322.7" rx="2.4" ry="1.7" opacity="0.68"/>
<ellipse cx="1073.8" cy="1322.7" rx="2.4" ry="1.7" opacity="0.68"/>
<ellipse cx="1100.2" cy="1322.7" rx="2.4" ry="1.7" opacity="0.68"/>
<rect x="-10" y="1325.9" width="1130" height="1.6" fill="#ffffff" opacity="0.10"/>
<ellipse cx="14.7" cy="1331.9" rx="2.4" ry="1.7" opacity="0.67"/>
<ellipse cx="41.3" cy="1331.9" rx="2.4" ry="1.7" opacity="0.67"/>
<ellipse cx="67.9" cy="1331.9" rx="2.4" ry="1.7" opacity="0.67"/>
<ellipse cx="94.5" cy="1331.9" rx="2.4" ry="1.7" opacity="0.67"/>
<ellipse cx="121.1" cy="1331.9" rx="2.4" ry="1.7" opacity="0.67"/>
<ellipse cx="147.7" cy="1331.9" rx="2.4" ry="1.7" opacity="0.67"/>
<ellipse cx="174.3" cy="1331.9" rx="2.4" ry="1.7" opacity="0.67"/>
<ellipse cx="200.9" cy="1331.9" rx="2.4" ry="1.7" opacity="0.67"/>
<ellipse cx="227.6" cy="1331.9" rx="2.4" ry="1.7" opacity="0.67"/>
<ellipse cx="254.2" cy="1331.9" rx="2.4" ry="1.7" opacity="0.67"/>
<ellipse cx="280.8" cy="1331.9" rx="2.4" ry="1.7" opacity="0.67"/>
<ellipse cx="307.4" cy="1331.9" rx="2.4" ry="1.7" opacity="0.67"/>
<ellipse cx="334.0" cy="1331.9" rx="2.4" ry="1.7" opacity="0.67"/>
<ellipse cx="360.6" cy="1331.9" rx="2.4" ry="1.7" opacity="0.67"/>
<ellipse cx="387.2" cy="1331.9" rx="2.4" ry="1.7" opacity="0.67"/>
<ellipse cx="413.8" cy="1331.9" rx="2.4" ry="1.7" opacity="0.67"/>
<ellipse cx="440.4" cy="1331.9" rx="2.4" ry="1.7" opacity="0.67"/>
<ellipse cx="467.0" cy="1331.9" rx="2.4" ry="1.7" opacity="0.67"/>
<ellipse cx="493.6" cy="1331.9" rx="2.4" ry="1.7" opacity="0.67"/>
<ellipse cx="520.2" cy="1331.9" rx="2.4" ry="1.7" opacity="0.67"/>
<ellipse cx="546.8" cy="1331.9" rx="2.4" ry="1.7" opacity="0.67"/>
<ellipse cx="573.4" cy="1331.9" rx="2.4" ry="1.7" opacity="0.67"/>
<ellipse cx="600.0" cy="1331.9" rx="2.4" ry="1.7" opacity="0.67"/>
<ellipse cx="626.7" cy="1331.9" rx="2.4" ry="1.7" opacity="0.67"/>
<ellipse cx="653.3" cy="1331.9" rx="2.4" ry="1.7" opacity="0.67"/>
<ellipse cx="679.9" cy="1331.9" rx="2.4" ry="1.7" opacity="0.67"/>
<ellipse cx="706.5" cy="1331.9" rx="2.4" ry="1.7" opacity="0.67"/>
<ellipse cx="733.1" cy="1331.9" rx="2.4" ry="1.7" opacity="0.67"/>
<ellipse cx="759.7" cy="1331.9" rx="2.4" ry="1.7" opacity="0.67"/>
<ellipse cx="786.3" cy="1331.9" rx="2.4" ry="1.7" opacity="0.67"/>
<ellipse cx="812.9" cy="1331.9" rx="2.4" ry="1.7" opacity="0.67"/>
<ellipse cx="839.5" cy="1331.9" rx="2.4" ry="1.7" opacity="0.67"/>
<ellipse cx="866.1" cy="1331.9" rx="2.4" ry="1.7" opacity="0.67"/>
<ellipse cx="892.7" cy="1331.9" rx="2.4" ry="1.7" opacity="0.67"/>
<ellipse cx="919.3" cy="1331.9" rx="2.4" ry="1.7" opacity="0.67"/>
<ellipse cx="945.9" cy="1331.9" rx="2.4" ry="1.7" opacity="0.67"/>
<ellipse cx="972.5" cy="1331.9" rx="2.4" ry="1.7" opacity="0.67"/>
<ellipse cx="999.1" cy="1331.9" rx="2.4" ry="1.7" opacity="0.67"/>
<ellipse cx="1025.8" cy="1331.9" rx="2.4" ry="1.7" opacity="0.67"/>
<ellipse cx="1052.4" cy="1331.9" rx="2.4" ry="1.7" opacity="0.67"/>
<ellipse cx="1079.0" cy="1331.9" rx="2.4" ry="1.7" opacity="0.67"/>
<ellipse cx="1105.6" cy="1331.9" rx="2.4" ry="1.7" opacity="0.67"/>
<rect x="-10" y="1335.1" width="1130" height="1.6" fill="#ffffff" opacity="0.10"/>
<ellipse cx="11.5" cy="1341.1" rx="2.4" ry="1.7" opacity="0.66"/>
<ellipse cx="38.3" cy="1341.1" rx="2.4" ry="1.7" opacity="0.66"/>
<ellipse cx="65.1" cy="1341.1" rx="2.4" ry="1.7" opacity="0.66"/>
<ellipse cx="92.0" cy="1341.1" rx="2.4" ry="1.7" opacity="0.66"/>
<ellipse cx="118.8" cy="1341.1" rx="2.4" ry="1.7" opacity="0.66"/>
<ellipse cx="145.6" cy="1341.1" rx="2.4" ry="1.7" opacity="0.66"/>
<ellipse cx="172.4" cy="1341.1" rx="2.4" ry="1.7" opacity="0.66"/>
<ellipse cx="199.2" cy="1341.1" rx="2.4" ry="1.7" opacity="0.66"/>
<ellipse cx="226.0" cy="1341.1" rx="2.4" ry="1.7" opacity="0.66"/>
<ellipse cx="252.9" cy="1341.1" rx="2.4" ry="1.7" opacity="0.66"/>
<ellipse cx="279.7" cy="1341.1" rx="2.4" ry="1.7" opacity="0.66"/>
<ellipse cx="306.5" cy="1341.1" rx="2.4" ry="1.7" opacity="0.66"/>
<ellipse cx="333.3" cy="1341.1" rx="2.4" ry="1.7" opacity="0.66"/>
<ellipse cx="360.1" cy="1341.1" rx="2.4" ry="1.7" opacity="0.66"/>
<ellipse cx="386.9" cy="1341.1" rx="2.4" ry="1.7" opacity="0.66"/>
<ellipse cx="413.8" cy="1341.1" rx="2.4" ry="1.7" opacity="0.66"/>
<ellipse cx="440.6" cy="1341.1" rx="2.4" ry="1.7" opacity="0.66"/>
<ellipse cx="467.4" cy="1341.1" rx="2.4" ry="1.7" opacity="0.66"/>
<ellipse cx="494.2" cy="1341.1" rx="2.4" ry="1.7" opacity="0.66"/>
<ellipse cx="521.0" cy="1341.1" rx="2.4" ry="1.7" opacity="0.66"/>
<ellipse cx="547.8" cy="1341.1" rx="2.4" ry="1.7" opacity="0.66"/>
<ellipse cx="574.6" cy="1341.1" rx="2.4" ry="1.7" opacity="0.66"/>
<ellipse cx="601.5" cy="1341.1" rx="2.4" ry="1.7" opacity="0.66"/>
<ellipse cx="628.3" cy="1341.1" rx="2.4" ry="1.7" opacity="0.66"/>
<ellipse cx="655.1" cy="1341.1" rx="2.4" ry="1.7" opacity="0.66"/>
<ellipse cx="681.9" cy="1341.1" rx="2.4" ry="1.7" opacity="0.66"/>
<ellipse cx="708.7" cy="1341.1" rx="2.4" ry="1.7" opacity="0.66"/>
<ellipse cx="735.5" cy="1341.1" rx="2.4" ry="1.7" opacity="0.66"/>
<ellipse cx="762.4" cy="1341.1" rx="2.4" ry="1.7" opacity="0.66"/>
<ellipse cx="789.2" cy="1341.1" rx="2.4" ry="1.7" opacity="0.66"/>
<ellipse cx="816.0" cy="1341.1" rx="2.4" ry="1.7" opacity="0.66"/>
<ellipse cx="842.8" cy="1341.1" rx="2.4" ry="1.7" opacity="0.66"/>
<ellipse cx="869.6" cy="1341.1" rx="2.4" ry="1.7" opacity="0.66"/>
<ellipse cx="896.4" cy="1341.1" rx="2.4" ry="1.7" opacity="0.66"/>
<ellipse cx="923.3" cy="1341.1" rx="2.4" ry="1.7" opacity="0.66"/>
<ellipse cx="950.1" cy="1341.1" rx="2.4" ry="1.7" opacity="0.66"/>
<ellipse cx="976.9" cy="1341.1" rx="2.4" ry="1.7" opacity="0.66"/>
<ellipse cx="1003.7" cy="1341.1" rx="2.4" ry="1.7" opacity="0.66"/>
<ellipse cx="1030.5" cy="1341.1" rx="2.4" ry="1.7" opacity="0.66"/>
<ellipse cx="1057.3" cy="1341.1" rx="2.4" ry="1.7" opacity="0.66"/>
<ellipse cx="1084.1" cy="1341.1" rx="2.4" ry="1.7" opacity="0.66"/>
<ellipse cx="1111.0" cy="1341.1" rx="2.4" ry="1.7" opacity="0.66"/>
<rect x="-10" y="1344.3" width="1130" height="1.6" fill="#ffffff" opacity="0.10"/>
<ellipse cx="8.3" cy="1350.5" rx="2.4" ry="1.7" opacity="0.65"/>
<ellipse cx="35.3" cy="1350.5" rx="2.4" ry="1.7" opacity="0.65"/>
<ellipse cx="62.4" cy="1350.5" rx="2.4" ry="1.7" opacity="0.65"/>
<ellipse cx="89.4" cy="1350.5" rx="2.4" ry="1.7" opacity="0.65"/>
<ellipse cx="116.4" cy="1350.5" rx="2.4" ry="1.7" opacity="0.65"/>
<ellipse cx="143.4" cy="1350.5" rx="2.4" ry="1.7" opacity="0.65"/>
<ellipse cx="170.5" cy="1350.5" rx="2.4" ry="1.7" opacity="0.65"/>
<ellipse cx="197.5" cy="1350.5" rx="2.4" ry="1.7" opacity="0.65"/>
<ellipse cx="224.5" cy="1350.5" rx="2.4" ry="1.7" opacity="0.65"/>
<ellipse cx="251.5" cy="1350.5" rx="2.4" ry="1.7" opacity="0.65"/>
<ellipse cx="278.6" cy="1350.5" rx="2.4" ry="1.7" opacity="0.65"/>
<ellipse cx="305.6" cy="1350.5" rx="2.4" ry="1.7" opacity="0.65"/>
<ellipse cx="332.6" cy="1350.5" rx="2.4" ry="1.7" opacity="0.65"/>
<ellipse cx="359.6" cy="1350.5" rx="2.4" ry="1.7" opacity="0.65"/>
<ellipse cx="386.7" cy="1350.5" rx="2.4" ry="1.7" opacity="0.65"/>
<ellipse cx="413.7" cy="1350.5" rx="2.4" ry="1.7" opacity="0.65"/>
<ellipse cx="440.7" cy="1350.5" rx="2.4" ry="1.7" opacity="0.65"/>
<ellipse cx="467.8" cy="1350.5" rx="2.4" ry="1.7" opacity="0.65"/>
<ellipse cx="494.8" cy="1350.5" rx="2.4" ry="1.7" opacity="0.65"/>
<ellipse cx="521.8" cy="1350.5" rx="2.4" ry="1.7" opacity="0.65"/>
<ellipse cx="548.8" cy="1350.5" rx="2.4" ry="1.7" opacity="0.65"/>
<ellipse cx="575.9" cy="1350.5" rx="2.4" ry="1.7" opacity="0.65"/>
<ellipse cx="602.9" cy="1350.5" rx="2.4" ry="1.7" opacity="0.65"/>
<ellipse cx="629.9" cy="1350.5" rx="2.4" ry="1.7" opacity="0.65"/>
<ellipse cx="656.9" cy="1350.5" rx="2.4" ry="1.7" opacity="0.65"/>
<ellipse cx="684.0" cy="1350.5" rx="2.4" ry="1.7" opacity="0.65"/>
<ellipse cx="711.0" cy="1350.5" rx="2.4" ry="1.7" opacity="0.65"/>
<ellipse cx="738.0" cy="1350.5" rx="2.4" ry="1.7" opacity="0.65"/>
<ellipse cx="765.1" cy="1350.5" rx="2.4" ry="1.7" opacity="0.65"/>
<ellipse cx="792.1" cy="1350.5" rx="2.4" ry="1.7" opacity="0.65"/>
<ellipse cx="819.1" cy="1350.5" rx="2.4" ry="1.7" opacity="0.65"/>
<ellipse cx="846.1" cy="1350.5" rx="2.4" ry="1.7" opacity="0.65"/>
<ellipse cx="873.2" cy="1350.5" rx="2.4" ry="1.7" opacity="0.65"/>
<ellipse cx="900.2" cy="1350.5" rx="2.4" ry="1.7" opacity="0.65"/>
<ellipse cx="927.2" cy="1350.5" rx="2.4" ry="1.7" opacity="0.65"/>
<ellipse cx="954.2" cy="1350.5" rx="2.4" ry="1.7" opacity="0.65"/>
<ellipse cx="981.3" cy="1350.5" rx="2.4" ry="1.7" opacity="0.65"/>
<ellipse cx="1008.3" cy="1350.5" rx="2.4" ry="1.7" opacity="0.65"/>
<ellipse cx="1035.3" cy="1350.5" rx="2.4" ry="1.7" opacity="0.65"/>
<ellipse cx="1062.3" cy="1350.5" rx="2.4" ry="1.7" opacity="0.65"/>
<ellipse cx="1089.4" cy="1350.5" rx="2.4" ry="1.7" opacity="0.65"/>
<ellipse cx="1116.4" cy="1350.5" rx="2.4" ry="1.7" opacity="0.65"/>
<rect x="-10" y="1353.7" width="1130" height="1.6" fill="#ffffff" opacity="0.10"/>
<ellipse cx="5.1" cy="1359.9" rx="2.4" ry="1.7" opacity="0.63"/>
<ellipse cx="32.3" cy="1359.9" rx="2.4" ry="1.7" opacity="0.63"/>
<ellipse cx="59.5" cy="1359.9" rx="2.4" ry="1.7" opacity="0.63"/>
<ellipse cx="86.8" cy="1359.9" rx="2.4" ry="1.7" opacity="0.63"/>
<ellipse cx="114.0" cy="1359.9" rx="2.4" ry="1.7" opacity="0.63"/>
<ellipse cx="141.3" cy="1359.9" rx="2.4" ry="1.7" opacity="0.63"/>
<ellipse cx="168.5" cy="1359.9" rx="2.4" ry="1.7" opacity="0.63"/>
<ellipse cx="195.7" cy="1359.9" rx="2.4" ry="1.7" opacity="0.63"/>
<ellipse cx="223.0" cy="1359.9" rx="2.4" ry="1.7" opacity="0.63"/>
<ellipse cx="250.2" cy="1359.9" rx="2.4" ry="1.7" opacity="0.63"/>
<ellipse cx="277.5" cy="1359.9" rx="2.4" ry="1.7" opacity="0.63"/>
<ellipse cx="304.7" cy="1359.9" rx="2.4" ry="1.7" opacity="0.63"/>
<ellipse cx="331.9" cy="1359.9" rx="2.4" ry="1.7" opacity="0.63"/>
<ellipse cx="359.2" cy="1359.9" rx="2.4" ry="1.7" opacity="0.63"/>
<ellipse cx="386.4" cy="1359.9" rx="2.4" ry="1.7" opacity="0.63"/>
<ellipse cx="413.7" cy="1359.9" rx="2.4" ry="1.7" opacity="0.63"/>
<ellipse cx="440.9" cy="1359.9" rx="2.4" ry="1.7" opacity="0.63"/>
<ellipse cx="468.1" cy="1359.9" rx="2.4" ry="1.7" opacity="0.63"/>
<ellipse cx="495.4" cy="1359.9" rx="2.4" ry="1.7" opacity="0.63"/>
<ellipse cx="522.6" cy="1359.9" rx="2.4" ry="1.7" opacity="0.63"/>
<ellipse cx="549.9" cy="1359.9" rx="2.4" ry="1.7" opacity="0.63"/>
<ellipse cx="577.1" cy="1359.9" rx="2.4" ry="1.7" opacity="0.63"/>
<ellipse cx="604.3" cy="1359.9" rx="2.4" ry="1.7" opacity="0.63"/>
<ellipse cx="631.6" cy="1359.9" rx="2.4" ry="1.7" opacity="0.63"/>
<ellipse cx="658.8" cy="1359.9" rx="2.4" ry="1.7" opacity="0.63"/>
<ellipse cx="686.0" cy="1359.9" rx="2.4" ry="1.7" opacity="0.63"/>
<ellipse cx="713.3" cy="1359.9" rx="2.4" ry="1.7" opacity="0.63"/>
<ellipse cx="740.5" cy="1359.9" rx="2.4" ry="1.7" opacity="0.63"/>
<ellipse cx="767.8" cy="1359.9" rx="2.4" ry="1.7" opacity="0.63"/>
<ellipse cx="795.0" cy="1359.9" rx="2.4" ry="1.7" opacity="0.63"/>
<ellipse cx="822.2" cy="1359.9" rx="2.4" ry="1.7" opacity="0.63"/>
<ellipse cx="849.5" cy="1359.9" rx="2.4" ry="1.7" opacity="0.63"/>
<ellipse cx="876.7" cy="1359.9" rx="2.4" ry="1.7" opacity="0.63"/>
<ellipse cx="904.0" cy="1359.9" rx="2.4" ry="1.7" opacity="0.63"/>
<ellipse cx="931.2" cy="1359.9" rx="2.4" ry="1.7" opacity="0.63"/>
<ellipse cx="958.4" cy="1359.9" rx="2.4" ry="1.7" opacity="0.63"/>
<ellipse cx="985.7" cy="1359.9" rx="2.4" ry="1.7" opacity="0.63"/>
<ellipse cx="1012.9" cy="1359.9" rx="2.4" ry="1.7" opacity="0.63"/>
<ellipse cx="1040.2" cy="1359.9" rx="2.4" ry="1.7" opacity="0.63"/>
<ellipse cx="1067.4" cy="1359.9" rx="2.4" ry="1.7" opacity="0.63"/>
<ellipse cx="1094.6" cy="1359.9" rx="2.4" ry="1.7" opacity="0.63"/>
<rect x="-10" y="1363.1" width="1130" height="1.6" fill="#ffffff" opacity="0.10"/>
<ellipse cx="1.8" cy="1369.4" rx="2.4" ry="1.7" opacity="0.62"/>
<ellipse cx="29.3" cy="1369.4" rx="2.4" ry="1.7" opacity="0.62"/>
<ellipse cx="56.7" cy="1369.4" rx="2.4" ry="1.7" opacity="0.62"/>
<ellipse cx="84.2" cy="1369.4" rx="2.4" ry="1.7" opacity="0.62"/>
<ellipse cx="111.6" cy="1369.4" rx="2.4" ry="1.7" opacity="0.62"/>
<ellipse cx="139.1" cy="1369.4" rx="2.4" ry="1.7" opacity="0.62"/>
<ellipse cx="166.5" cy="1369.4" rx="2.4" ry="1.7" opacity="0.62"/>
<ellipse cx="194.0" cy="1369.4" rx="2.4" ry="1.7" opacity="0.62"/>
<ellipse cx="221.4" cy="1369.4" rx="2.4" ry="1.7" opacity="0.62"/>
<ellipse cx="248.9" cy="1369.4" rx="2.4" ry="1.7" opacity="0.62"/>
<ellipse cx="276.3" cy="1369.4" rx="2.4" ry="1.7" opacity="0.62"/>
<ellipse cx="303.8" cy="1369.4" rx="2.4" ry="1.7" opacity="0.62"/>
<ellipse cx="331.2" cy="1369.4" rx="2.4" ry="1.7" opacity="0.62"/>
<ellipse cx="358.7" cy="1369.4" rx="2.4" ry="1.7" opacity="0.62"/>
<ellipse cx="386.1" cy="1369.4" rx="2.4" ry="1.7" opacity="0.62"/>
<ellipse cx="413.6" cy="1369.4" rx="2.4" ry="1.7" opacity="0.62"/>
<ellipse cx="441.1" cy="1369.4" rx="2.4" ry="1.7" opacity="0.62"/>
<ellipse cx="468.5" cy="1369.4" rx="2.4" ry="1.7" opacity="0.62"/>
<ellipse cx="496.0" cy="1369.4" rx="2.4" ry="1.7" opacity="0.62"/>
<ellipse cx="523.4" cy="1369.4" rx="2.4" ry="1.7" opacity="0.62"/>
<ellipse cx="550.9" cy="1369.4" rx="2.4" ry="1.7" opacity="0.62"/>
<ellipse cx="578.3" cy="1369.4" rx="2.4" ry="1.7" opacity="0.62"/>
<ellipse cx="605.8" cy="1369.4" rx="2.4" ry="1.7" opacity="0.62"/>
<ellipse cx="633.2" cy="1369.4" rx="2.4" ry="1.7" opacity="0.62"/>
<ellipse cx="660.7" cy="1369.4" rx="2.4" ry="1.7" opacity="0.62"/>
<ellipse cx="688.1" cy="1369.4" rx="2.4" ry="1.7" opacity="0.62"/>
<ellipse cx="715.6" cy="1369.4" rx="2.4" ry="1.7" opacity="0.62"/>
<ellipse cx="743.0" cy="1369.4" rx="2.4" ry="1.7" opacity="0.62"/>
<ellipse cx="770.5" cy="1369.4" rx="2.4" ry="1.7" opacity="0.62"/>
<ellipse cx="798.0" cy="1369.4" rx="2.4" ry="1.7" opacity="0.62"/>
<ellipse cx="825.4" cy="1369.4" rx="2.4" ry="1.7" opacity="0.62"/>
<ellipse cx="852.9" cy="1369.4" rx="2.4" ry="1.7" opacity="0.62"/>
<ellipse cx="880.3" cy="1369.4" rx="2.4" ry="1.7" opacity="0.62"/>
<ellipse cx="907.8" cy="1369.4" rx="2.4" ry="1.7" opacity="0.62"/>
<ellipse cx="935.2" cy="1369.4" rx="2.4" ry="1.7" opacity="0.62"/>
<ellipse cx="962.7" cy="1369.4" rx="2.4" ry="1.7" opacity="0.62"/>
<ellipse cx="990.1" cy="1369.4" rx="2.4" ry="1.7" opacity="0.62"/>
<ellipse cx="1017.6" cy="1369.4" rx="2.4" ry="1.7" opacity="0.62"/>
<ellipse cx="1045.0" cy="1369.4" rx="2.4" ry="1.7" opacity="0.62"/>
<ellipse cx="1072.5" cy="1369.4" rx="2.4" ry="1.7" opacity="0.62"/>
<ellipse cx="1099.9" cy="1369.4" rx="2.4" ry="1.7" opacity="0.62"/>
<rect x="-10" y="1372.6" width="1130" height="1.6" fill="#ffffff" opacity="0.10"/>
<ellipse cx="-1.5" cy="1379.0" rx="2.4" ry="1.7" opacity="0.61"/>
<ellipse cx="26.2" cy="1379.0" rx="2.4" ry="1.7" opacity="0.61"/>
<ellipse cx="53.8" cy="1379.0" rx="2.4" ry="1.7" opacity="0.61"/>
<ellipse cx="81.5" cy="1379.0" rx="2.4" ry="1.7" opacity="0.61"/>
<ellipse cx="109.2" cy="1379.0" rx="2.4" ry="1.7" opacity="0.61"/>
<ellipse cx="136.9" cy="1379.0" rx="2.4" ry="1.7" opacity="0.61"/>
<ellipse cx="164.5" cy="1379.0" rx="2.4" ry="1.7" opacity="0.61"/>
<ellipse cx="192.2" cy="1379.0" rx="2.4" ry="1.7" opacity="0.61"/>
<ellipse cx="219.9" cy="1379.0" rx="2.4" ry="1.7" opacity="0.61"/>
<ellipse cx="247.5" cy="1379.0" rx="2.4" ry="1.7" opacity="0.61"/>
<ellipse cx="275.2" cy="1379.0" rx="2.4" ry="1.7" opacity="0.61"/>
<ellipse cx="302.9" cy="1379.0" rx="2.4" ry="1.7" opacity="0.61"/>
<ellipse cx="330.5" cy="1379.0" rx="2.4" ry="1.7" opacity="0.61"/>
<ellipse cx="358.2" cy="1379.0" rx="2.4" ry="1.7" opacity="0.61"/>
<ellipse cx="385.9" cy="1379.0" rx="2.4" ry="1.7" opacity="0.61"/>
<ellipse cx="413.6" cy="1379.0" rx="2.4" ry="1.7" opacity="0.61"/>
<ellipse cx="441.2" cy="1379.0" rx="2.4" ry="1.7" opacity="0.61"/>
<ellipse cx="468.9" cy="1379.0" rx="2.4" ry="1.7" opacity="0.61"/>
<ellipse cx="496.6" cy="1379.0" rx="2.4" ry="1.7" opacity="0.61"/>
<ellipse cx="524.2" cy="1379.0" rx="2.4" ry="1.7" opacity="0.61"/>
<ellipse cx="551.9" cy="1379.0" rx="2.4" ry="1.7" opacity="0.61"/>
<ellipse cx="579.6" cy="1379.0" rx="2.4" ry="1.7" opacity="0.61"/>
<ellipse cx="607.2" cy="1379.0" rx="2.4" ry="1.7" opacity="0.61"/>
<ellipse cx="634.9" cy="1379.0" rx="2.4" ry="1.7" opacity="0.61"/>
<ellipse cx="662.6" cy="1379.0" rx="2.4" ry="1.7" opacity="0.61"/>
<ellipse cx="690.3" cy="1379.0" rx="2.4" ry="1.7" opacity="0.61"/>
<ellipse cx="717.9" cy="1379.0" rx="2.4" ry="1.7" opacity="0.61"/>
<ellipse cx="745.6" cy="1379.0" rx="2.4" ry="1.7" opacity="0.61"/>
<ellipse cx="773.3" cy="1379.0" rx="2.4" ry="1.7" opacity="0.61"/>
<ellipse cx="800.9" cy="1379.0" rx="2.4" ry="1.7" opacity="0.61"/>
<ellipse cx="828.6" cy="1379.0" rx="2.4" ry="1.7" opacity="0.61"/>
<ellipse cx="856.3" cy="1379.0" rx="2.4" ry="1.7" opacity="0.61"/>
<ellipse cx="883.9" cy="1379.0" rx="2.4" ry="1.7" opacity="0.61"/>
<ellipse cx="911.6" cy="1379.0" rx="2.4" ry="1.7" opacity="0.61"/>
<ellipse cx="939.3" cy="1379.0" rx="2.4" ry="1.7" opacity="0.61"/>
<ellipse cx="966.9" cy="1379.0" rx="2.4" ry="1.7" opacity="0.61"/>
<ellipse cx="994.6" cy="1379.0" rx="2.4" ry="1.7" opacity="0.61"/>
<ellipse cx="1022.3" cy="1379.0" rx="2.4" ry="1.7" opacity="0.61"/>
<ellipse cx="1050.0" cy="1379.0" rx="2.4" ry="1.7" opacity="0.61"/>
<ellipse cx="1077.6" cy="1379.0" rx="2.4" ry="1.7" opacity="0.61"/>
<ellipse cx="1105.3" cy="1379.0" rx="2.4" ry="1.7" opacity="0.61"/>
<rect x="-10" y="1382.2" width="1130" height="1.6" fill="#ffffff" opacity="0.10"/>
<ellipse cx="-4.8" cy="1388.6" rx="2.4" ry="1.7" opacity="0.60"/>
<ellipse cx="23.1" cy="1388.6" rx="2.4" ry="1.7" opacity="0.60"/>
<ellipse cx="51.0" cy="1388.6" rx="2.4" ry="1.7" opacity="0.60"/>
<ellipse cx="78.9" cy="1388.6" rx="2.4" ry="1.7" opacity="0.60"/>
<ellipse cx="106.7" cy="1388.6" rx="2.4" ry="1.7" opacity="0.60"/>
<ellipse cx="134.6" cy="1388.6" rx="2.4" ry="1.7" opacity="0.60"/>
<ellipse cx="162.5" cy="1388.6" rx="2.4" ry="1.7" opacity="0.60"/>
<ellipse cx="190.4" cy="1388.6" rx="2.4" ry="1.7" opacity="0.60"/>
<ellipse cx="218.3" cy="1388.6" rx="2.4" ry="1.7" opacity="0.60"/>
<ellipse cx="246.2" cy="1388.6" rx="2.4" ry="1.7" opacity="0.60"/>
<ellipse cx="274.1" cy="1388.6" rx="2.4" ry="1.7" opacity="0.60"/>
<ellipse cx="302.0" cy="1388.6" rx="2.4" ry="1.7" opacity="0.60"/>
<ellipse cx="329.8" cy="1388.6" rx="2.4" ry="1.7" opacity="0.60"/>
<ellipse cx="357.7" cy="1388.6" rx="2.4" ry="1.7" opacity="0.60"/>
<ellipse cx="385.6" cy="1388.6" rx="2.4" ry="1.7" opacity="0.60"/>
<ellipse cx="413.5" cy="1388.6" rx="2.4" ry="1.7" opacity="0.60"/>
<ellipse cx="441.4" cy="1388.6" rx="2.4" ry="1.7" opacity="0.60"/>
<ellipse cx="469.3" cy="1388.6" rx="2.4" ry="1.7" opacity="0.60"/>
<ellipse cx="497.2" cy="1388.6" rx="2.4" ry="1.7" opacity="0.60"/>
<ellipse cx="525.1" cy="1388.6" rx="2.4" ry="1.7" opacity="0.60"/>
<ellipse cx="552.9" cy="1388.6" rx="2.4" ry="1.7" opacity="0.60"/>
<ellipse cx="580.8" cy="1388.6" rx="2.4" ry="1.7" opacity="0.60"/>
<ellipse cx="608.7" cy="1388.6" rx="2.4" ry="1.7" opacity="0.60"/>
<ellipse cx="636.6" cy="1388.6" rx="2.4" ry="1.7" opacity="0.60"/>
<ellipse cx="664.5" cy="1388.6" rx="2.4" ry="1.7" opacity="0.60"/>
<ellipse cx="692.4" cy="1388.6" rx="2.4" ry="1.7" opacity="0.60"/>
<ellipse cx="720.3" cy="1388.6" rx="2.4" ry="1.7" opacity="0.60"/>
<ellipse cx="748.2" cy="1388.6" rx="2.4" ry="1.7" opacity="0.60"/>
<ellipse cx="776.0" cy="1388.6" rx="2.4" ry="1.7" opacity="0.60"/>
<ellipse cx="803.9" cy="1388.6" rx="2.4" ry="1.7" opacity="0.60"/>
<ellipse cx="831.8" cy="1388.6" rx="2.4" ry="1.7" opacity="0.60"/>
<ellipse cx="859.7" cy="1388.6" rx="2.4" ry="1.7" opacity="0.60"/>
<ellipse cx="887.6" cy="1388.6" rx="2.4" ry="1.7" opacity="0.60"/>
<ellipse cx="915.5" cy="1388.6" rx="2.4" ry="1.7" opacity="0.60"/>
<ellipse cx="943.4" cy="1388.6" rx="2.4" ry="1.7" opacity="0.60"/>
<ellipse cx="971.3" cy="1388.6" rx="2.4" ry="1.7" opacity="0.60"/>
<ellipse cx="999.1" cy="1388.6" rx="2.4" ry="1.7" opacity="0.60"/>
<ellipse cx="1027.0" cy="1388.6" rx="2.4" ry="1.7" opacity="0.60"/>
<ellipse cx="1054.9" cy="1388.6" rx="2.4" ry="1.7" opacity="0.60"/>
<ellipse cx="1082.8" cy="1388.6" rx="2.4" ry="1.7" opacity="0.60"/>
<ellipse cx="1110.7" cy="1388.6" rx="2.4" ry="1.7" opacity="0.60"/>
<rect x="-10" y="1391.8" width="1130" height="1.6" fill="#ffffff" opacity="0.10"/>
<ellipse cx="-8.2" cy="1398.3" rx="2.4" ry="1.7" opacity="0.58"/>
<ellipse cx="19.9" cy="1398.3" rx="2.4" ry="1.7" opacity="0.58"/>
<ellipse cx="48.1" cy="1398.3" rx="2.4" ry="1.7" opacity="0.58"/>
<ellipse cx="76.2" cy="1398.3" rx="2.4" ry="1.7" opacity="0.58"/>
<ellipse cx="104.3" cy="1398.3" rx="2.4" ry="1.7" opacity="0.58"/>
<ellipse cx="132.4" cy="1398.3" rx="2.4" ry="1.7" opacity="0.58"/>
<ellipse cx="160.5" cy="1398.3" rx="2.4" ry="1.7" opacity="0.58"/>
<ellipse cx="188.6" cy="1398.3" rx="2.4" ry="1.7" opacity="0.58"/>
<ellipse cx="216.7" cy="1398.3" rx="2.4" ry="1.7" opacity="0.58"/>
<ellipse cx="244.8" cy="1398.3" rx="2.4" ry="1.7" opacity="0.58"/>
<ellipse cx="272.9" cy="1398.3" rx="2.4" ry="1.7" opacity="0.58"/>
<ellipse cx="301.0" cy="1398.3" rx="2.4" ry="1.7" opacity="0.58"/>
<ellipse cx="329.1" cy="1398.3" rx="2.4" ry="1.7" opacity="0.58"/>
<ellipse cx="357.2" cy="1398.3" rx="2.4" ry="1.7" opacity="0.58"/>
<ellipse cx="385.3" cy="1398.3" rx="2.4" ry="1.7" opacity="0.58"/>
<ellipse cx="413.5" cy="1398.3" rx="2.4" ry="1.7" opacity="0.58"/>
<ellipse cx="441.6" cy="1398.3" rx="2.4" ry="1.7" opacity="0.58"/>
<ellipse cx="469.7" cy="1398.3" rx="2.4" ry="1.7" opacity="0.58"/>
<ellipse cx="497.8" cy="1398.3" rx="2.4" ry="1.7" opacity="0.58"/>
<ellipse cx="525.9" cy="1398.3" rx="2.4" ry="1.7" opacity="0.58"/>
<ellipse cx="554.0" cy="1398.3" rx="2.4" ry="1.7" opacity="0.58"/>
<ellipse cx="582.1" cy="1398.3" rx="2.4" ry="1.7" opacity="0.58"/>
<ellipse cx="610.2" cy="1398.3" rx="2.4" ry="1.7" opacity="0.58"/>
<ellipse cx="638.3" cy="1398.3" rx="2.4" ry="1.7" opacity="0.58"/>
<ellipse cx="666.4" cy="1398.3" rx="2.4" ry="1.7" opacity="0.58"/>
<ellipse cx="694.5" cy="1398.3" rx="2.4" ry="1.7" opacity="0.58"/>
<ellipse cx="722.6" cy="1398.3" rx="2.4" ry="1.7" opacity="0.58"/>
<ellipse cx="750.7" cy="1398.3" rx="2.4" ry="1.7" opacity="0.58"/>
<ellipse cx="778.8" cy="1398.3" rx="2.4" ry="1.7" opacity="0.58"/>
<ellipse cx="807.0" cy="1398.3" rx="2.4" ry="1.7" opacity="0.58"/>
<ellipse cx="835.1" cy="1398.3" rx="2.4" ry="1.7" opacity="0.58"/>
<ellipse cx="863.2" cy="1398.3" rx="2.4" ry="1.7" opacity="0.58"/>
<ellipse cx="891.3" cy="1398.3" rx="2.4" ry="1.7" opacity="0.58"/>
<ellipse cx="919.4" cy="1398.3" rx="2.4" ry="1.7" opacity="0.58"/>
<ellipse cx="947.5" cy="1398.3" rx="2.4" ry="1.7" opacity="0.58"/>
<ellipse cx="975.6" cy="1398.3" rx="2.4" ry="1.7" opacity="0.58"/>
<ellipse cx="1003.7" cy="1398.3" rx="2.4" ry="1.7" opacity="0.58"/>
<ellipse cx="1031.8" cy="1398.3" rx="2.4" ry="1.7" opacity="0.58"/>
<ellipse cx="1059.9" cy="1398.3" rx="2.4" ry="1.7" opacity="0.58"/>
<ellipse cx="1088.0" cy="1398.3" rx="2.4" ry="1.7" opacity="0.58"/>
<ellipse cx="1116.1" cy="1398.3" rx="2.4" ry="1.7" opacity="0.58"/>
<rect x="-10" y="1401.5" width="1130" height="1.6" fill="#ffffff" opacity="0.10"/>
<ellipse cx="16.8" cy="1408.1" rx="2.4" ry="1.7" opacity="0.57"/>
<ellipse cx="45.1" cy="1408.1" rx="2.4" ry="1.7" opacity="0.57"/>
<ellipse cx="73.5" cy="1408.1" rx="2.4" ry="1.7" opacity="0.57"/>
<ellipse cx="101.8" cy="1408.1" rx="2.4" ry="1.7" opacity="0.57"/>
<ellipse cx="130.1" cy="1408.1" rx="2.4" ry="1.7" opacity="0.57"/>
<ellipse cx="158.4" cy="1408.1" rx="2.4" ry="1.7" opacity="0.57"/>
<ellipse cx="186.8" cy="1408.1" rx="2.4" ry="1.7" opacity="0.57"/>
<ellipse cx="215.1" cy="1408.1" rx="2.4" ry="1.7" opacity="0.57"/>
<ellipse cx="243.4" cy="1408.1" rx="2.4" ry="1.7" opacity="0.57"/>
<ellipse cx="271.8" cy="1408.1" rx="2.4" ry="1.7" opacity="0.57"/>
<ellipse cx="300.1" cy="1408.1" rx="2.4" ry="1.7" opacity="0.57"/>
<ellipse cx="328.4" cy="1408.1" rx="2.4" ry="1.7" opacity="0.57"/>
<ellipse cx="356.7" cy="1408.1" rx="2.4" ry="1.7" opacity="0.57"/>
<ellipse cx="385.1" cy="1408.1" rx="2.4" ry="1.7" opacity="0.57"/>
<ellipse cx="413.4" cy="1408.1" rx="2.4" ry="1.7" opacity="0.57"/>
<ellipse cx="441.7" cy="1408.1" rx="2.4" ry="1.7" opacity="0.57"/>
<ellipse cx="470.1" cy="1408.1" rx="2.4" ry="1.7" opacity="0.57"/>
<ellipse cx="498.4" cy="1408.1" rx="2.4" ry="1.7" opacity="0.57"/>
<ellipse cx="526.7" cy="1408.1" rx="2.4" ry="1.7" opacity="0.57"/>
<ellipse cx="555.0" cy="1408.1" rx="2.4" ry="1.7" opacity="0.57"/>
<ellipse cx="583.4" cy="1408.1" rx="2.4" ry="1.7" opacity="0.57"/>
<ellipse cx="611.7" cy="1408.1" rx="2.4" ry="1.7" opacity="0.57"/>
<ellipse cx="640.0" cy="1408.1" rx="2.4" ry="1.7" opacity="0.57"/>
<ellipse cx="668.4" cy="1408.1" rx="2.4" ry="1.7" opacity="0.57"/>
<ellipse cx="696.7" cy="1408.1" rx="2.4" ry="1.7" opacity="0.57"/>
<ellipse cx="725.0" cy="1408.1" rx="2.4" ry="1.7" opacity="0.57"/>
<ellipse cx="753.3" cy="1408.1" rx="2.4" ry="1.7" opacity="0.57"/>
<ellipse cx="781.7" cy="1408.1" rx="2.4" ry="1.7" opacity="0.57"/>
<ellipse cx="810.0" cy="1408.1" rx="2.4" ry="1.7" opacity="0.57"/>
<ellipse cx="838.3" cy="1408.1" rx="2.4" ry="1.7" opacity="0.57"/>
<ellipse cx="866.7" cy="1408.1" rx="2.4" ry="1.7" opacity="0.57"/>
<ellipse cx="895.0" cy="1408.1" rx="2.4" ry="1.7" opacity="0.57"/>
<ellipse cx="923.3" cy="1408.1" rx="2.4" ry="1.7" opacity="0.57"/>
<ellipse cx="951.6" cy="1408.1" rx="2.4" ry="1.7" opacity="0.57"/>
<ellipse cx="980.0" cy="1408.1" rx="2.4" ry="1.7" opacity="0.57"/>
<ellipse cx="1008.3" cy="1408.1" rx="2.4" ry="1.7" opacity="0.57"/>
<ellipse cx="1036.6" cy="1408.1" rx="2.4" ry="1.7" opacity="0.57"/>
<ellipse cx="1065.0" cy="1408.1" rx="2.4" ry="1.7" opacity="0.57"/>
<ellipse cx="1093.3" cy="1408.1" rx="2.4" ry="1.7" opacity="0.57"/>
<rect x="-10" y="1411.3" width="1130" height="1.6" fill="#ffffff" opacity="0.10"/>
<ellipse cx="13.6" cy="1418.0" rx="2.4" ry="1.7" opacity="0.56"/>
<ellipse cx="42.2" cy="1418.0" rx="2.4" ry="1.7" opacity="0.56"/>
<ellipse cx="70.7" cy="1418.0" rx="2.4" ry="1.7" opacity="0.56"/>
<ellipse cx="99.3" cy="1418.0" rx="2.4" ry="1.7" opacity="0.56"/>
<ellipse cx="127.8" cy="1418.0" rx="2.4" ry="1.7" opacity="0.56"/>
<ellipse cx="156.4" cy="1418.0" rx="2.4" ry="1.7" opacity="0.56"/>
<ellipse cx="184.9" cy="1418.0" rx="2.4" ry="1.7" opacity="0.56"/>
<ellipse cx="213.5" cy="1418.0" rx="2.4" ry="1.7" opacity="0.56"/>
<ellipse cx="242.0" cy="1418.0" rx="2.4" ry="1.7" opacity="0.56"/>
<ellipse cx="270.6" cy="1418.0" rx="2.4" ry="1.7" opacity="0.56"/>
<ellipse cx="299.1" cy="1418.0" rx="2.4" ry="1.7" opacity="0.56"/>
<ellipse cx="327.7" cy="1418.0" rx="2.4" ry="1.7" opacity="0.56"/>
<ellipse cx="356.2" cy="1418.0" rx="2.4" ry="1.7" opacity="0.56"/>
<ellipse cx="384.8" cy="1418.0" rx="2.4" ry="1.7" opacity="0.56"/>
<ellipse cx="413.3" cy="1418.0" rx="2.4" ry="1.7" opacity="0.56"/>
<ellipse cx="441.9" cy="1418.0" rx="2.4" ry="1.7" opacity="0.56"/>
<ellipse cx="470.5" cy="1418.0" rx="2.4" ry="1.7" opacity="0.56"/>
<ellipse cx="499.0" cy="1418.0" rx="2.4" ry="1.7" opacity="0.56"/>
<ellipse cx="527.6" cy="1418.0" rx="2.4" ry="1.7" opacity="0.56"/>
<ellipse cx="556.1" cy="1418.0" rx="2.4" ry="1.7" opacity="0.56"/>
<ellipse cx="584.7" cy="1418.0" rx="2.4" ry="1.7" opacity="0.56"/>
<ellipse cx="613.2" cy="1418.0" rx="2.4" ry="1.7" opacity="0.56"/>
<ellipse cx="641.8" cy="1418.0" rx="2.4" ry="1.7" opacity="0.56"/>
<ellipse cx="670.3" cy="1418.0" rx="2.4" ry="1.7" opacity="0.56"/>
<ellipse cx="698.9" cy="1418.0" rx="2.4" ry="1.7" opacity="0.56"/>
<ellipse cx="727.4" cy="1418.0" rx="2.4" ry="1.7" opacity="0.56"/>
<ellipse cx="756.0" cy="1418.0" rx="2.4" ry="1.7" opacity="0.56"/>
<ellipse cx="784.5" cy="1418.0" rx="2.4" ry="1.7" opacity="0.56"/>
<ellipse cx="813.1" cy="1418.0" rx="2.4" ry="1.7" opacity="0.56"/>
<ellipse cx="841.6" cy="1418.0" rx="2.4" ry="1.7" opacity="0.56"/>
<ellipse cx="870.2" cy="1418.0" rx="2.4" ry="1.7" opacity="0.56"/>
<ellipse cx="898.7" cy="1418.0" rx="2.4" ry="1.7" opacity="0.56"/>
<ellipse cx="927.3" cy="1418.0" rx="2.4" ry="1.7" opacity="0.56"/>
<ellipse cx="955.8" cy="1418.0" rx="2.4" ry="1.7" opacity="0.56"/>
<ellipse cx="984.4" cy="1418.0" rx="2.4" ry="1.7" opacity="0.56"/>
<ellipse cx="1012.9" cy="1418.0" rx="2.4" ry="1.7" opacity="0.56"/>
<ellipse cx="1041.5" cy="1418.0" rx="2.4" ry="1.7" opacity="0.56"/>
<ellipse cx="1070.0" cy="1418.0" rx="2.4" ry="1.7" opacity="0.56"/>
<ellipse cx="1098.6" cy="1418.0" rx="2.4" ry="1.7" opacity="0.56"/>
<rect x="-10" y="1421.2" width="1130" height="1.6" fill="#ffffff" opacity="0.10"/>
<ellipse cx="10.4" cy="1428.0" rx="2.4" ry="1.7" opacity="0.54"/>
<ellipse cx="39.2" cy="1428.0" rx="2.4" ry="1.7" opacity="0.54"/>
<ellipse cx="68.0" cy="1428.0" rx="2.4" ry="1.7" opacity="0.54"/>
<ellipse cx="96.8" cy="1428.0" rx="2.4" ry="1.7" opacity="0.54"/>
<ellipse cx="125.5" cy="1428.0" rx="2.4" ry="1.7" opacity="0.54"/>
<ellipse cx="154.3" cy="1428.0" rx="2.4" ry="1.7" opacity="0.54"/>
<ellipse cx="183.1" cy="1428.0" rx="2.4" ry="1.7" opacity="0.54"/>
<ellipse cx="211.9" cy="1428.0" rx="2.4" ry="1.7" opacity="0.54"/>
<ellipse cx="240.6" cy="1428.0" rx="2.4" ry="1.7" opacity="0.54"/>
<ellipse cx="269.4" cy="1428.0" rx="2.4" ry="1.7" opacity="0.54"/>
<ellipse cx="298.2" cy="1428.0" rx="2.4" ry="1.7" opacity="0.54"/>
<ellipse cx="327.0" cy="1428.0" rx="2.4" ry="1.7" opacity="0.54"/>
<ellipse cx="355.7" cy="1428.0" rx="2.4" ry="1.7" opacity="0.54"/>
<ellipse cx="384.5" cy="1428.0" rx="2.4" ry="1.7" opacity="0.54"/>
<ellipse cx="413.3" cy="1428.0" rx="2.4" ry="1.7" opacity="0.54"/>
<ellipse cx="442.1" cy="1428.0" rx="2.4" ry="1.7" opacity="0.54"/>
<ellipse cx="470.8" cy="1428.0" rx="2.4" ry="1.7" opacity="0.54"/>
<ellipse cx="499.6" cy="1428.0" rx="2.4" ry="1.7" opacity="0.54"/>
<ellipse cx="528.4" cy="1428.0" rx="2.4" ry="1.7" opacity="0.54"/>
<ellipse cx="557.2" cy="1428.0" rx="2.4" ry="1.7" opacity="0.54"/>
<ellipse cx="586.0" cy="1428.0" rx="2.4" ry="1.7" opacity="0.54"/>
<ellipse cx="614.7" cy="1428.0" rx="2.4" ry="1.7" opacity="0.54"/>
<ellipse cx="643.5" cy="1428.0" rx="2.4" ry="1.7" opacity="0.54"/>
<ellipse cx="672.3" cy="1428.0" rx="2.4" ry="1.7" opacity="0.54"/>
<ellipse cx="701.1" cy="1428.0" rx="2.4" ry="1.7" opacity="0.54"/>
<ellipse cx="729.8" cy="1428.0" rx="2.4" ry="1.7" opacity="0.54"/>
<ellipse cx="758.6" cy="1428.0" rx="2.4" ry="1.7" opacity="0.54"/>
<ellipse cx="787.4" cy="1428.0" rx="2.4" ry="1.7" opacity="0.54"/>
<ellipse cx="816.2" cy="1428.0" rx="2.4" ry="1.7" opacity="0.54"/>
<ellipse cx="844.9" cy="1428.0" rx="2.4" ry="1.7" opacity="0.54"/>
<ellipse cx="873.7" cy="1428.0" rx="2.4" ry="1.7" opacity="0.54"/>
<ellipse cx="902.5" cy="1428.0" rx="2.4" ry="1.7" opacity="0.54"/>
<ellipse cx="931.3" cy="1428.0" rx="2.4" ry="1.7" opacity="0.54"/>
<ellipse cx="960.1" cy="1428.0" rx="2.4" ry="1.7" opacity="0.54"/>
<ellipse cx="988.8" cy="1428.0" rx="2.4" ry="1.7" opacity="0.54"/>
<ellipse cx="1017.6" cy="1428.0" rx="2.4" ry="1.7" opacity="0.54"/>
<ellipse cx="1046.4" cy="1428.0" rx="2.4" ry="1.7" opacity="0.54"/>
<ellipse cx="1075.2" cy="1428.0" rx="2.4" ry="1.7" opacity="0.54"/>
<ellipse cx="1103.9" cy="1428.0" rx="2.4" ry="1.7" opacity="0.54"/>
<rect x="-10" y="1431.2" width="1130" height="1.6" fill="#ffffff" opacity="0.10"/>
<ellipse cx="7.2" cy="1438.0" rx="2.4" ry="1.7" opacity="0.53"/>
<ellipse cx="36.2" cy="1438.0" rx="2.4" ry="1.7" opacity="0.53"/>
<ellipse cx="65.2" cy="1438.0" rx="2.4" ry="1.7" opacity="0.53"/>
<ellipse cx="94.2" cy="1438.0" rx="2.4" ry="1.7" opacity="0.53"/>
<ellipse cx="123.2" cy="1438.0" rx="2.4" ry="1.7" opacity="0.53"/>
<ellipse cx="152.2" cy="1438.0" rx="2.4" ry="1.7" opacity="0.53"/>
<ellipse cx="181.2" cy="1438.0" rx="2.4" ry="1.7" opacity="0.53"/>
<ellipse cx="210.2" cy="1438.0" rx="2.4" ry="1.7" opacity="0.53"/>
<ellipse cx="239.2" cy="1438.0" rx="2.4" ry="1.7" opacity="0.53"/>
<ellipse cx="268.2" cy="1438.0" rx="2.4" ry="1.7" opacity="0.53"/>
<ellipse cx="297.2" cy="1438.0" rx="2.4" ry="1.7" opacity="0.53"/>
<ellipse cx="326.2" cy="1438.0" rx="2.4" ry="1.7" opacity="0.53"/>
<ellipse cx="355.2" cy="1438.0" rx="2.4" ry="1.7" opacity="0.53"/>
<ellipse cx="384.2" cy="1438.0" rx="2.4" ry="1.7" opacity="0.53"/>
<ellipse cx="413.2" cy="1438.0" rx="2.4" ry="1.7" opacity="0.53"/>
<ellipse cx="442.2" cy="1438.0" rx="2.4" ry="1.7" opacity="0.53"/>
<ellipse cx="471.2" cy="1438.0" rx="2.4" ry="1.7" opacity="0.53"/>
<ellipse cx="500.3" cy="1438.0" rx="2.4" ry="1.7" opacity="0.53"/>
<ellipse cx="529.3" cy="1438.0" rx="2.4" ry="1.7" opacity="0.53"/>
<ellipse cx="558.3" cy="1438.0" rx="2.4" ry="1.7" opacity="0.53"/>
<ellipse cx="587.3" cy="1438.0" rx="2.4" ry="1.7" opacity="0.53"/>
<ellipse cx="616.3" cy="1438.0" rx="2.4" ry="1.7" opacity="0.53"/>
<ellipse cx="645.3" cy="1438.0" rx="2.4" ry="1.7" opacity="0.53"/>
<ellipse cx="674.3" cy="1438.0" rx="2.4" ry="1.7" opacity="0.53"/>
<ellipse cx="703.3" cy="1438.0" rx="2.4" ry="1.7" opacity="0.53"/>
<ellipse cx="732.3" cy="1438.0" rx="2.4" ry="1.7" opacity="0.53"/>
<ellipse cx="761.3" cy="1438.0" rx="2.4" ry="1.7" opacity="0.53"/>
<ellipse cx="790.3" cy="1438.0" rx="2.4" ry="1.7" opacity="0.53"/>
<ellipse cx="819.3" cy="1438.0" rx="2.4" ry="1.7" opacity="0.53"/>
<ellipse cx="848.3" cy="1438.0" rx="2.4" ry="1.7" opacity="0.53"/>
<ellipse cx="877.3" cy="1438.0" rx="2.4" ry="1.7" opacity="0.53"/>
<ellipse cx="906.3" cy="1438.0" rx="2.4" ry="1.7" opacity="0.53"/>
<ellipse cx="935.3" cy="1438.0" rx="2.4" ry="1.7" opacity="0.53"/>
<ellipse cx="964.3" cy="1438.0" rx="2.4" ry="1.7" opacity="0.53"/>
<ellipse cx="993.3" cy="1438.0" rx="2.4" ry="1.7" opacity="0.53"/>
<ellipse cx="1022.3" cy="1438.0" rx="2.4" ry="1.7" opacity="0.53"/>
<ellipse cx="1051.3" cy="1438.0" rx="2.4" ry="1.7" opacity="0.53"/>
<ellipse cx="1080.3" cy="1438.0" rx="2.4" ry="1.7" opacity="0.53"/>
<ellipse cx="1109.3" cy="1438.0" rx="2.4" ry="1.7" opacity="0.53"/>
<rect x="-10" y="1441.2" width="1130" height="1.6" fill="#ffffff" opacity="0.10"/>
<ellipse cx="3.9" cy="1448.1" rx="2.4" ry="1.7" opacity="0.52"/>
<ellipse cx="33.2" cy="1448.1" rx="2.4" ry="1.7" opacity="0.52"/>
<ellipse cx="62.4" cy="1448.1" rx="2.4" ry="1.7" opacity="0.52"/>
<ellipse cx="91.6" cy="1448.1" rx="2.4" ry="1.7" opacity="0.52"/>
<ellipse cx="120.9" cy="1448.1" rx="2.4" ry="1.7" opacity="0.52"/>
<ellipse cx="150.1" cy="1448.1" rx="2.4" ry="1.7" opacity="0.52"/>
<ellipse cx="179.3" cy="1448.1" rx="2.4" ry="1.7" opacity="0.52"/>
<ellipse cx="208.6" cy="1448.1" rx="2.4" ry="1.7" opacity="0.52"/>
<ellipse cx="237.8" cy="1448.1" rx="2.4" ry="1.7" opacity="0.52"/>
<ellipse cx="267.0" cy="1448.1" rx="2.4" ry="1.7" opacity="0.52"/>
<ellipse cx="296.3" cy="1448.1" rx="2.4" ry="1.7" opacity="0.52"/>
<ellipse cx="325.5" cy="1448.1" rx="2.4" ry="1.7" opacity="0.52"/>
<ellipse cx="354.7" cy="1448.1" rx="2.4" ry="1.7" opacity="0.52"/>
<ellipse cx="384.0" cy="1448.1" rx="2.4" ry="1.7" opacity="0.52"/>
<ellipse cx="413.2" cy="1448.1" rx="2.4" ry="1.7" opacity="0.52"/>
<ellipse cx="442.4" cy="1448.1" rx="2.4" ry="1.7" opacity="0.52"/>
<ellipse cx="471.7" cy="1448.1" rx="2.4" ry="1.7" opacity="0.52"/>
<ellipse cx="500.9" cy="1448.1" rx="2.4" ry="1.7" opacity="0.52"/>
<ellipse cx="530.1" cy="1448.1" rx="2.4" ry="1.7" opacity="0.52"/>
<ellipse cx="559.3" cy="1448.1" rx="2.4" ry="1.7" opacity="0.52"/>
<ellipse cx="588.6" cy="1448.1" rx="2.4" ry="1.7" opacity="0.52"/>
<ellipse cx="617.8" cy="1448.1" rx="2.4" ry="1.7" opacity="0.52"/>
<ellipse cx="647.0" cy="1448.1" rx="2.4" ry="1.7" opacity="0.52"/>
<ellipse cx="676.3" cy="1448.1" rx="2.4" ry="1.7" opacity="0.52"/>
<ellipse cx="705.5" cy="1448.1" rx="2.4" ry="1.7" opacity="0.52"/>
<ellipse cx="734.7" cy="1448.1" rx="2.4" ry="1.7" opacity="0.52"/>
<ellipse cx="764.0" cy="1448.1" rx="2.4" ry="1.7" opacity="0.52"/>
<ellipse cx="793.2" cy="1448.1" rx="2.4" ry="1.7" opacity="0.52"/>
<ellipse cx="822.4" cy="1448.1" rx="2.4" ry="1.7" opacity="0.52"/>
<ellipse cx="851.7" cy="1448.1" rx="2.4" ry="1.7" opacity="0.52"/>
<ellipse cx="880.9" cy="1448.1" rx="2.4" ry="1.7" opacity="0.52"/>
<ellipse cx="910.1" cy="1448.1" rx="2.4" ry="1.7" opacity="0.52"/>
<ellipse cx="939.4" cy="1448.1" rx="2.4" ry="1.7" opacity="0.52"/>
<ellipse cx="968.6" cy="1448.1" rx="2.4" ry="1.7" opacity="0.52"/>
<ellipse cx="997.8" cy="1448.1" rx="2.4" ry="1.7" opacity="0.52"/>
<ellipse cx="1027.1" cy="1448.1" rx="2.4" ry="1.7" opacity="0.52"/>
<ellipse cx="1056.3" cy="1448.1" rx="2.4" ry="1.7" opacity="0.52"/>
<ellipse cx="1085.5" cy="1448.1" rx="2.4" ry="1.7" opacity="0.52"/>
<ellipse cx="1114.8" cy="1448.1" rx="2.4" ry="1.7" opacity="0.52"/>
<rect x="-10" y="1451.3" width="1130" height="1.6" fill="#ffffff" opacity="0.10"/>
</g>
<g stroke="#52677e" stroke-width="1.8" opacity="0.75"><line x1="410.5" y1="1274" x2="409.5" y2="1460"/><line x1="436" y1="1274" x2="438.5" y2="1460"/></g>
</g>
<path d="M -10 1483 L 1016 1483 L 1111 1643 Q 1117 1651 1114 1653 L -10 1653 Z" fill="url(#gHD)"/>
<g clip-path="url(#cHD2)">
<g fill="#2e5680" opacity="0.28"><circle cx="-1.4" cy="1498.4" r="1.3"/><circle cx="31.8" cy="1491.0" r="1.3"/><circle cx="20.7" cy="1498.4" r="1.3"/><circle cx="42.9" cy="1498.4" r="1.3"/><circle cx="76.0" cy="1491.0" r="1.3"/><circle cx="65.0" cy="1498.4" r="1.3"/><circle cx="87.1" cy="1498.4" r="1.3"/><circle cx="120.3" cy="1491.0" r="1.3"/><circle cx="109.2" cy="1498.4" r="1.3"/><circle cx="131.4" cy="1498.4" r="1.3"/><circle cx="164.5" cy="1491.0" r="1.3"/><circle cx="153.5" cy="1498.4" r="1.3"/><circle cx="175.6" cy="1498.4" r="1.3"/><circle cx="208.8" cy="1491.0" r="1.3"/><circle cx="197.7" cy="1498.4" r="1.3"/><circle cx="219.9" cy="1498.4" r="1.3"/><circle cx="253.1" cy="1491.0" r="1.3"/><circle cx="242.0" cy="1498.4" r="1.3"/><circle cx="264.1" cy="1498.4" r="1.3"/><circle cx="297.3" cy="1491.0" r="1.3"/><circle cx="286.2" cy="1498.4" r="1.3"/><circle cx="308.4" cy="1498.4" r="1.3"/><circle cx="341.6" cy="1491.0" r="1.3"/><circle cx="330.5" cy="1498.4" r="1.3"/><circle cx="352.6" cy="1498.4" r="1.3"/><circle cx="385.8" cy="1491.0" r="1.3"/><circle cx="374.7" cy="1498.4" r="1.3"/><circle cx="396.9" cy="1498.4" r="1.3"/><circle cx="430.1" cy="1491.0" r="1.3"/><circle cx="419.0" cy="1498.4" r="1.3"/><circle cx="441.1" cy="1498.4" r="1.3"/><circle cx="474.3" cy="1491.0" r="1.3"/><circle cx="463.2" cy="1498.4" r="1.3"/><circle cx="485.4" cy="1498.4" r="1.3"/><circle cx="518.6" cy="1491.0" r="1.3"/><circle cx="507.5" cy="1498.4" r="1.3"/><circle cx="529.6" cy="1498.4" r="1.3"/><circle cx="562.8" cy="1491.0" r="1.3"/><circle cx="551.7" cy="1498.4" r="1.3"/><circle cx="573.9" cy="1498.4" r="1.3"/><circle cx="607.1" cy="1491.0" r="1.3"/><circle cx="596.0" cy="1498.4" r="1.3"/><circle cx="618.1" cy="1498.4" r="1.3"/><circle cx="651.3" cy="1491.0" r="1.3"/><circle cx="640.3" cy="1498.4" r="1.3"/><circle cx="662.4" cy="1498.4" r="1.3"/><circle cx="695.6" cy="1491.0" r="1.3"/><circle cx="684.5" cy="1498.4" r="1.3"/><circle cx="706.6" cy="1498.4" r="1.3"/><circle cx="739.8" cy="1491.0" r="1.3"/><circle cx="728.8" cy="1498.4" r="1.3"/><circle cx="750.9" cy="1498.4" r="1.3"/><circle cx="784.1" cy="1491.0" r="1.3"/><circle cx="773.0" cy="1498.4" r="1.3"/><circle cx="795.1" cy="1498.4" r="1.3"/><circle cx="828.3" cy="1491.0" r="1.3"/><circle cx="817.3" cy="1498.4" r="1.3"/><circle cx="839.4" cy="1498.4" r="1.3"/><circle cx="872.6" cy="1491.0" r="1.3"/><circle cx="861.5" cy="1498.4" r="1.3"/><circle cx="883.6" cy="1498.4" r="1.3"/><circle cx="916.8" cy="1491.0" r="1.3"/><circle cx="905.8" cy="1498.4" r="1.3"/><circle cx="927.9" cy="1498.4" r="1.3"/><circle cx="961.1" cy="1491.0" r="1.3"/><circle cx="950.0" cy="1498.4" r="1.3"/><circle cx="972.1" cy="1498.4" r="1.3"/><circle cx="1005.3" cy="1491.0" r="1.3"/><circle cx="994.3" cy="1498.4" r="1.3"/><circle cx="1016.4" cy="1498.4" r="1.3"/><circle cx="1049.6" cy="1491.0" r="1.3"/><circle cx="1038.5" cy="1498.4" r="1.3"/><circle cx="1060.6" cy="1498.4" r="1.3"/><circle cx="1093.8" cy="1491.0" r="1.3"/><circle cx="1082.8" cy="1498.4" r="1.3"/><circle cx="1104.9" cy="1498.4" r="1.3"/><circle cx="1127.0" cy="1498.4" r="1.3"/><circle cx="3.9" cy="1505.8" r="1.3"/><circle cx="-7.2" cy="1513.2" r="1.3"/><circle cx="15.1" cy="1513.2" r="1.3"/><circle cx="48.6" cy="1505.8" r="1.3"/><circle cx="37.5" cy="1513.2" r="1.3"/><circle cx="59.8" cy="1513.2" r="1.3"/><circle cx="93.4" cy="1505.8" r="1.3"/><circle cx="82.2" cy="1513.2" r="1.3"/><circle cx="104.5" cy="1513.2" r="1.3"/><circle cx="138.1" cy="1505.8" r="1.3"/><circle cx="126.9" cy="1513.2" r="1.3"/><circle cx="149.3" cy="1513.2" r="1.3"/><circle cx="182.8" cy="1505.8" r="1.3"/><circle cx="171.6" cy="1513.2" r="1.3"/><circle cx="194.0" cy="1513.2" r="1.3"/><circle cx="227.5" cy="1505.8" r="1.3"/><circle cx="216.3" cy="1513.2" r="1.3"/><circle cx="238.7" cy="1513.2" r="1.3"/><circle cx="272.2" cy="1505.8" r="1.3"/><circle cx="261.1" cy="1513.2" r="1.3"/><circle cx="283.4" cy="1513.2" r="1.3"/><circle cx="316.9" cy="1505.8" r="1.3"/><circle cx="305.8" cy="1513.2" r="1.3"/><circle cx="328.1" cy="1513.2" r="1.3"/><circle cx="361.7" cy="1505.8" r="1.3"/><circle cx="350.5" cy="1513.2" r="1.3"/><circle cx="372.8" cy="1513.2" r="1.3"/><circle cx="406.4" cy="1505.8" r="1.3"/><circle cx="395.2" cy="1513.2" r="1.3"/><circle cx="417.6" cy="1513.2" r="1.3"/><circle cx="451.1" cy="1505.8" r="1.3"/><circle cx="439.9" cy="1513.2" r="1.3"/><circle cx="462.3" cy="1513.2" r="1.3"/><circle cx="495.8" cy="1505.8" r="1.3"/><circle cx="484.6" cy="1513.2" r="1.3"/><circle cx="507.0" cy="1513.2" r="1.3"/><circle cx="540.5" cy="1505.8" r="1.3"/><circle cx="529.4" cy="1513.2" r="1.3"/><circle cx="551.7" cy="1513.2" r="1.3"/><circle cx="585.2" cy="1505.8" r="1.3"/><circle cx="574.1" cy="1513.2" r="1.3"/><circle cx="596.4" cy="1513.2" r="1.3"/><circle cx="630.0" cy="1505.8" r="1.3"/><circle cx="618.8" cy="1513.2" r="1.3"/><circle cx="641.1" cy="1513.2" r="1.3"/><circle cx="674.7" cy="1505.8" r="1.3"/><circle cx="663.5" cy="1513.2" r="1.3"/><circle cx="685.9" cy="1513.2" r="1.3"/><circle cx="719.4" cy="1505.8" r="1.3"/><circle cx="708.2" cy="1513.2" r="1.3"/><circle cx="730.6" cy="1513.2" r="1.3"/><circle cx="764.1" cy="1505.8" r="1.3"/><circle cx="752.9" cy="1513.2" r="1.3"/><circle cx="775.3" cy="1513.2" r="1.3"/><circle cx="808.8" cy="1505.8" r="1.3"/><circle cx="797.7" cy="1513.2" r="1.3"/><circle cx="820.0" cy="1513.2" r="1.3"/><circle cx="853.5" cy="1505.8" r="1.3"/><circle cx="842.4" cy="1513.2" r="1.3"/><circle cx="864.7" cy="1513.2" r="1.3"/><circle cx="898.3" cy="1505.8" r="1.3"/><circle cx="887.1" cy="1513.2" r="1.3"/><circle cx="909.4" cy="1513.2" r="1.3"/><circle cx="943.0" cy="1505.8" r="1.3"/><circle cx="931.8" cy="1513.2" r="1.3"/><circle cx="954.2" cy="1513.2" r="1.3"/><circle cx="987.7" cy="1505.8" r="1.3"/><circle cx="976.5" cy="1513.2" r="1.3"/><circle cx="998.9" cy="1513.2" r="1.3"/><circle cx="1032.4" cy="1505.8" r="1.3"/><circle cx="1021.2" cy="1513.2" r="1.3"/><circle cx="1043.6" cy="1513.2" r="1.3"/><circle cx="1077.1" cy="1505.8" r="1.3"/><circle cx="1066.0" cy="1513.2" r="1.3"/><circle cx="1088.3" cy="1513.2" r="1.3"/><circle cx="1121.8" cy="1505.8" r="1.3"/><circle cx="1110.7" cy="1513.2" r="1.3"/><circle cx="23.6" cy="1520.6" r="1.3"/><circle cx="12.3" cy="1528.0" r="1.3"/><circle cx="34.9" cy="1528.0" r="1.3"/><circle cx="68.8" cy="1520.6" r="1.3"/><circle cx="57.5" cy="1528.0" r="1.3"/><circle cx="80.1" cy="1528.0" r="1.3"/><circle cx="114.0" cy="1520.6" r="1.3"/><circle cx="102.7" cy="1528.0" r="1.3"/><circle cx="125.3" cy="1528.0" r="1.3"/><circle cx="159.2" cy="1520.6" r="1.3"/><circle cx="147.9" cy="1528.0" r="1.3"/><circle cx="170.5" cy="1528.0" r="1.3"/><circle cx="204.4" cy="1520.6" r="1.3"/><circle cx="193.1" cy="1528.0" r="1.3"/><circle cx="215.7" cy="1528.0" r="1.3"/><circle cx="249.5" cy="1520.6" r="1.3"/><circle cx="238.2" cy="1528.0" r="1.3"/><circle cx="260.8" cy="1528.0" r="1.3"/><circle cx="294.7" cy="1520.6" r="1.3"/><circle cx="283.4" cy="1528.0" r="1.3"/><circle cx="306.0" cy="1528.0" r="1.3"/><circle cx="339.9" cy="1520.6" r="1.3"/><circle cx="328.6" cy="1528.0" r="1.3"/><circle cx="351.2" cy="1528.0" r="1.3"/><circle cx="385.1" cy="1520.6" r="1.3"/><circle cx="373.8" cy="1528.0" r="1.3"/><circle cx="396.4" cy="1528.0" r="1.3"/><circle cx="430.3" cy="1520.6" r="1.3"/><circle cx="419.0" cy="1528.0" r="1.3"/><circle cx="441.6" cy="1528.0" r="1.3"/><circle cx="475.5" cy="1520.6" r="1.3"/><circle cx="464.2" cy="1528.0" r="1.3"/><circle cx="486.7" cy="1528.0" r="1.3"/><circle cx="520.6" cy="1520.6" r="1.3"/><circle cx="509.3" cy="1528.0" r="1.3"/><circle cx="531.9" cy="1528.0" r="1.3"/><circle cx="565.8" cy="1520.6" r="1.3"/><circle cx="554.5" cy="1528.0" r="1.3"/><circle cx="577.1" cy="1528.0" r="1.3"/><circle cx="611.0" cy="1520.6" r="1.3"/><circle cx="599.7" cy="1528.0" r="1.3"/><circle cx="622.3" cy="1528.0" r="1.3"/><circle cx="656.2" cy="1520.6" r="1.3"/><circle cx="644.9" cy="1528.0" r="1.3"/><circle cx="667.5" cy="1528.0" r="1.3"/><circle cx="701.4" cy="1520.6" r="1.3"/><circle cx="690.1" cy="1528.0" r="1.3"/><circle cx="712.7" cy="1528.0" r="1.3"/><circle cx="746.5" cy="1520.6" r="1.3"/><circle cx="735.2" cy="1528.0" r="1.3"/><circle cx="757.8" cy="1528.0" r="1.3"/><circle cx="791.7" cy="1520.6" r="1.3"/><circle cx="780.4" cy="1528.0" r="1.3"/><circle cx="803.0" cy="1528.0" r="1.3"/><circle cx="836.9" cy="1520.6" r="1.3"/><circle cx="825.6" cy="1528.0" r="1.3"/><circle cx="848.2" cy="1528.0" r="1.3"/><circle cx="882.1" cy="1520.6" r="1.3"/><circle cx="870.8" cy="1528.0" r="1.3"/><circle cx="893.4" cy="1528.0" r="1.3"/><circle cx="927.3" cy="1520.6" r="1.3"/><circle cx="916.0" cy="1528.0" r="1.3"/><circle cx="938.6" cy="1528.0" r="1.3"/><circle cx="972.4" cy="1520.6" r="1.3"/><circle cx="961.2" cy="1528.0" r="1.3"/><circle cx="983.7" cy="1528.0" r="1.3"/><circle cx="1017.6" cy="1520.6" r="1.3"/><circle cx="1006.3" cy="1528.0" r="1.3"/><circle cx="1028.9" cy="1528.0" r="1.3"/><circle cx="1062.8" cy="1520.6" r="1.3"/><circle cx="1051.5" cy="1528.0" r="1.3"/><circle cx="1074.1" cy="1528.0" r="1.3"/><circle cx="1108.0" cy="1520.6" r="1.3"/><circle cx="1096.7" cy="1528.0" r="1.3"/><circle cx="1119.3" cy="1528.0" r="1.3"/><circle cx="-4.7" cy="1535.4" r="1.3"/><circle cx="6.7" cy="1542.8" r="1.3"/><circle cx="40.9" cy="1535.4" r="1.3"/><circle cx="29.5" cy="1542.8" r="1.3"/><circle cx="52.3" cy="1542.8" r="1.3"/><circle cx="86.6" cy="1535.4" r="1.3"/><circle cx="75.2" cy="1542.8" r="1.3"/><circle cx="98.0" cy="1542.8" r="1.3"/><circle cx="132.2" cy="1535.4" r="1.3"/><circle cx="120.8" cy="1542.8" r="1.3"/><circle cx="143.6" cy="1542.8" r="1.3"/><circle cx="177.9" cy="1535.4" r="1.3"/><circle cx="166.5" cy="1542.8" r="1.3"/><circle cx="189.3" cy="1542.8" r="1.3"/><circle cx="223.5" cy="1535.4" r="1.3"/><circle cx="212.1" cy="1542.8" r="1.3"/><circle cx="234.9" cy="1542.8" r="1.3"/><circle cx="269.2" cy="1535.4" r="1.3"/><circle cx="257.7" cy="1542.8" r="1.3"/><circle cx="280.6" cy="1542.8" r="1.3"/><circle cx="314.8" cy="1535.4" r="1.3"/><circle cx="303.4" cy="1542.8" r="1.3"/><circle cx="326.2" cy="1542.8" r="1.3"/><circle cx="360.5" cy="1535.4" r="1.3"/><circle cx="349.0" cy="1542.8" r="1.3"/><circle cx="371.9" cy="1542.8" r="1.3"/><circle cx="406.1" cy="1535.4" r="1.3"/><circle cx="394.7" cy="1542.8" r="1.3"/><circle cx="417.5" cy="1542.8" r="1.3"/><circle cx="451.7" cy="1535.4" r="1.3"/><circle cx="440.3" cy="1542.8" r="1.3"/><circle cx="463.2" cy="1542.8" r="1.3"/><circle cx="497.4" cy="1535.4" r="1.3"/><circle cx="486.0" cy="1542.8" r="1.3"/><circle cx="508.8" cy="1542.8" r="1.3"/><circle cx="543.0" cy="1535.4" r="1.3"/><circle cx="531.6" cy="1542.8" r="1.3"/><circle cx="554.5" cy="1542.8" r="1.3"/><circle cx="588.7" cy="1535.4" r="1.3"/><circle cx="577.3" cy="1542.8" r="1.3"/><circle cx="600.1" cy="1542.8" r="1.3"/><circle cx="634.3" cy="1535.4" r="1.3"/><circle cx="622.9" cy="1542.8" r="1.3"/><circle cx="645.7" cy="1542.8" r="1.3"/><circle cx="680.0" cy="1535.4" r="1.3"/><circle cx="668.6" cy="1542.8" r="1.3"/><circle cx="691.4" cy="1542.8" r="1.3"/><circle cx="725.6" cy="1535.4" r="1.3"/><circle cx="714.2" cy="1542.8" r="1.3"/><circle cx="737.0" cy="1542.8" r="1.3"/><circle cx="771.3" cy="1535.4" r="1.3"/><circle cx="759.9" cy="1542.8" r="1.3"/><circle cx="782.7" cy="1542.8" r="1.3"/><circle cx="816.9" cy="1535.4" r="1.3"/><circle cx="805.5" cy="1542.8" r="1.3"/><circle cx="828.3" cy="1542.8" r="1.3"/><circle cx="862.6" cy="1535.4" r="1.3"/><circle cx="851.2" cy="1542.8" r="1.3"/><circle cx="874.0" cy="1542.8" r="1.3"/><circle cx="908.2" cy="1535.4" r="1.3"/><circle cx="896.8" cy="1542.8" r="1.3"/><circle cx="919.6" cy="1542.8" r="1.3"/><circle cx="953.9" cy="1535.4" r="1.3"/><circle cx="942.4" cy="1542.8" r="1.3"/><circle cx="965.3" cy="1542.8" r="1.3"/><circle cx="999.5" cy="1535.4" r="1.3"/><circle cx="988.1" cy="1542.8" r="1.3"/><circle cx="1010.9" cy="1542.8" r="1.3"/><circle cx="1045.2" cy="1535.4" r="1.3"/><circle cx="1033.7" cy="1542.8" r="1.3"/><circle cx="1056.6" cy="1542.8" r="1.3"/><circle cx="1090.8" cy="1535.4" r="1.3"/><circle cx="1079.4" cy="1542.8" r="1.3"/><circle cx="1102.2" cy="1542.8" r="1.3"/><circle cx="1125.0" cy="1542.8" r="1.3"/><circle cx="15.5" cy="1550.2" r="1.3"/><circle cx="3.9" cy="1557.6" r="1.3"/><circle cx="27.0" cy="1557.6" r="1.3"/><circle cx="61.6" cy="1550.2" r="1.3"/><circle cx="50.1" cy="1557.6" r="1.3"/><circle cx="73.1" cy="1557.6" r="1.3"/><circle cx="107.7" cy="1550.2" r="1.3"/><circle cx="96.2" cy="1557.6" r="1.3"/><circle cx="119.2" cy="1557.6" r="1.3"/><circle cx="153.8" cy="1550.2" r="1.3"/><circle cx="142.3" cy="1557.6" r="1.3"/><circle cx="165.3" cy="1557.6" r="1.3"/><circle cx="199.9" cy="1550.2" r="1.3"/><circle cx="188.4" cy="1557.6" r="1.3"/><circle cx="211.4" cy="1557.6" r="1.3"/><circle cx="246.0" cy="1550.2" r="1.3"/><circle cx="234.5" cy="1557.6" r="1.3"/><circle cx="257.6" cy="1557.6" r="1.3"/><circle cx="292.1" cy="1550.2" r="1.3"/><circle cx="280.6" cy="1557.6" r="1.3"/><circle cx="303.7" cy="1557.6" r="1.3"/><circle cx="338.3" cy="1550.2" r="1.3"/><circle cx="326.7" cy="1557.6" r="1.3"/><circle cx="349.8" cy="1557.6" r="1.3"/><circle cx="384.4" cy="1550.2" r="1.3"/><circle cx="372.8" cy="1557.6" r="1.3"/><circle cx="395.9" cy="1557.6" r="1.3"/><circle cx="430.5" cy="1550.2" r="1.3"/><circle cx="419.0" cy="1557.6" r="1.3"/><circle cx="442.0" cy="1557.6" r="1.3"/><circle cx="476.6" cy="1550.2" r="1.3"/><circle cx="465.1" cy="1557.6" r="1.3"/><circle cx="488.1" cy="1557.6" r="1.3"/><circle cx="522.7" cy="1550.2" r="1.3"/><circle cx="511.2" cy="1557.6" r="1.3"/><circle cx="534.2" cy="1557.6" r="1.3"/><circle cx="568.8" cy="1550.2" r="1.3"/><circle cx="557.3" cy="1557.6" r="1.3"/><circle cx="580.3" cy="1557.6" r="1.3"/><circle cx="614.9" cy="1550.2" r="1.3"/><circle cx="603.4" cy="1557.6" r="1.3"/><circle cx="626.5" cy="1557.6" r="1.3"/><circle cx="661.0" cy="1550.2" r="1.3"/><circle cx="649.5" cy="1557.6" r="1.3"/><circle cx="672.6" cy="1557.6" r="1.3"/><circle cx="707.2" cy="1550.2" r="1.3"/><circle cx="695.6" cy="1557.6" r="1.3"/><circle cx="718.7" cy="1557.6" r="1.3"/><circle cx="753.3" cy="1550.2" r="1.3"/><circle cx="741.7" cy="1557.6" r="1.3"/><circle cx="764.8" cy="1557.6" r="1.3"/><circle cx="799.4" cy="1550.2" r="1.3"/><circle cx="787.8" cy="1557.6" r="1.3"/><circle cx="810.9" cy="1557.6" r="1.3"/><circle cx="845.5" cy="1550.2" r="1.3"/><circle cx="834.0" cy="1557.6" r="1.3"/><circle cx="857.0" cy="1557.6" r="1.3"/><circle cx="891.6" cy="1550.2" r="1.3"/><circle cx="880.1" cy="1557.6" r="1.3"/><circle cx="903.1" cy="1557.6" r="1.3"/><circle cx="937.7" cy="1550.2" r="1.3"/><circle cx="926.2" cy="1557.6" r="1.3"/><circle cx="949.2" cy="1557.6" r="1.3"/><circle cx="983.8" cy="1550.2" r="1.3"/><circle cx="972.3" cy="1557.6" r="1.3"/><circle cx="995.4" cy="1557.6" r="1.3"/><circle cx="1029.9" cy="1550.2" r="1.3"/><circle cx="1018.4" cy="1557.6" r="1.3"/><circle cx="1041.5" cy="1557.6" r="1.3"/><circle cx="1076.0" cy="1550.2" r="1.3"/><circle cx="1064.5" cy="1557.6" r="1.3"/><circle cx="1087.6" cy="1557.6" r="1.3"/><circle cx="1122.2" cy="1550.2" r="1.3"/><circle cx="1110.6" cy="1557.6" r="1.3"/><circle cx="-1.7" cy="1572.4" r="1.3"/><circle cx="33.2" cy="1565.0" r="1.3"/><circle cx="21.6" cy="1572.4" r="1.3"/><circle cx="44.8" cy="1572.4" r="1.3"/><circle cx="79.8" cy="1565.0" r="1.3"/><circle cx="68.1" cy="1572.4" r="1.3"/><circle cx="91.4" cy="1572.4" r="1.3"/><circle cx="126.4" cy="1565.0" r="1.3"/><circle cx="114.7" cy="1572.4" r="1.3"/><circle cx="138.0" cy="1572.4" r="1.3"/><circle cx="172.9" cy="1565.0" r="1.3"/><circle cx="161.3" cy="1572.4" r="1.3"/><circle cx="184.6" cy="1572.4" r="1.3"/><circle cx="219.5" cy="1565.0" r="1.3"/><circle cx="207.9" cy="1572.4" r="1.3"/><circle cx="231.2" cy="1572.4" r="1.3"/><circle cx="266.1" cy="1565.0" r="1.3"/><circle cx="254.4" cy="1572.4" r="1.3"/><circle cx="277.7" cy="1572.4" r="1.3"/><circle cx="312.7" cy="1565.0" r="1.3"/><circle cx="301.0" cy="1572.4" r="1.3"/><circle cx="324.3" cy="1572.4" r="1.3"/><circle cx="359.2" cy="1565.0" r="1.3"/><circle cx="347.6" cy="1572.4" r="1.3"/><circle cx="370.9" cy="1572.4" r="1.3"/><circle cx="405.8" cy="1565.0" r="1.3"/><circle cx="394.2" cy="1572.4" r="1.3"/><circle cx="417.5" cy="1572.4" r="1.3"/><circle cx="452.4" cy="1565.0" r="1.3"/><circle cx="440.7" cy="1572.4" r="1.3"/><circle cx="464.0" cy="1572.4" r="1.3"/><circle cx="499.0" cy="1565.0" r="1.3"/><circle cx="487.3" cy="1572.4" r="1.3"/><circle cx="510.6" cy="1572.4" r="1.3"/><circle cx="545.5" cy="1565.0" r="1.3"/><circle cx="533.9" cy="1572.4" r="1.3"/><circle cx="557.2" cy="1572.4" r="1.3"/><circle cx="592.1" cy="1565.0" r="1.3"/><circle cx="580.5" cy="1572.4" r="1.3"/><circle cx="603.8" cy="1572.4" r="1.3"/><circle cx="638.7" cy="1565.0" r="1.3"/><circle cx="627.1" cy="1572.4" r="1.3"/><circle cx="650.3" cy="1572.4" r="1.3"/><circle cx="685.3" cy="1565.0" r="1.3"/><circle cx="673.6" cy="1572.4" r="1.3"/><circle cx="696.9" cy="1572.4" r="1.3"/><circle cx="731.9" cy="1565.0" r="1.3"/><circle cx="720.2" cy="1572.4" r="1.3"/><circle cx="743.5" cy="1572.4" r="1.3"/><circle cx="778.4" cy="1565.0" r="1.3"/><circle cx="766.8" cy="1572.4" r="1.3"/><circle cx="790.1" cy="1572.4" r="1.3"/><circle cx="825.0" cy="1565.0" r="1.3"/><circle cx="813.4" cy="1572.4" r="1.3"/><circle cx="836.7" cy="1572.4" r="1.3"/><circle cx="871.6" cy="1565.0" r="1.3"/><circle cx="859.9" cy="1572.4" r="1.3"/><circle cx="883.2" cy="1572.4" r="1.3"/><circle cx="918.2" cy="1565.0" r="1.3"/><circle cx="906.5" cy="1572.4" r="1.3"/><circle cx="929.8" cy="1572.4" r="1.3"/><circle cx="964.7" cy="1565.0" r="1.3"/><circle cx="953.1" cy="1572.4" r="1.3"/><circle cx="976.4" cy="1572.4" r="1.3"/><circle cx="1011.3" cy="1565.0" r="1.3"/><circle cx="999.7" cy="1572.4" r="1.3"/><circle cx="1023.0" cy="1572.4" r="1.3"/><circle cx="1057.9" cy="1565.0" r="1.3"/><circle cx="1046.3" cy="1572.4" r="1.3"/><circle cx="1069.5" cy="1572.4" r="1.3"/><circle cx="1104.5" cy="1565.0" r="1.3"/><circle cx="1092.8" cy="1572.4" r="1.3"/><circle cx="1116.1" cy="1572.4" r="1.3"/><circle cx="7.3" cy="1579.8" r="1.3"/><circle cx="-4.4" cy="1587.2" r="1.3"/><circle cx="19.1" cy="1587.2" r="1.3"/><circle cx="54.4" cy="1579.8" r="1.3"/><circle cx="42.6" cy="1587.2" r="1.3"/><circle cx="66.1" cy="1587.2" r="1.3"/><circle cx="101.4" cy="1579.8" r="1.3"/><circle cx="89.6" cy="1587.2" r="1.3"/><circle cx="113.2" cy="1587.2" r="1.3"/><circle cx="148.4" cy="1579.8" r="1.3"/><circle cx="136.7" cy="1587.2" r="1.3"/><circle cx="160.2" cy="1587.2" r="1.3"/><circle cx="195.5" cy="1579.8" r="1.3"/><circle cx="183.7" cy="1587.2" r="1.3"/><circle cx="207.2" cy="1587.2" r="1.3"/><circle cx="242.5" cy="1579.8" r="1.3"/><circle cx="230.8" cy="1587.2" r="1.3"/><circle cx="254.3" cy="1587.2" r="1.3"/><circle cx="289.6" cy="1579.8" r="1.3"/><circle cx="277.8" cy="1587.2" r="1.3"/><circle cx="301.3" cy="1587.2" r="1.3"/><circle cx="336.6" cy="1579.8" r="1.3"/><circle cx="324.8" cy="1587.2" r="1.3"/><circle cx="348.4" cy="1587.2" r="1.3"/><circle cx="383.6" cy="1579.8" r="1.3"/><circle cx="371.9" cy="1587.2" r="1.3"/><circle cx="395.4" cy="1587.2" r="1.3"/><circle cx="430.7" cy="1579.8" r="1.3"/><circle cx="418.9" cy="1587.2" r="1.3"/><circle cx="442.5" cy="1587.2" r="1.3"/><circle cx="477.7" cy="1579.8" r="1.3"/><circle cx="466.0" cy="1587.2" r="1.3"/><circle cx="489.5" cy="1587.2" r="1.3"/><circle cx="524.8" cy="1579.8" r="1.3"/><circle cx="513.0" cy="1587.2" r="1.3"/><circle cx="536.5" cy="1587.2" r="1.3"/><circle cx="571.8" cy="1579.8" r="1.3"/><circle cx="560.1" cy="1587.2" r="1.3"/><circle cx="583.6" cy="1587.2" r="1.3"/><circle cx="618.9" cy="1579.8" r="1.3"/><circle cx="607.1" cy="1587.2" r="1.3"/><circle cx="630.6" cy="1587.2" r="1.3"/><circle cx="665.9" cy="1579.8" r="1.3"/><circle cx="654.1" cy="1587.2" r="1.3"/><circle cx="677.7" cy="1587.2" r="1.3"/><circle cx="712.9" cy="1579.8" r="1.3"/><circle cx="701.2" cy="1587.2" r="1.3"/><circle cx="724.7" cy="1587.2" r="1.3"/><circle cx="760.0" cy="1579.8" r="1.3"/><circle cx="748.2" cy="1587.2" r="1.3"/><circle cx="771.7" cy="1587.2" r="1.3"/><circle cx="807.0" cy="1579.8" r="1.3"/><circle cx="795.3" cy="1587.2" r="1.3"/><circle cx="818.8" cy="1587.2" r="1.3"/><circle cx="854.1" cy="1579.8" r="1.3"/><circle cx="842.3" cy="1587.2" r="1.3"/><circle cx="865.8" cy="1587.2" r="1.3"/><circle cx="901.1" cy="1579.8" r="1.3"/><circle cx="889.4" cy="1587.2" r="1.3"/><circle cx="912.9" cy="1587.2" r="1.3"/><circle cx="948.2" cy="1579.8" r="1.3"/><circle cx="936.4" cy="1587.2" r="1.3"/><circle cx="959.9" cy="1587.2" r="1.3"/><circle cx="995.2" cy="1579.8" r="1.3"/><circle cx="983.4" cy="1587.2" r="1.3"/><circle cx="1007.0" cy="1587.2" r="1.3"/><circle cx="1042.2" cy="1579.8" r="1.3"/><circle cx="1030.5" cy="1587.2" r="1.3"/><circle cx="1054.0" cy="1587.2" r="1.3"/><circle cx="1089.3" cy="1579.8" r="1.3"/><circle cx="1077.5" cy="1587.2" r="1.3"/><circle cx="1101.0" cy="1587.2" r="1.3"/><circle cx="1124.6" cy="1587.2" r="1.3"/><circle cx="25.5" cy="1594.6" r="1.3"/><circle cx="13.6" cy="1602.0" r="1.3"/><circle cx="37.3" cy="1602.0" r="1.3"/><circle cx="73.0" cy="1594.6" r="1.3"/><circle cx="61.1" cy="1602.0" r="1.3"/><circle cx="84.9" cy="1602.0" r="1.3"/><circle cx="120.5" cy="1594.6" r="1.3"/><circle cx="108.6" cy="1602.0" r="1.3"/><circle cx="132.4" cy="1602.0" r="1.3"/><circle cx="168.0" cy="1594.6" r="1.3"/><circle cx="156.1" cy="1602.0" r="1.3"/><circle cx="179.9" cy="1602.0" r="1.3"/><circle cx="215.5" cy="1594.6" r="1.3"/><circle cx="203.6" cy="1602.0" r="1.3"/><circle cx="227.4" cy="1602.0" r="1.3"/><circle cx="263.0" cy="1594.6" r="1.3"/><circle cx="251.1" cy="1602.0" r="1.3"/><circle cx="274.9" cy="1602.0" r="1.3"/><circle cx="310.5" cy="1594.6" r="1.3"/><circle cx="298.6" cy="1602.0" r="1.3"/><circle cx="322.4" cy="1602.0" r="1.3"/><circle cx="358.0" cy="1594.6" r="1.3"/><circle cx="346.1" cy="1602.0" r="1.3"/><circle cx="369.9" cy="1602.0" r="1.3"/><circle cx="405.5" cy="1594.6" r="1.3"/><circle cx="393.7" cy="1602.0" r="1.3"/><circle cx="417.4" cy="1602.0" r="1.3"/><circle cx="453.0" cy="1594.6" r="1.3"/><circle cx="441.2" cy="1602.0" r="1.3"/><circle cx="464.9" cy="1602.0" r="1.3"/><circle cx="500.5" cy="1594.6" r="1.3"/><circle cx="488.7" cy="1602.0" r="1.3"/><circle cx="512.4" cy="1602.0" r="1.3"/><circle cx="548.1" cy="1594.6" r="1.3"/><circle cx="536.2" cy="1602.0" r="1.3"/><circle cx="559.9" cy="1602.0" r="1.3"/><circle cx="595.6" cy="1594.6" r="1.3"/><circle cx="583.7" cy="1602.0" r="1.3"/><circle cx="607.4" cy="1602.0" r="1.3"/><circle cx="643.1" cy="1594.6" r="1.3"/><circle cx="631.2" cy="1602.0" r="1.3"/><circle cx="654.9" cy="1602.0" r="1.3"/><circle cx="690.6" cy="1594.6" r="1.3"/><circle cx="678.7" cy="1602.0" r="1.3"/><circle cx="702.5" cy="1602.0" r="1.3"/><circle cx="738.1" cy="1594.6" r="1.3"/><circle cx="726.2" cy="1602.0" r="1.3"/><circle cx="750.0" cy="1602.0" r="1.3"/><circle cx="785.6" cy="1594.6" r="1.3"/><circle cx="773.7" cy="1602.0" r="1.3"/><circle cx="797.5" cy="1602.0" r="1.3"/><circle cx="833.1" cy="1594.6" r="1.3"/><circle cx="821.2" cy="1602.0" r="1.3"/><circle cx="845.0" cy="1602.0" r="1.3"/><circle cx="880.6" cy="1594.6" r="1.3"/><circle cx="868.7" cy="1602.0" r="1.3"/><circle cx="892.5" cy="1602.0" r="1.3"/><circle cx="928.1" cy="1594.6" r="1.3"/><circle cx="916.2" cy="1602.0" r="1.3"/><circle cx="940.0" cy="1602.0" r="1.3"/><circle cx="975.6" cy="1594.6" r="1.3"/><circle cx="963.7" cy="1602.0" r="1.3"/><circle cx="987.5" cy="1602.0" r="1.3"/><circle cx="1023.1" cy="1594.6" r="1.3"/><circle cx="1011.3" cy="1602.0" r="1.3"/><circle cx="1035.0" cy="1602.0" r="1.3"/><circle cx="1070.6" cy="1594.6" r="1.3"/><circle cx="1058.8" cy="1602.0" r="1.3"/><circle cx="1082.5" cy="1602.0" r="1.3"/><circle cx="1118.1" cy="1594.6" r="1.3"/><circle cx="1106.3" cy="1602.0" r="1.3"/><circle cx="-0.9" cy="1609.4" r="1.3"/><circle cx="11.1" cy="1616.8" r="1.3"/><circle cx="47.1" cy="1609.4" r="1.3"/><circle cx="35.1" cy="1616.8" r="1.3"/><circle cx="59.1" cy="1616.8" r="1.3"/><circle cx="95.1" cy="1609.4" r="1.3"/><circle cx="83.1" cy="1616.8" r="1.3"/><circle cx="107.1" cy="1616.8" r="1.3"/><circle cx="143.1" cy="1609.4" r="1.3"/><circle cx="131.1" cy="1616.8" r="1.3"/><circle cx="155.1" cy="1616.8" r="1.3"/><circle cx="191.0" cy="1609.4" r="1.3"/><circle cx="179.0" cy="1616.8" r="1.3"/><circle cx="203.0" cy="1616.8" r="1.3"/><circle cx="239.0" cy="1609.4" r="1.3"/><circle cx="227.0" cy="1616.8" r="1.3"/><circle cx="251.0" cy="1616.8" r="1.3"/><circle cx="287.0" cy="1609.4" r="1.3"/><circle cx="275.0" cy="1616.8" r="1.3"/><circle cx="299.0" cy="1616.8" r="1.3"/><circle cx="335.0" cy="1609.4" r="1.3"/><circle cx="323.0" cy="1616.8" r="1.3"/><circle cx="347.0" cy="1616.8" r="1.3"/><circle cx="382.9" cy="1609.4" r="1.3"/><circle cx="370.9" cy="1616.8" r="1.3"/><circle cx="394.9" cy="1616.8" r="1.3"/><circle cx="430.9" cy="1609.4" r="1.3"/><circle cx="418.9" cy="1616.8" r="1.3"/><circle cx="442.9" cy="1616.8" r="1.3"/><circle cx="478.9" cy="1609.4" r="1.3"/><circle cx="466.9" cy="1616.8" r="1.3"/><circle cx="490.9" cy="1616.8" r="1.3"/><circle cx="526.8" cy="1609.4" r="1.3"/><circle cx="514.9" cy="1616.8" r="1.3"/><circle cx="538.8" cy="1616.8" r="1.3"/><circle cx="574.8" cy="1609.4" r="1.3"/><circle cx="562.8" cy="1616.8" r="1.3"/><circle cx="586.8" cy="1616.8" r="1.3"/><circle cx="622.8" cy="1609.4" r="1.3"/><circle cx="610.8" cy="1616.8" r="1.3"/><circle cx="634.8" cy="1616.8" r="1.3"/><circle cx="670.8" cy="1609.4" r="1.3"/><circle cx="658.8" cy="1616.8" r="1.3"/><circle cx="682.8" cy="1616.8" r="1.3"/><circle cx="718.7" cy="1609.4" r="1.3"/><circle cx="706.7" cy="1616.8" r="1.3"/><circle cx="730.7" cy="1616.8" r="1.3"/><circle cx="766.7" cy="1609.4" r="1.3"/><circle cx="754.7" cy="1616.8" r="1.3"/><circle cx="778.7" cy="1616.8" r="1.3"/><circle cx="814.7" cy="1609.4" r="1.3"/><circle cx="802.7" cy="1616.8" r="1.3"/><circle cx="826.7" cy="1616.8" r="1.3"/><circle cx="862.7" cy="1609.4" r="1.3"/><circle cx="850.7" cy="1616.8" r="1.3"/><circle cx="874.6" cy="1616.8" r="1.3"/><circle cx="910.6" cy="1609.4" r="1.3"/><circle cx="898.6" cy="1616.8" r="1.3"/><circle cx="922.6" cy="1616.8" r="1.3"/><circle cx="958.6" cy="1609.4" r="1.3"/><circle cx="946.6" cy="1616.8" r="1.3"/><circle cx="970.6" cy="1616.8" r="1.3"/><circle cx="1006.6" cy="1609.4" r="1.3"/><circle cx="994.6" cy="1616.8" r="1.3"/><circle cx="1018.6" cy="1616.8" r="1.3"/><circle cx="1054.5" cy="1609.4" r="1.3"/><circle cx="1042.6" cy="1616.8" r="1.3"/><circle cx="1066.5" cy="1616.8" r="1.3"/><circle cx="1102.5" cy="1609.4" r="1.3"/><circle cx="1090.5" cy="1616.8" r="1.3"/><circle cx="1114.5" cy="1616.8" r="1.3"/><circle cx="17.7" cy="1624.2" r="1.3"/><circle cx="5.6" cy="1631.6" r="1.3"/><circle cx="29.9" cy="1631.6" r="1.3"/><circle cx="66.2" cy="1624.2" r="1.3"/><circle cx="54.1" cy="1631.6" r="1.3"/><circle cx="78.3" cy="1631.6" r="1.3"/><circle cx="114.6" cy="1624.2" r="1.3"/><circle cx="102.5" cy="1631.6" r="1.3"/><circle cx="126.7" cy="1631.6" r="1.3"/><circle cx="163.1" cy="1624.2" r="1.3"/><circle cx="151.0" cy="1631.6" r="1.3"/><circle cx="175.2" cy="1631.6" r="1.3"/><circle cx="211.5" cy="1624.2" r="1.3"/><circle cx="199.4" cy="1631.6" r="1.3"/><circle cx="223.6" cy="1631.6" r="1.3"/><circle cx="259.9" cy="1624.2" r="1.3"/><circle cx="247.8" cy="1631.6" r="1.3"/><circle cx="272.0" cy="1631.6" r="1.3"/><circle cx="308.4" cy="1624.2" r="1.3"/><circle cx="296.3" cy="1631.6" r="1.3"/><circle cx="320.5" cy="1631.6" r="1.3"/><circle cx="356.8" cy="1624.2" r="1.3"/><circle cx="344.7" cy="1631.6" r="1.3"/><circle cx="368.9" cy="1631.6" r="1.3"/><circle cx="405.2" cy="1624.2" r="1.3"/><circle cx="393.1" cy="1631.6" r="1.3"/><circle cx="417.4" cy="1631.6" r="1.3"/><circle cx="453.7" cy="1624.2" r="1.3"/><circle cx="441.6" cy="1631.6" r="1.3"/><circle cx="465.8" cy="1631.6" r="1.3"/><circle cx="502.1" cy="1624.2" r="1.3"/><circle cx="490.0" cy="1631.6" r="1.3"/><circle cx="514.2" cy="1631.6" r="1.3"/><circle cx="550.6" cy="1624.2" r="1.3"/><circle cx="538.5" cy="1631.6" r="1.3"/><circle cx="562.7" cy="1631.6" r="1.3"/><circle cx="599.0" cy="1624.2" r="1.3"/><circle cx="586.9" cy="1631.6" r="1.3"/><circle cx="611.1" cy="1631.6" r="1.3"/><circle cx="647.4" cy="1624.2" r="1.3"/><circle cx="635.3" cy="1631.6" r="1.3"/><circle cx="659.5" cy="1631.6" r="1.3"/><circle cx="695.9" cy="1624.2" r="1.3"/><circle cx="683.8" cy="1631.6" r="1.3"/><circle cx="708.0" cy="1631.6" r="1.3"/><circle cx="744.3" cy="1624.2" r="1.3"/><circle cx="732.2" cy="1631.6" r="1.3"/><circle cx="756.4" cy="1631.6" r="1.3"/><circle cx="792.8" cy="1624.2" r="1.3"/><circle cx="780.6" cy="1631.6" r="1.3"/><circle cx="804.9" cy="1631.6" r="1.3"/><circle cx="841.2" cy="1624.2" r="1.3"/><circle cx="829.1" cy="1631.6" r="1.3"/><circle cx="853.3" cy="1631.6" r="1.3"/><circle cx="889.6" cy="1624.2" r="1.3"/><circle cx="877.5" cy="1631.6" r="1.3"/><circle cx="901.7" cy="1631.6" r="1.3"/><circle cx="938.1" cy="1624.2" r="1.3"/><circle cx="926.0" cy="1631.6" r="1.3"/><circle cx="950.2" cy="1631.6" r="1.3"/><circle cx="986.5" cy="1624.2" r="1.3"/><circle cx="974.4" cy="1631.6" r="1.3"/><circle cx="998.6" cy="1631.6" r="1.3"/><circle cx="1034.9" cy="1624.2" r="1.3"/><circle cx="1022.8" cy="1631.6" r="1.3"/><circle cx="1047.0" cy="1631.6" r="1.3"/><circle cx="1083.4" cy="1624.2" r="1.3"/><circle cx="1071.3" cy="1631.6" r="1.3"/><circle cx="1095.5" cy="1631.6" r="1.3"/><circle cx="1119.7" cy="1631.6" r="1.3"/><circle cx="-9.0" cy="1639.0" r="1.3"/><circle cx="3.2" cy="1646.4" r="1.3"/><circle cx="39.9" cy="1639.0" r="1.3"/><circle cx="27.7" cy="1646.4" r="1.3"/><circle cx="52.1" cy="1646.4" r="1.3"/><circle cx="88.8" cy="1639.0" r="1.3"/><circle cx="76.6" cy="1646.4" r="1.3"/><circle cx="101.0" cy="1646.4" r="1.3"/><circle cx="137.7" cy="1639.0" r="1.3"/><circle cx="125.5" cy="1646.4" r="1.3"/><circle cx="149.9" cy="1646.4" r="1.3"/><circle cx="186.6" cy="1639.0" r="1.3"/><circle cx="174.4" cy="1646.4" r="1.3"/><circle cx="198.8" cy="1646.4" r="1.3"/><circle cx="235.5" cy="1639.0" r="1.3"/><circle cx="223.3" cy="1646.4" r="1.3"/><circle cx="247.7" cy="1646.4" r="1.3"/><circle cx="284.4" cy="1639.0" r="1.3"/><circle cx="272.2" cy="1646.4" r="1.3"/><circle cx="296.6" cy="1646.4" r="1.3"/><circle cx="333.3" cy="1639.0" r="1.3"/><circle cx="321.1" cy="1646.4" r="1.3"/><circle cx="345.5" cy="1646.4" r="1.3"/><circle cx="382.2" cy="1639.0" r="1.3"/><circle cx="370.0" cy="1646.4" r="1.3"/><circle cx="394.4" cy="1646.4" r="1.3"/><circle cx="431.1" cy="1639.0" r="1.3"/><circle cx="418.9" cy="1646.4" r="1.3"/><circle cx="443.3" cy="1646.4" r="1.3"/><circle cx="480.0" cy="1639.0" r="1.3"/><circle cx="467.8" cy="1646.4" r="1.3"/><circle cx="492.2" cy="1646.4" r="1.3"/><circle cx="528.9" cy="1639.0" r="1.3"/><circle cx="516.7" cy="1646.4" r="1.3"/><circle cx="541.1" cy="1646.4" r="1.3"/><circle cx="577.8" cy="1639.0" r="1.3"/><circle cx="565.6" cy="1646.4" r="1.3"/><circle cx="590.0" cy="1646.4" r="1.3"/><circle cx="626.7" cy="1639.0" r="1.3"/><circle cx="614.5" cy="1646.4" r="1.3"/><circle cx="639.0" cy="1646.4" r="1.3"/><circle cx="675.6" cy="1639.0" r="1.3"/><circle cx="663.4" cy="1646.4" r="1.3"/><circle cx="687.9" cy="1646.4" r="1.3"/><circle cx="724.5" cy="1639.0" r="1.3"/><circle cx="712.3" cy="1646.4" r="1.3"/><circle cx="736.8" cy="1646.4" r="1.3"/><circle cx="773.4" cy="1639.0" r="1.3"/><circle cx="761.2" cy="1646.4" r="1.3"/><circle cx="785.7" cy="1646.4" r="1.3"/><circle cx="822.3" cy="1639.0" r="1.3"/><circle cx="810.1" cy="1646.4" r="1.3"/><circle cx="834.6" cy="1646.4" r="1.3"/><circle cx="871.2" cy="1639.0" r="1.3"/><circle cx="859.0" cy="1646.4" r="1.3"/><circle cx="883.5" cy="1646.4" r="1.3"/><circle cx="920.1" cy="1639.0" r="1.3"/><circle cx="907.9" cy="1646.4" r="1.3"/><circle cx="932.4" cy="1646.4" r="1.3"/><circle cx="969.0" cy="1639.0" r="1.3"/><circle cx="956.8" cy="1646.4" r="1.3"/><circle cx="981.3" cy="1646.4" r="1.3"/><circle cx="1017.9" cy="1639.0" r="1.3"/><circle cx="1005.7" cy="1646.4" r="1.3"/><circle cx="1030.2" cy="1646.4" r="1.3"/><circle cx="1066.9" cy="1639.0" r="1.3"/><circle cx="1054.6" cy="1646.4" r="1.3"/><circle cx="1079.1" cy="1646.4" r="1.3"/><circle cx="1115.8" cy="1639.0" r="1.3"/><circle cx="1103.5" cy="1646.4" r="1.3"/><circle cx="1128.0" cy="1646.4" r="1.3"/><circle cx="10.0" cy="1653.8" r="1.3"/><circle cx="-2.3" cy="1661.2" r="1.3"/><circle cx="22.4" cy="1661.2" r="1.3"/><circle cx="59.4" cy="1653.8" r="1.3"/><circle cx="47.0" cy="1661.2" r="1.3"/><circle cx="71.7" cy="1661.2" r="1.3"/><circle cx="108.8" cy="1653.8" r="1.3"/><circle cx="96.4" cy="1661.2" r="1.3"/><circle cx="121.1" cy="1661.2" r="1.3"/><circle cx="158.1" cy="1653.8" r="1.3"/><circle cx="145.8" cy="1661.2" r="1.3"/><circle cx="170.5" cy="1661.2" r="1.3"/><circle cx="207.5" cy="1653.8" r="1.3"/><circle cx="195.2" cy="1661.2" r="1.3"/><circle cx="219.8" cy="1661.2" r="1.3"/><circle cx="256.9" cy="1653.8" r="1.3"/><circle cx="244.5" cy="1661.2" r="1.3"/><circle cx="269.2" cy="1661.2" r="1.3"/><circle cx="306.2" cy="1653.8" r="1.3"/><circle cx="293.9" cy="1661.2" r="1.3"/><circle cx="318.6" cy="1661.2" r="1.3"/><circle cx="355.6" cy="1653.8" r="1.3"/><circle cx="343.3" cy="1661.2" r="1.3"/><circle cx="367.9" cy="1661.2" r="1.3"/><circle cx="405.0" cy="1653.8" r="1.3"/><circle cx="392.6" cy="1661.2" r="1.3"/><circle cx="417.3" cy="1661.2" r="1.3"/><circle cx="454.3" cy="1653.8" r="1.3"/><circle cx="442.0" cy="1661.2" r="1.3"/><circle cx="466.7" cy="1661.2" r="1.3"/><circle cx="503.7" cy="1653.8" r="1.3"/><circle cx="491.4" cy="1661.2" r="1.3"/><circle cx="516.0" cy="1661.2" r="1.3"/><circle cx="553.1" cy="1653.8" r="1.3"/><circle cx="540.7" cy="1661.2" r="1.3"/><circle cx="565.4" cy="1661.2" r="1.3"/><circle cx="602.4" cy="1653.8" r="1.3"/><circle cx="590.1" cy="1661.2" r="1.3"/><circle cx="614.8" cy="1661.2" r="1.3"/><circle cx="651.8" cy="1653.8" r="1.3"/><circle cx="639.5" cy="1661.2" r="1.3"/><circle cx="664.1" cy="1661.2" r="1.3"/><circle cx="701.2" cy="1653.8" r="1.3"/><circle cx="688.8" cy="1661.2" r="1.3"/><circle cx="713.5" cy="1661.2" r="1.3"/><circle cx="750.5" cy="1653.8" r="1.3"/><circle cx="738.2" cy="1661.2" r="1.3"/><circle cx="762.9" cy="1661.2" r="1.3"/><circle cx="799.9" cy="1653.8" r="1.3"/><circle cx="787.6" cy="1661.2" r="1.3"/><circle cx="812.3" cy="1661.2" r="1.3"/><circle cx="849.3" cy="1653.8" r="1.3"/><circle cx="836.9" cy="1661.2" r="1.3"/><circle cx="861.6" cy="1661.2" r="1.3"/><circle cx="898.6" cy="1653.8" r="1.3"/><circle cx="886.3" cy="1661.2" r="1.3"/><circle cx="911.0" cy="1661.2" r="1.3"/><circle cx="948.0" cy="1653.8" r="1.3"/><circle cx="935.7" cy="1661.2" r="1.3"/><circle cx="960.4" cy="1661.2" r="1.3"/><circle cx="997.4" cy="1653.8" r="1.3"/><circle cx="985.0" cy="1661.2" r="1.3"/><circle cx="1009.7" cy="1661.2" r="1.3"/><circle cx="1046.7" cy="1653.8" r="1.3"/><circle cx="1034.4" cy="1661.2" r="1.3"/><circle cx="1059.1" cy="1661.2" r="1.3"/><circle cx="1096.1" cy="1653.8" r="1.3"/><circle cx="1083.8" cy="1661.2" r="1.3"/><circle cx="1108.5" cy="1661.2" r="1.3"/></g>
<rect x="-10" y="1483" width="1130" height="172" fill="url(#pHatch)" opacity="0.12"/>
<g fill="#2e5680" opacity="0.5"><ellipse cx="9.7" cy="1491.0" rx="2.3" ry="1.7"/><ellipse cx="53.9" cy="1491.0" rx="2.3" ry="1.7"/><ellipse cx="98.2" cy="1491.0" rx="2.3" ry="1.7"/><ellipse cx="142.4" cy="1491.0" rx="2.3" ry="1.7"/><ellipse cx="186.7" cy="1491.0" rx="2.3" ry="1.7"/><ellipse cx="230.9" cy="1491.0" rx="2.3" ry="1.7"/><ellipse cx="275.2" cy="1491.0" rx="2.3" ry="1.7"/><ellipse cx="319.4" cy="1491.0" rx="2.3" ry="1.7"/><ellipse cx="363.7" cy="1491.0" rx="2.3" ry="1.7"/><ellipse cx="407.9" cy="1491.0" rx="2.3" ry="1.7"/><ellipse cx="452.2" cy="1491.0" rx="2.3" ry="1.7"/><ellipse cx="496.4" cy="1491.0" rx="2.3" ry="1.7"/><ellipse cx="540.7" cy="1491.0" rx="2.3" ry="1.7"/><ellipse cx="584.9" cy="1491.0" rx="2.3" ry="1.7"/><ellipse cx="629.2" cy="1491.0" rx="2.3" ry="1.7"/><ellipse cx="673.4" cy="1491.0" rx="2.3" ry="1.7"/><ellipse cx="717.7" cy="1491.0" rx="2.3" ry="1.7"/><ellipse cx="761.9" cy="1491.0" rx="2.3" ry="1.7"/><ellipse cx="806.2" cy="1491.0" rx="2.3" ry="1.7"/><ellipse cx="850.4" cy="1491.0" rx="2.3" ry="1.7"/><ellipse cx="894.7" cy="1491.0" rx="2.3" ry="1.7"/><ellipse cx="938.9" cy="1491.0" rx="2.3" ry="1.7"/><ellipse cx="983.2" cy="1491.0" rx="2.3" ry="1.7"/><ellipse cx="1027.5" cy="1491.0" rx="2.3" ry="1.7"/><ellipse cx="1071.7" cy="1491.0" rx="2.3" ry="1.7"/><ellipse cx="1116.0" cy="1491.0" rx="2.3" ry="1.7"/><ellipse cx="26.3" cy="1505.8" rx="2.3" ry="1.7"/><ellipse cx="71.0" cy="1505.8" rx="2.3" ry="1.7"/><ellipse cx="115.7" cy="1505.8" rx="2.3" ry="1.7"/><ellipse cx="160.4" cy="1505.8" rx="2.3" ry="1.7"/><ellipse cx="205.2" cy="1505.8" rx="2.3" ry="1.7"/><ellipse cx="249.9" cy="1505.8" rx="2.3" ry="1.7"/><ellipse cx="294.6" cy="1505.8" rx="2.3" ry="1.7"/><ellipse cx="339.3" cy="1505.8" rx="2.3" ry="1.7"/><ellipse cx="384.0" cy="1505.8" rx="2.3" ry="1.7"/><ellipse cx="428.7" cy="1505.8" rx="2.3" ry="1.7"/><ellipse cx="473.5" cy="1505.8" rx="2.3" ry="1.7"/><ellipse cx="518.2" cy="1505.8" rx="2.3" ry="1.7"/><ellipse cx="562.9" cy="1505.8" rx="2.3" ry="1.7"/><ellipse cx="607.6" cy="1505.8" rx="2.3" ry="1.7"/><ellipse cx="652.3" cy="1505.8" rx="2.3" ry="1.7"/><ellipse cx="697.0" cy="1505.8" rx="2.3" ry="1.7"/><ellipse cx="741.8" cy="1505.8" rx="2.3" ry="1.7"/><ellipse cx="786.5" cy="1505.8" rx="2.3" ry="1.7"/><ellipse cx="831.2" cy="1505.8" rx="2.3" ry="1.7"/><ellipse cx="875.9" cy="1505.8" rx="2.3" ry="1.7"/><ellipse cx="920.6" cy="1505.8" rx="2.3" ry="1.7"/><ellipse cx="965.3" cy="1505.8" rx="2.3" ry="1.7"/><ellipse cx="1010.1" cy="1505.8" rx="2.3" ry="1.7"/><ellipse cx="1054.8" cy="1505.8" rx="2.3" ry="1.7"/><ellipse cx="1099.5" cy="1505.8" rx="2.3" ry="1.7"/><ellipse cx="1.0" cy="1520.6" rx="2.3" ry="1.7"/><ellipse cx="46.2" cy="1520.6" rx="2.3" ry="1.7"/><ellipse cx="91.4" cy="1520.6" rx="2.3" ry="1.7"/><ellipse cx="136.6" cy="1520.6" rx="2.3" ry="1.7"/><ellipse cx="181.8" cy="1520.6" rx="2.3" ry="1.7"/><ellipse cx="227.0" cy="1520.6" rx="2.3" ry="1.7"/><ellipse cx="272.1" cy="1520.6" rx="2.3" ry="1.7"/><ellipse cx="317.3" cy="1520.6" rx="2.3" ry="1.7"/><ellipse cx="362.5" cy="1520.6" rx="2.3" ry="1.7"/><ellipse cx="407.7" cy="1520.6" rx="2.3" ry="1.7"/><ellipse cx="452.9" cy="1520.6" rx="2.3" ry="1.7"/><ellipse cx="498.0" cy="1520.6" rx="2.3" ry="1.7"/><ellipse cx="543.2" cy="1520.6" rx="2.3" ry="1.7"/><ellipse cx="588.4" cy="1520.6" rx="2.3" ry="1.7"/><ellipse cx="633.6" cy="1520.6" rx="2.3" ry="1.7"/><ellipse cx="678.8" cy="1520.6" rx="2.3" ry="1.7"/><ellipse cx="723.9" cy="1520.6" rx="2.3" ry="1.7"/><ellipse cx="769.1" cy="1520.6" rx="2.3" ry="1.7"/><ellipse cx="814.3" cy="1520.6" rx="2.3" ry="1.7"/><ellipse cx="859.5" cy="1520.6" rx="2.3" ry="1.7"/><ellipse cx="904.7" cy="1520.6" rx="2.3" ry="1.7"/><ellipse cx="949.9" cy="1520.6" rx="2.3" ry="1.7"/><ellipse cx="995.0" cy="1520.6" rx="2.3" ry="1.7"/><ellipse cx="1040.2" cy="1520.6" rx="2.3" ry="1.7"/><ellipse cx="1085.4" cy="1520.6" rx="2.3" ry="1.7"/><ellipse cx="18.1" cy="1535.4" rx="2.3" ry="1.7"/><ellipse cx="63.7" cy="1535.4" rx="2.3" ry="1.7"/><ellipse cx="109.4" cy="1535.4" rx="2.3" ry="1.7"/><ellipse cx="155.0" cy="1535.4" rx="2.3" ry="1.7"/><ellipse cx="200.7" cy="1535.4" rx="2.3" ry="1.7"/><ellipse cx="246.3" cy="1535.4" rx="2.3" ry="1.7"/><ellipse cx="292.0" cy="1535.4" rx="2.3" ry="1.7"/><ellipse cx="337.6" cy="1535.4" rx="2.3" ry="1.7"/><ellipse cx="383.3" cy="1535.4" rx="2.3" ry="1.7"/><ellipse cx="428.9" cy="1535.4" rx="2.3" ry="1.7"/><ellipse cx="474.6" cy="1535.4" rx="2.3" ry="1.7"/><ellipse cx="520.2" cy="1535.4" rx="2.3" ry="1.7"/><ellipse cx="565.9" cy="1535.4" rx="2.3" ry="1.7"/><ellipse cx="611.5" cy="1535.4" rx="2.3" ry="1.7"/><ellipse cx="657.2" cy="1535.4" rx="2.3" ry="1.7"/><ellipse cx="702.8" cy="1535.4" rx="2.3" ry="1.7"/><ellipse cx="748.4" cy="1535.4" rx="2.3" ry="1.7"/><ellipse cx="794.1" cy="1535.4" rx="2.3" ry="1.7"/><ellipse cx="839.7" cy="1535.4" rx="2.3" ry="1.7"/><ellipse cx="885.4" cy="1535.4" rx="2.3" ry="1.7"/><ellipse cx="931.0" cy="1535.4" rx="2.3" ry="1.7"/><ellipse cx="976.7" cy="1535.4" rx="2.3" ry="1.7"/><ellipse cx="1022.3" cy="1535.4" rx="2.3" ry="1.7"/><ellipse cx="1068.0" cy="1535.4" rx="2.3" ry="1.7"/><ellipse cx="1113.6" cy="1535.4" rx="2.3" ry="1.7"/><ellipse cx="-7.6" cy="1550.2" rx="2.3" ry="1.7"/><ellipse cx="38.5" cy="1550.2" rx="2.3" ry="1.7"/><ellipse cx="84.6" cy="1550.2" rx="2.3" ry="1.7"/><ellipse cx="130.8" cy="1550.2" rx="2.3" ry="1.7"/><ellipse cx="176.9" cy="1550.2" rx="2.3" ry="1.7"/><ellipse cx="223.0" cy="1550.2" rx="2.3" ry="1.7"/><ellipse cx="269.1" cy="1550.2" rx="2.3" ry="1.7"/><ellipse cx="315.2" cy="1550.2" rx="2.3" ry="1.7"/><ellipse cx="361.3" cy="1550.2" rx="2.3" ry="1.7"/><ellipse cx="407.4" cy="1550.2" rx="2.3" ry="1.7"/><ellipse cx="453.5" cy="1550.2" rx="2.3" ry="1.7"/><ellipse cx="499.6" cy="1550.2" rx="2.3" ry="1.7"/><ellipse cx="545.8" cy="1550.2" rx="2.3" ry="1.7"/><ellipse cx="591.9" cy="1550.2" rx="2.3" ry="1.7"/><ellipse cx="638.0" cy="1550.2" rx="2.3" ry="1.7"/><ellipse cx="684.1" cy="1550.2" rx="2.3" ry="1.7"/><ellipse cx="730.2" cy="1550.2" rx="2.3" ry="1.7"/><ellipse cx="776.3" cy="1550.2" rx="2.3" ry="1.7"/><ellipse cx="822.4" cy="1550.2" rx="2.3" ry="1.7"/><ellipse cx="868.5" cy="1550.2" rx="2.3" ry="1.7"/><ellipse cx="914.7" cy="1550.2" rx="2.3" ry="1.7"/><ellipse cx="960.8" cy="1550.2" rx="2.3" ry="1.7"/><ellipse cx="1006.9" cy="1550.2" rx="2.3" ry="1.7"/><ellipse cx="1053.0" cy="1550.2" rx="2.3" ry="1.7"/><ellipse cx="1099.1" cy="1550.2" rx="2.3" ry="1.7"/><ellipse cx="9.9" cy="1565.0" rx="2.3" ry="1.7"/><ellipse cx="56.5" cy="1565.0" rx="2.3" ry="1.7"/><ellipse cx="103.1" cy="1565.0" rx="2.3" ry="1.7"/><ellipse cx="149.6" cy="1565.0" rx="2.3" ry="1.7"/><ellipse cx="196.2" cy="1565.0" rx="2.3" ry="1.7"/><ellipse cx="242.8" cy="1565.0" rx="2.3" ry="1.7"/><ellipse cx="289.4" cy="1565.0" rx="2.3" ry="1.7"/><ellipse cx="335.9" cy="1565.0" rx="2.3" ry="1.7"/><ellipse cx="382.5" cy="1565.0" rx="2.3" ry="1.7"/><ellipse cx="429.1" cy="1565.0" rx="2.3" ry="1.7"/><ellipse cx="475.7" cy="1565.0" rx="2.3" ry="1.7"/><ellipse cx="522.3" cy="1565.0" rx="2.3" ry="1.7"/><ellipse cx="568.8" cy="1565.0" rx="2.3" ry="1.7"/><ellipse cx="615.4" cy="1565.0" rx="2.3" ry="1.7"/><ellipse cx="662.0" cy="1565.0" rx="2.3" ry="1.7"/><ellipse cx="708.6" cy="1565.0" rx="2.3" ry="1.7"/><ellipse cx="755.1" cy="1565.0" rx="2.3" ry="1.7"/><ellipse cx="801.7" cy="1565.0" rx="2.3" ry="1.7"/><ellipse cx="848.3" cy="1565.0" rx="2.3" ry="1.7"/><ellipse cx="894.9" cy="1565.0" rx="2.3" ry="1.7"/><ellipse cx="941.5" cy="1565.0" rx="2.3" ry="1.7"/><ellipse cx="988.0" cy="1565.0" rx="2.3" ry="1.7"/><ellipse cx="1034.6" cy="1565.0" rx="2.3" ry="1.7"/><ellipse cx="1081.2" cy="1565.0" rx="2.3" ry="1.7"/><ellipse cx="1127.8" cy="1565.0" rx="2.3" ry="1.7"/><ellipse cx="30.8" cy="1579.8" rx="2.3" ry="1.7"/><ellipse cx="77.9" cy="1579.8" rx="2.3" ry="1.7"/><ellipse cx="124.9" cy="1579.8" rx="2.3" ry="1.7"/><ellipse cx="172.0" cy="1579.8" rx="2.3" ry="1.7"/><ellipse cx="219.0" cy="1579.8" rx="2.3" ry="1.7"/><ellipse cx="266.0" cy="1579.8" rx="2.3" ry="1.7"/><ellipse cx="313.1" cy="1579.8" rx="2.3" ry="1.7"/><ellipse cx="360.1" cy="1579.8" rx="2.3" ry="1.7"/><ellipse cx="407.2" cy="1579.8" rx="2.3" ry="1.7"/><ellipse cx="454.2" cy="1579.8" rx="2.3" ry="1.7"/><ellipse cx="501.3" cy="1579.8" rx="2.3" ry="1.7"/><ellipse cx="548.3" cy="1579.8" rx="2.3" ry="1.7"/><ellipse cx="595.3" cy="1579.8" rx="2.3" ry="1.7"/><ellipse cx="642.4" cy="1579.8" rx="2.3" ry="1.7"/><ellipse cx="689.4" cy="1579.8" rx="2.3" ry="1.7"/><ellipse cx="736.5" cy="1579.8" rx="2.3" ry="1.7"/><ellipse cx="783.5" cy="1579.8" rx="2.3" ry="1.7"/><ellipse cx="830.6" cy="1579.8" rx="2.3" ry="1.7"/><ellipse cx="877.6" cy="1579.8" rx="2.3" ry="1.7"/><ellipse cx="924.6" cy="1579.8" rx="2.3" ry="1.7"/><ellipse cx="971.7" cy="1579.8" rx="2.3" ry="1.7"/><ellipse cx="1018.7" cy="1579.8" rx="2.3" ry="1.7"/><ellipse cx="1065.8" cy="1579.8" rx="2.3" ry="1.7"/><ellipse cx="1112.8" cy="1579.8" rx="2.3" ry="1.7"/><ellipse cx="1.7" cy="1594.6" rx="2.3" ry="1.7"/><ellipse cx="49.2" cy="1594.6" rx="2.3" ry="1.7"/><ellipse cx="96.7" cy="1594.6" rx="2.3" ry="1.7"/><ellipse cx="144.2" cy="1594.6" rx="2.3" ry="1.7"/><ellipse cx="191.7" cy="1594.6" rx="2.3" ry="1.7"/><ellipse cx="239.3" cy="1594.6" rx="2.3" ry="1.7"/><ellipse cx="286.8" cy="1594.6" rx="2.3" ry="1.7"/><ellipse cx="334.3" cy="1594.6" rx="2.3" ry="1.7"/><ellipse cx="381.8" cy="1594.6" rx="2.3" ry="1.7"/><ellipse cx="429.3" cy="1594.6" rx="2.3" ry="1.7"/><ellipse cx="476.8" cy="1594.6" rx="2.3" ry="1.7"/><ellipse cx="524.3" cy="1594.6" rx="2.3" ry="1.7"/><ellipse cx="571.8" cy="1594.6" rx="2.3" ry="1.7"/><ellipse cx="619.3" cy="1594.6" rx="2.3" ry="1.7"/><ellipse cx="666.8" cy="1594.6" rx="2.3" ry="1.7"/><ellipse cx="714.3" cy="1594.6" rx="2.3" ry="1.7"/><ellipse cx="761.8" cy="1594.6" rx="2.3" ry="1.7"/><ellipse cx="809.3" cy="1594.6" rx="2.3" ry="1.7"/><ellipse cx="856.9" cy="1594.6" rx="2.3" ry="1.7"/><ellipse cx="904.4" cy="1594.6" rx="2.3" ry="1.7"/><ellipse cx="951.9" cy="1594.6" rx="2.3" ry="1.7"/><ellipse cx="999.4" cy="1594.6" rx="2.3" ry="1.7"/><ellipse cx="1046.9" cy="1594.6" rx="2.3" ry="1.7"/><ellipse cx="1094.4" cy="1594.6" rx="2.3" ry="1.7"/><ellipse cx="23.1" cy="1609.4" rx="2.3" ry="1.7"/><ellipse cx="71.1" cy="1609.4" rx="2.3" ry="1.7"/><ellipse cx="119.1" cy="1609.4" rx="2.3" ry="1.7"/><ellipse cx="167.1" cy="1609.4" rx="2.3" ry="1.7"/><ellipse cx="215.0" cy="1609.4" rx="2.3" ry="1.7"/><ellipse cx="263.0" cy="1609.4" rx="2.3" ry="1.7"/><ellipse cx="311.0" cy="1609.4" rx="2.3" ry="1.7"/><ellipse cx="358.9" cy="1609.4" rx="2.3" ry="1.7"/><ellipse cx="406.9" cy="1609.4" rx="2.3" ry="1.7"/><ellipse cx="454.9" cy="1609.4" rx="2.3" ry="1.7"/><ellipse cx="502.9" cy="1609.4" rx="2.3" ry="1.7"/><ellipse cx="550.8" cy="1609.4" rx="2.3" ry="1.7"/><ellipse cx="598.8" cy="1609.4" rx="2.3" ry="1.7"/><ellipse cx="646.8" cy="1609.4" rx="2.3" ry="1.7"/><ellipse cx="694.8" cy="1609.4" rx="2.3" ry="1.7"/><ellipse cx="742.7" cy="1609.4" rx="2.3" ry="1.7"/><ellipse cx="790.7" cy="1609.4" rx="2.3" ry="1.7"/><ellipse cx="838.7" cy="1609.4" rx="2.3" ry="1.7"/><ellipse cx="886.6" cy="1609.4" rx="2.3" ry="1.7"/><ellipse cx="934.6" cy="1609.4" rx="2.3" ry="1.7"/><ellipse cx="982.6" cy="1609.4" rx="2.3" ry="1.7"/><ellipse cx="1030.6" cy="1609.4" rx="2.3" ry="1.7"/><ellipse cx="1078.5" cy="1609.4" rx="2.3" ry="1.7"/><ellipse cx="1126.5" cy="1609.4" rx="2.3" ry="1.7"/><ellipse cx="-6.5" cy="1624.2" rx="2.3" ry="1.7"/><ellipse cx="42.0" cy="1624.2" rx="2.3" ry="1.7"/><ellipse cx="90.4" cy="1624.2" rx="2.3" ry="1.7"/><ellipse cx="138.8" cy="1624.2" rx="2.3" ry="1.7"/><ellipse cx="187.3" cy="1624.2" rx="2.3" ry="1.7"/><ellipse cx="235.7" cy="1624.2" rx="2.3" ry="1.7"/><ellipse cx="284.2" cy="1624.2" rx="2.3" ry="1.7"/><ellipse cx="332.6" cy="1624.2" rx="2.3" ry="1.7"/><ellipse cx="381.0" cy="1624.2" rx="2.3" ry="1.7"/><ellipse cx="429.5" cy="1624.2" rx="2.3" ry="1.7"/><ellipse cx="477.9" cy="1624.2" rx="2.3" ry="1.7"/><ellipse cx="526.3" cy="1624.2" rx="2.3" ry="1.7"/><ellipse cx="574.8" cy="1624.2" rx="2.3" ry="1.7"/><ellipse cx="623.2" cy="1624.2" rx="2.3" ry="1.7"/><ellipse cx="671.7" cy="1624.2" rx="2.3" ry="1.7"/><ellipse cx="720.1" cy="1624.2" rx="2.3" ry="1.7"/><ellipse cx="768.5" cy="1624.2" rx="2.3" ry="1.7"/><ellipse cx="817.0" cy="1624.2" rx="2.3" ry="1.7"/><ellipse cx="865.4" cy="1624.2" rx="2.3" ry="1.7"/><ellipse cx="913.8" cy="1624.2" rx="2.3" ry="1.7"/><ellipse cx="962.3" cy="1624.2" rx="2.3" ry="1.7"/><ellipse cx="1010.7" cy="1624.2" rx="2.3" ry="1.7"/><ellipse cx="1059.2" cy="1624.2" rx="2.3" ry="1.7"/><ellipse cx="1107.6" cy="1624.2" rx="2.3" ry="1.7"/><ellipse cx="15.4" cy="1639.0" rx="2.3" ry="1.7"/><ellipse cx="64.3" cy="1639.0" rx="2.3" ry="1.7"/><ellipse cx="113.2" cy="1639.0" rx="2.3" ry="1.7"/><ellipse cx="162.1" cy="1639.0" rx="2.3" ry="1.7"/><ellipse cx="211.1" cy="1639.0" rx="2.3" ry="1.7"/><ellipse cx="260.0" cy="1639.0" rx="2.3" ry="1.7"/><ellipse cx="308.9" cy="1639.0" rx="2.3" ry="1.7"/><ellipse cx="357.8" cy="1639.0" rx="2.3" ry="1.7"/><ellipse cx="406.7" cy="1639.0" rx="2.3" ry="1.7"/><ellipse cx="455.6" cy="1639.0" rx="2.3" ry="1.7"/><ellipse cx="504.5" cy="1639.0" rx="2.3" ry="1.7"/><ellipse cx="553.4" cy="1639.0" rx="2.3" ry="1.7"/><ellipse cx="602.3" cy="1639.0" rx="2.3" ry="1.7"/><ellipse cx="651.2" cy="1639.0" rx="2.3" ry="1.7"/><ellipse cx="700.1" cy="1639.0" rx="2.3" ry="1.7"/><ellipse cx="749.0" cy="1639.0" rx="2.3" ry="1.7"/><ellipse cx="797.9" cy="1639.0" rx="2.3" ry="1.7"/><ellipse cx="846.8" cy="1639.0" rx="2.3" ry="1.7"/><ellipse cx="895.7" cy="1639.0" rx="2.3" ry="1.7"/><ellipse cx="944.6" cy="1639.0" rx="2.3" ry="1.7"/><ellipse cx="993.5" cy="1639.0" rx="2.3" ry="1.7"/><ellipse cx="1042.4" cy="1639.0" rx="2.3" ry="1.7"/><ellipse cx="1091.3" cy="1639.0" rx="2.3" ry="1.7"/><ellipse cx="34.7" cy="1653.8" rx="2.3" ry="1.7"/><ellipse cx="84.1" cy="1653.8" rx="2.3" ry="1.7"/><ellipse cx="133.4" cy="1653.8" rx="2.3" ry="1.7"/><ellipse cx="182.8" cy="1653.8" rx="2.3" ry="1.7"/><ellipse cx="232.2" cy="1653.8" rx="2.3" ry="1.7"/><ellipse cx="281.5" cy="1653.8" rx="2.3" ry="1.7"/><ellipse cx="330.9" cy="1653.8" rx="2.3" ry="1.7"/><ellipse cx="380.3" cy="1653.8" rx="2.3" ry="1.7"/><ellipse cx="429.6" cy="1653.8" rx="2.3" ry="1.7"/><ellipse cx="479.0" cy="1653.8" rx="2.3" ry="1.7"/><ellipse cx="528.4" cy="1653.8" rx="2.3" ry="1.7"/><ellipse cx="577.8" cy="1653.8" rx="2.3" ry="1.7"/><ellipse cx="627.1" cy="1653.8" rx="2.3" ry="1.7"/><ellipse cx="676.5" cy="1653.8" rx="2.3" ry="1.7"/><ellipse cx="725.9" cy="1653.8" rx="2.3" ry="1.7"/><ellipse cx="775.2" cy="1653.8" rx="2.3" ry="1.7"/><ellipse cx="824.6" cy="1653.8" rx="2.3" ry="1.7"/><ellipse cx="874.0" cy="1653.8" rx="2.3" ry="1.7"/><ellipse cx="923.3" cy="1653.8" rx="2.3" ry="1.7"/><ellipse cx="972.7" cy="1653.8" rx="2.3" ry="1.7"/><ellipse cx="1022.1" cy="1653.8" rx="2.3" ry="1.7"/><ellipse cx="1071.4" cy="1653.8" rx="2.3" ry="1.7"/><ellipse cx="1120.8" cy="1653.8" rx="2.3" ry="1.7"/></g>
<rect x="-10" y="1483" width="1130" height="172" fill="#000" filter="url(#fNoise)" opacity="0.07"/>
</g>
<path d="M -10 1650 L 1115 1650 Q 1117 1651 1117 1655 L 1117 1676.5 Q 1117 1683.5 1109 1683.5 L -10 1683.5 Z" fill="#b6d6f6"/>
<path d="M -10 1650 L 1113 1649.5 Q 1117 1651 1117 1653 L 1117 1655 L -10 1655.5 Z" fill="#cdeafd"/>
<rect x="-10" y="1456" width="1128" height="30" fill="#e9ecee"/>
<g clip-path="url(#cCyl)">
<path d="M -28.2 1457 L -1.6 1457 L -1.6 1480 Q -1.9 1489 -14.9 1489 Q -27.4 1489 -28.2 1480 Z" fill="#f1f4f5"/>
<rect x="-13.4" y="1462" width="8.7" height="20" fill="#ffffff" opacity="0.5"/>
<path d="M 0.8 1457 L 27.4 1457 L 27.4 1480 Q 27.1 1489 14.1 1489 Q 1.6 1489 0.8 1480 Z" fill="#f1f4f5"/>
<rect x="15.6" y="1462" width="8.7" height="20" fill="#ffffff" opacity="0.5"/>
<path d="M 29.8 1457 L 56.4 1457 L 56.4 1480 Q 56.1 1489 43.1 1489 Q 30.6 1489 29.8 1480 Z" fill="#f1f4f5"/>
<rect x="44.6" y="1462" width="8.7" height="20" fill="#ffffff" opacity="0.5"/>
<path d="M 58.9 1457 L 85.5 1457 L 85.5 1480 Q 85.2 1489 72.2 1489 Q 59.6 1489 58.9 1480 Z" fill="#f1f4f5"/>
<rect x="73.6" y="1462" width="8.7" height="20" fill="#ffffff" opacity="0.5"/>
<path d="M 87.9 1457 L 114.5 1457 L 114.5 1480 Q 114.2 1489 101.2 1489 Q 88.7 1489 87.9 1480 Z" fill="#f1f4f5"/>
<rect x="102.6" y="1462" width="8.7" height="20" fill="#ffffff" opacity="0.5"/>
<path d="M 116.9 1457 L 143.5 1457 L 143.5 1480 Q 143.2 1489 130.2 1489 Q 117.7 1489 116.9 1480 Z" fill="#f1f4f5"/>
<rect x="131.6" y="1462" width="8.7" height="20" fill="#ffffff" opacity="0.5"/>
<path d="M 145.8 1457 L 172.5 1457 L 172.5 1480 Q 172.2 1489 159.2 1489 Q 146.7 1489 145.8 1480 Z" fill="#f1f4f5"/>
<rect x="160.6" y="1462" width="8.7" height="20" fill="#ffffff" opacity="0.5"/>
<path d="M 174.8 1457 L 201.5 1457 L 201.5 1480 Q 201.2 1489 188.2 1489 Q 175.7 1489 174.8 1480 Z" fill="#f1f4f5"/>
<rect x="189.6" y="1462" width="8.7" height="20" fill="#ffffff" opacity="0.5"/>
<path d="M 203.8 1457 L 230.5 1457 L 230.5 1480 Q 230.2 1489 217.2 1489 Q 204.7 1489 203.8 1480 Z" fill="#f1f4f5"/>
<rect x="218.6" y="1462" width="8.7" height="20" fill="#ffffff" opacity="0.5"/>
<path d="M 232.8 1457 L 259.4 1457 L 259.4 1480 Q 259.1 1489 246.2 1489 Q 233.7 1489 232.8 1480 Z" fill="#f1f4f5"/>
<rect x="247.6" y="1462" width="8.7" height="20" fill="#ffffff" opacity="0.5"/>
<path d="M 261.8 1457 L 288.4 1457 L 288.4 1480 Q 288.1 1489 275.1 1489 Q 262.6 1489 261.8 1480 Z" fill="#f1f4f5"/>
<rect x="276.6" y="1462" width="8.7" height="20" fill="#ffffff" opacity="0.5"/>
<path d="M 290.8 1457 L 317.4 1457 L 317.4 1480 Q 317.1 1489 304.1 1489 Q 291.6 1489 290.8 1480 Z" fill="#f1f4f5"/>
<rect x="305.6" y="1462" width="8.7" height="20" fill="#ffffff" opacity="0.5"/>
<path d="M 319.8 1457 L 346.4 1457 L 346.4 1480 Q 346.1 1489 333.1 1489 Q 320.6 1489 319.8 1480 Z" fill="#f1f4f5"/>
<rect x="334.6" y="1462" width="8.7" height="20" fill="#ffffff" opacity="0.5"/>
<path d="M 348.8 1457 L 375.4 1457 L 375.4 1480 Q 375.1 1489 362.1 1489 Q 349.6 1489 348.8 1480 Z" fill="#f1f4f5"/>
<rect x="363.6" y="1462" width="8.7" height="20" fill="#ffffff" opacity="0.5"/>
<path d="M 377.8 1457 L 404.4 1457 L 404.4 1480 Q 404.1 1489 391.1 1489 Q 378.6 1489 377.8 1480 Z" fill="#f1f4f5"/>
<rect x="392.6" y="1462" width="8.7" height="20" fill="#ffffff" opacity="0.5"/>
<path d="M 406.8 1457 L 433.4 1457 L 433.4 1480 Q 433.1 1489 420.1 1489 Q 407.6 1489 406.8 1480 Z" fill="#f1f4f5"/>
<rect x="421.6" y="1462" width="8.7" height="20" fill="#ffffff" opacity="0.5"/>
<path d="M 435.8 1457 L 462.4 1457 L 462.4 1480 Q 462.1 1489 449.1 1489 Q 436.6 1489 435.8 1480 Z" fill="#f1f4f5"/>
<rect x="450.6" y="1462" width="8.7" height="20" fill="#ffffff" opacity="0.5"/>
<path d="M 464.8 1457 L 491.4 1457 L 491.4 1480 Q 491.1 1489 478.1 1489 Q 465.6 1489 464.8 1480 Z" fill="#f1f4f5"/>
<rect x="479.6" y="1462" width="8.7" height="20" fill="#ffffff" opacity="0.5"/>
<path d="M 493.8 1457 L 520.4 1457 L 520.4 1480 Q 520.1 1489 507.1 1489 Q 494.6 1489 493.8 1480 Z" fill="#f1f4f5"/>
<rect x="508.6" y="1462" width="8.7" height="20" fill="#ffffff" opacity="0.5"/>
<path d="M 522.9 1457 L 549.4 1457 L 549.4 1480 Q 549.1 1489 536.1 1489 Q 523.6 1489 522.9 1480 Z" fill="#f1f4f5"/>
<rect x="537.6" y="1462" width="8.7" height="20" fill="#ffffff" opacity="0.5"/>
<path d="M 551.9 1457 L 578.4 1457 L 578.4 1480 Q 578.1 1489 565.1 1489 Q 552.6 1489 551.9 1480 Z" fill="#f1f4f5"/>
<rect x="566.6" y="1462" width="8.7" height="20" fill="#ffffff" opacity="0.5"/>
<path d="M 580.9 1457 L 607.4 1457 L 607.4 1480 Q 607.1 1489 594.1 1489 Q 581.6 1489 580.9 1480 Z" fill="#f1f4f5"/>
<rect x="595.6" y="1462" width="8.7" height="20" fill="#ffffff" opacity="0.5"/>
<path d="M 609.9 1457 L 636.4 1457 L 636.4 1480 Q 636.1 1489 623.1 1489 Q 610.6 1489 609.9 1480 Z" fill="#f1f4f5"/>
<rect x="624.6" y="1462" width="8.7" height="20" fill="#ffffff" opacity="0.5"/>
<path d="M 638.9 1457 L 665.4 1457 L 665.4 1480 Q 665.1 1489 652.1 1489 Q 639.6 1489 638.9 1480 Z" fill="#f1f4f5"/>
<rect x="653.6" y="1462" width="8.7" height="20" fill="#ffffff" opacity="0.5"/>
<path d="M 667.9 1457 L 694.4 1457 L 694.4 1480 Q 694.1 1489 681.1 1489 Q 668.6 1489 667.9 1480 Z" fill="#f1f4f5"/>
<rect x="682.6" y="1462" width="8.7" height="20" fill="#ffffff" opacity="0.5"/>
<path d="M 696.9 1457 L 723.4 1457 L 723.4 1480 Q 723.1 1489 710.1 1489 Q 697.6 1489 696.9 1480 Z" fill="#f1f4f5"/>
<rect x="711.6" y="1462" width="8.7" height="20" fill="#ffffff" opacity="0.5"/>
<path d="M 725.9 1457 L 752.4 1457 L 752.4 1480 Q 752.1 1489 739.1 1489 Q 726.6 1489 725.9 1480 Z" fill="#f1f4f5"/>
<rect x="740.6" y="1462" width="8.7" height="20" fill="#ffffff" opacity="0.5"/>
<path d="M 754.9 1457 L 781.4 1457 L 781.4 1480 Q 781.1 1489 768.1 1489 Q 755.6 1489 754.9 1480 Z" fill="#f1f4f5"/>
<rect x="769.6" y="1462" width="8.7" height="20" fill="#ffffff" opacity="0.5"/>
<path d="M 783.9 1457 L 810.4 1457 L 810.4 1480 Q 810.1 1489 797.1 1489 Q 784.6 1489 783.9 1480 Z" fill="#f1f4f5"/>
<rect x="798.6" y="1462" width="8.7" height="20" fill="#ffffff" opacity="0.5"/>
<path d="M 812.9 1457 L 839.4 1457 L 839.4 1480 Q 839.1 1489 826.1 1489 Q 813.6 1489 812.9 1480 Z" fill="#f1f4f5"/>
<rect x="827.6" y="1462" width="8.7" height="20" fill="#ffffff" opacity="0.5"/>
<path d="M 841.9 1457 L 868.4 1457 L 868.4 1480 Q 868.1 1489 855.1 1489 Q 842.6 1489 841.9 1480 Z" fill="#f1f4f5"/>
<rect x="856.6" y="1462" width="8.7" height="20" fill="#ffffff" opacity="0.5"/>
<path d="M 870.9 1457 L 897.4 1457 L 897.4 1480 Q 897.1 1489 884.1 1489 Q 871.6 1489 870.9 1480 Z" fill="#f1f4f5"/>
<rect x="885.6" y="1462" width="8.7" height="20" fill="#ffffff" opacity="0.5"/>
<path d="M 899.9 1457 L 926.4 1457 L 926.4 1480 Q 926.1 1489 913.1 1489 Q 900.6 1489 899.9 1480 Z" fill="#f1f4f5"/>
<rect x="914.6" y="1462" width="8.7" height="20" fill="#ffffff" opacity="0.5"/>
<path d="M 928.9 1457 L 955.4 1457 L 955.4 1480 Q 955.1 1489 942.1 1489 Q 929.6 1489 928.9 1480 Z" fill="#f1f4f5"/>
<rect x="943.6" y="1462" width="8.7" height="20" fill="#ffffff" opacity="0.5"/>
<path d="M 957.9 1457 L 984.4 1457 L 984.4 1480 Q 984.1 1489 971.1 1489 Q 958.6 1489 957.9 1480 Z" fill="#f1f4f5"/>
<rect x="972.6" y="1462" width="8.7" height="20" fill="#ffffff" opacity="0.5"/>
<path d="M 986.9 1457 L 1013.4 1457 L 1013.4 1480 Q 1013.1 1489 1000.1 1489 Q 987.6 1489 986.9 1480 Z" fill="#f1f4f5"/>
<rect x="1001.6" y="1462" width="8.7" height="20" fill="#ffffff" opacity="0.5"/>
<path d="M 1015.9 1457 L 1042.5 1457 L 1042.5 1480 Q 1042.2 1489 1029.2 1489 Q 1016.6 1489 1015.9 1480 Z" fill="#f1f4f5"/>
<rect x="1030.6" y="1462" width="8.7" height="20" fill="#ffffff" opacity="0.5"/>
<path d="M 1044.9 1457 L 1071.5 1457 L 1071.5 1480 Q 1071.2 1489 1058.2 1489 Q 1045.7 1489 1044.9 1480 Z" fill="#f1f4f5"/>
<rect x="1059.6" y="1462" width="8.7" height="20" fill="#ffffff" opacity="0.5"/>
<path d="M 1073.9 1457 L 1100.5 1457 L 1100.5 1480 Q 1100.2 1489 1087.2 1489 Q 1074.7 1489 1073.9 1480 Z" fill="#f1f4f5"/>
<rect x="1088.6" y="1462" width="8.7" height="20" fill="#ffffff" opacity="0.5"/>
<path d="M 1102.9 1457 L 1129.5 1457 L 1129.5 1480 Q 1129.2 1489 1116.2 1489 Q 1103.7 1489 1102.9 1480 Z" fill="#f1f4f5"/>
<rect x="1117.6" y="1462" width="8.7" height="20" fill="#ffffff" opacity="0.5"/>
</g>
<g stroke="#6b7d93" stroke-width="2.2" opacity="0.8" clip-path="url(#cCyl)">
<line x1="-29.4" y1="1457" x2="-29.4" y2="1485"/>
<line x1="-0.4" y1="1457" x2="-0.4" y2="1485"/>
<line x1="28.6" y1="1457" x2="28.6" y2="1485"/>
<line x1="57.6" y1="1457" x2="57.6" y2="1485"/>
<line x1="86.7" y1="1457" x2="86.7" y2="1485"/>
<line x1="115.7" y1="1457" x2="115.7" y2="1485"/>
<line x1="144.7" y1="1457" x2="144.7" y2="1485"/>
<line x1="173.7" y1="1457" x2="173.7" y2="1485"/>
<line x1="202.7" y1="1457" x2="202.7" y2="1485"/>
<line x1="231.7" y1="1457" x2="231.7" y2="1485"/>
<line x1="260.6" y1="1457" x2="260.6" y2="1485"/>
<line x1="289.6" y1="1457" x2="289.6" y2="1485"/>
<line x1="318.6" y1="1457" x2="318.6" y2="1485"/>
<line x1="347.6" y1="1457" x2="347.6" y2="1485"/>
<line x1="376.6" y1="1457" x2="376.6" y2="1485"/>
<line x1="405.6" y1="1457" x2="405.6" y2="1485"/>
<line x1="434.6" y1="1457" x2="434.6" y2="1485"/>
<line x1="463.6" y1="1457" x2="463.6" y2="1485"/>
<line x1="492.6" y1="1457" x2="492.6" y2="1485"/>
<line x1="521.6" y1="1457" x2="521.6" y2="1485"/>
<line x1="550.6" y1="1457" x2="550.6" y2="1485"/>
<line x1="579.6" y1="1457" x2="579.6" y2="1485"/>
<line x1="608.6" y1="1457" x2="608.6" y2="1485"/>
<line x1="637.6" y1="1457" x2="637.6" y2="1485"/>
<line x1="666.6" y1="1457" x2="666.6" y2="1485"/>
<line x1="695.6" y1="1457" x2="695.6" y2="1485"/>
<line x1="724.6" y1="1457" x2="724.6" y2="1485"/>
<line x1="753.6" y1="1457" x2="753.6" y2="1485"/>
<line x1="782.6" y1="1457" x2="782.6" y2="1485"/>
<line x1="811.6" y1="1457" x2="811.6" y2="1485"/>
<line x1="840.6" y1="1457" x2="840.6" y2="1485"/>
<line x1="869.6" y1="1457" x2="869.6" y2="1485"/>
<line x1="898.6" y1="1457" x2="898.6" y2="1485"/>
<line x1="927.6" y1="1457" x2="927.6" y2="1485"/>
<line x1="956.6" y1="1457" x2="956.6" y2="1485"/>
<line x1="985.6" y1="1457" x2="985.6" y2="1485"/>
<line x1="1014.6" y1="1457" x2="1014.6" y2="1485"/>
<line x1="1043.7" y1="1457" x2="1043.7" y2="1485"/>
<line x1="1072.7" y1="1457" x2="1072.7" y2="1485"/>
<line x1="1101.7" y1="1457" x2="1101.7" y2="1485"/>
</g>
<path d="M -10 1683.5 L 1030 1683.5 L 1092.5 1784 L -10 1784 Z" fill="url(#gNW)"/>
<g clip-path="url(#cNW)"><rect x="-10" y="1683" width="1110" height="102" fill="url(#pKnit)" opacity="0.35"/><rect x="-10" y="1683" width="1110" height="102" fill="#fff" filter="url(#fNoiseW)" opacity="0.25"/></g>
<rect x="-10" y="1784" width="1103" height="8" fill="#f1f2f4"/>
<path d="M -10 1792 L 1092.5 1792 L 1092.5 1933 Q 1092.5 1941 1084 1941 L -10 1941 Z" fill="#e2e0e6"/>
<g fill="#ffffff" opacity="0.32">
<rect x="-8.0" y="1792" width="4" height="150"/>
<rect x="2.5" y="1792" width="4" height="150"/>
<rect x="13.0" y="1792" width="4" height="150"/>
<rect x="23.5" y="1792" width="4" height="150"/>
<rect x="34.0" y="1792" width="4" height="150"/>
<rect x="44.5" y="1792" width="4" height="150"/>
<rect x="55.0" y="1792" width="4" height="150"/>
<rect x="65.5" y="1792" width="4" height="150"/>
<rect x="76.0" y="1792" width="4" height="150"/>
<rect x="86.5" y="1792" width="4" height="150"/>
<rect x="97.0" y="1792" width="4" height="150"/>
<rect x="107.5" y="1792" width="4" height="150"/>
<rect x="118.0" y="1792" width="4" height="150"/>
<rect x="128.5" y="1792" width="4" height="150"/>
<rect x="139.0" y="1792" width="4" height="150"/>
<rect x="149.5" y="1792" width="4" height="150"/>
<rect x="160.0" y="1792" width="4" height="150"/>
<rect x="170.5" y="1792" width="4" height="150"/>
<rect x="181.0" y="1792" width="4" height="150"/>
<rect x="191.5" y="1792" width="4" height="150"/>
<rect x="202.0" y="1792" width="4" height="150"/>
<rect x="212.5" y="1792" width="4" height="150"/>
<rect x="223.0" y="1792" width="4" height="150"/>
<rect x="233.5" y="1792" width="4" height="150"/>
<rect x="244.0" y="1792" width="4" height="150"/>
<rect x="254.5" y="1792" width="4" height="150"/>
<rect x="265.0" y="1792" width="4" height="150"/>
<rect x="275.5" y="1792" width="4" height="150"/>
<rect x="286.0" y="1792" width="4" height="150"/>
<rect x="296.5" y="1792" width="4" height="150"/>
<rect x="307.0" y="1792" width="4" height="150"/>
<rect x="317.5" y="1792" width="4" height="150"/>
<rect x="328.0" y="1792" width="4" height="150"/>
<rect x="338.5" y="1792" width="4" height="150"/>
<rect x="349.0" y="1792" width="4" height="150"/>
<rect x="359.5" y="1792" width="4" height="150"/>
<rect x="370.0" y="1792" width="4" height="150"/>
<rect x="380.5" y="1792" width="4" height="150"/>
<rect x="391.0" y="1792" width="4" height="150"/>
<rect x="401.5" y="1792" width="4" height="150"/>
<rect x="412.0" y="1792" width="4" height="150"/>
<rect x="422.5" y="1792" width="4" height="150"/>
<rect x="433.0" y="1792" width="4" height="150"/>
<rect x="443.5" y="1792" width="4" height="150"/>
<rect x="454.0" y="1792" width="4" height="150"/>
<rect x="464.5" y="1792" width="4" height="150"/>
<rect x="475.0" y="1792" width="4" height="150"/>
<rect x="485.5" y="1792" width="4" height="150"/>
<rect x="496.0" y="1792" width="4" height="150"/>
<rect x="506.5" y="1792" width="4" height="150"/>
<rect x="517.0" y="1792" width="4" height="150"/>
<rect x="527.5" y="1792" width="4" height="150"/>
<rect x="538.0" y="1792" width="4" height="150"/>
<rect x="548.5" y="1792" width="4" height="150"/>
<rect x="559.0" y="1792" width="4" height="150"/>
<rect x="569.5" y="1792" width="4" height="150"/>
<rect x="580.0" y="1792" width="4" height="150"/>
<rect x="590.5" y="1792" width="4" height="150"/>
<rect x="601.0" y="1792" width="4" height="150"/>
<rect x="611.5" y="1792" width="4" height="150"/>
<rect x="622.0" y="1792" width="4" height="150"/>
<rect x="632.5" y="1792" width="4" height="150"/>
<rect x="643.0" y="1792" width="4" height="150"/>
<rect x="653.5" y="1792" width="4" height="150"/>
<rect x="664.0" y="1792" width="4" height="150"/>
<rect x="674.5" y="1792" width="4" height="150"/>
<rect x="685.0" y="1792" width="4" height="150"/>
<rect x="695.5" y="1792" width="4" height="150"/>
<rect x="706.0" y="1792" width="4" height="150"/>
<rect x="716.5" y="1792" width="4" height="150"/>
<rect x="727.0" y="1792" width="4" height="150"/>
<rect x="737.5" y="1792" width="4" height="150"/>
<rect x="748.0" y="1792" width="4" height="150"/>
<rect x="758.5" y="1792" width="4" height="150"/>
<rect x="769.0" y="1792" width="4" height="150"/>
<rect x="779.5" y="1792" width="4" height="150"/>
<rect x="790.0" y="1792" width="4" height="150"/>
<rect x="800.5" y="1792" width="4" height="150"/>
<rect x="811.0" y="1792" width="4" height="150"/>
<rect x="821.5" y="1792" width="4" height="150"/>
<rect x="832.0" y="1792" width="4" height="150"/>
<rect x="842.5" y="1792" width="4" height="150"/>
<rect x="853.0" y="1792" width="4" height="150"/>
<rect x="863.5" y="1792" width="4" height="150"/>
<rect x="874.0" y="1792" width="4" height="150"/>
<rect x="884.5" y="1792" width="4" height="150"/>
<rect x="895.0" y="1792" width="4" height="150"/>
<rect x="905.5" y="1792" width="4" height="150"/>
<rect x="916.0" y="1792" width="4" height="150"/>
<rect x="926.5" y="1792" width="4" height="150"/>
<rect x="937.0" y="1792" width="4" height="150"/>
<rect x="947.5" y="1792" width="4" height="150"/>
<rect x="958.0" y="1792" width="4" height="150"/>
<rect x="968.5" y="1792" width="4" height="150"/>
<rect x="979.0" y="1792" width="4" height="150"/>
<rect x="989.5" y="1792" width="4" height="150"/>
<rect x="1000.0" y="1792" width="4" height="150"/>
<rect x="1010.5" y="1792" width="4" height="150"/>
<rect x="1021.0" y="1792" width="4" height="150"/>
<rect x="1031.5" y="1792" width="4" height="150"/>
<rect x="1042.0" y="1792" width="4" height="150"/>
<rect x="1052.5" y="1792" width="4" height="150"/>
<rect x="1063.0" y="1792" width="4" height="150"/>
<rect x="1073.5" y="1792" width="4" height="150"/>
<rect x="1084.0" y="1792" width="4" height="150"/>
</g>
<rect x="-10" y="1792" width="1102.5" height="150" fill="#000" filter="url(#fNoise)" opacity="0.06"/>
<rect x="-10" y="1950" width="1105" height="24" fill="#d6d6d6" opacity="0.85" filter="url(#fBlurSh)"/>
<path d="M -10 1943 L 1088 1943 Q 1096 1944 1096 1950 Q 1095 1956.5 1086 1956.5 L -10 1956.5 Z" fill="url(#gPipe3)"/>
<path d="M -10 1943 L 1082 1943 Q 1093 1942.5 1093.5 1931 L 1091.5 1922.5" fill="none" stroke="#080808" stroke-width="4.5" stroke-linecap="round"/>
<g fill="#f3ece2" opacity="0.3">
<circle cx="1009" cy="795" r="13.2"/><rect x="1009" y="790.4" width="140" height="9.2"/>
<circle cx="1009" cy="1003" r="13.2"/><rect x="1009" y="998.4" width="140" height="9.2"/>
<circle cx="1009" cy="1211" r="13.2"/><rect x="1009" y="1206.4" width="140" height="9.2"/>
<circle cx="1009" cy="1418.5" r="13.2"/><rect x="1009" y="1413.9" width="140" height="9.2"/>
<circle cx="1009" cy="1626.5" r="13.2"/><rect x="1009" y="1621.9" width="140" height="9.2"/>
<circle cx="1009" cy="1834.5" r="13.2"/><rect x="1009" y="1829.9" width="140" height="9.2"/>
</g>
<g fill="#0099ff">
<circle cx="1009" cy="587" r="11.5"/><rect x="1009" y="584" width="949" height="6"/>
<circle cx="1009" cy="795" r="11.5"/><rect x="1009" y="792" width="949" height="6"/>
<circle cx="1009" cy="1003" r="11.5"/><rect x="1009" y="1000" width="949" height="6"/>
<circle cx="1009" cy="1211" r="11.5"/><rect x="1009" y="1208" width="949" height="6"/>
<circle cx="1009" cy="1418.5" r="11.5"/><rect x="1009" y="1415.5" width="949" height="6"/>
<circle cx="1009" cy="1626.5" r="11.5"/><rect x="1009" y="1623.5" width="949" height="6"/>
<circle cx="1009" cy="1834.5" r="11.5"/><rect x="1009" y="1831.5" width="949" height="6"/>
</g></svg>
<div class="lbl" style="top:457px;letter-spacing:2.73px;right:45.67px">Turkish organic cotton</div>
<div class="lbl" style="top:518.5px;letter-spacing:3.32px;right:46.58px">blend knitted fabric</div>
<div class="lbl" style="top:717.7px;letter-spacing:3.22px;right:45.18px">Soft conforming foam</div>
<div class="lbl" style="top:923.1px;letter-spacing:2.44px;right:45.96px">Wave foam</div>
<div class="lbl" style="top:1122.3px;letter-spacing:2.9px;right:45.50px">High density foam</div>
<div class="lbl" style="top:1331.3px;letter-spacing:2.82px;right:45.58px">Mini pocket spring</div>
<div class="lbl" style="top:1544.9px;letter-spacing:2.9px;right:45.50px">High density foam</div>
<div class="lbl" style="top:1762.1px;letter-spacing:2.72px;right:47.18px">Strong non-woven fabric</div>
</body>
</html>
